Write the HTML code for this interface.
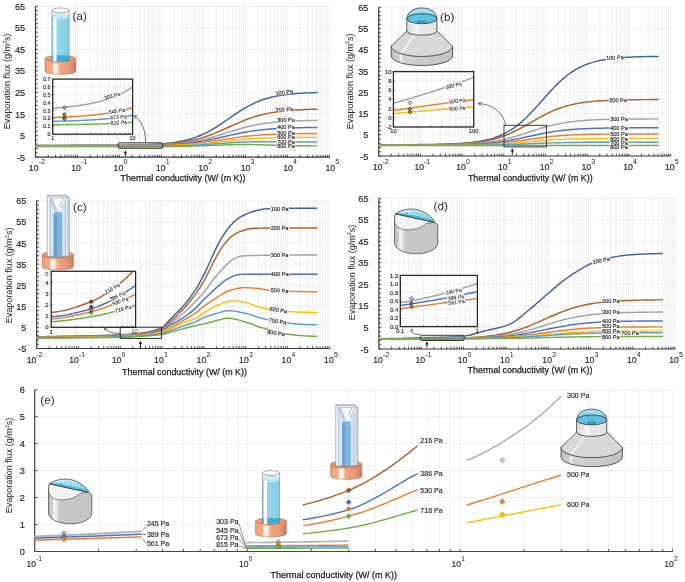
<!DOCTYPE html>
<html><head><meta charset="utf-8"><style>html,body{margin:0;padding:0;background:#fff;width:685px;height:582px;overflow:hidden} svg{display:block;will-change:transform}</style></head>
<body>
<svg width="685" height="582" viewBox="0 0 685 582" font-family='"Liberation Sans", sans-serif'>
<rect width="685" height="582" fill="#fff"/>
<line x1="48.14" y1="6.3" x2="48.14" y2="157.1" stroke="#ebebeb" stroke-width="0.8"/>
<line x1="55.54" y1="6.3" x2="55.54" y2="157.1" stroke="#ebebeb" stroke-width="0.8"/>
<line x1="60.79" y1="6.3" x2="60.79" y2="157.1" stroke="#ebebeb" stroke-width="0.8"/>
<line x1="64.86" y1="6.3" x2="64.86" y2="157.1" stroke="#ebebeb" stroke-width="0.8"/>
<line x1="68.18" y1="6.3" x2="68.18" y2="157.1" stroke="#ebebeb" stroke-width="0.8"/>
<line x1="70.99" y1="6.3" x2="70.99" y2="157.1" stroke="#ebebeb" stroke-width="0.8"/>
<line x1="73.43" y1="6.3" x2="73.43" y2="157.1" stroke="#ebebeb" stroke-width="0.8"/>
<line x1="75.58" y1="6.3" x2="75.58" y2="157.1" stroke="#ebebeb" stroke-width="0.8"/>
<line x1="77.5" y1="6.3" x2="77.5" y2="157.1" stroke="#ebebeb" stroke-width="0.8"/>
<line x1="90.14" y1="6.3" x2="90.14" y2="157.1" stroke="#ebebeb" stroke-width="0.8"/>
<line x1="97.54" y1="6.3" x2="97.54" y2="157.1" stroke="#ebebeb" stroke-width="0.8"/>
<line x1="102.79" y1="6.3" x2="102.79" y2="157.1" stroke="#ebebeb" stroke-width="0.8"/>
<line x1="106.86" y1="6.3" x2="106.86" y2="157.1" stroke="#ebebeb" stroke-width="0.8"/>
<line x1="110.18" y1="6.3" x2="110.18" y2="157.1" stroke="#ebebeb" stroke-width="0.8"/>
<line x1="112.99" y1="6.3" x2="112.99" y2="157.1" stroke="#ebebeb" stroke-width="0.8"/>
<line x1="115.43" y1="6.3" x2="115.43" y2="157.1" stroke="#ebebeb" stroke-width="0.8"/>
<line x1="117.58" y1="6.3" x2="117.58" y2="157.1" stroke="#ebebeb" stroke-width="0.8"/>
<line x1="119.5" y1="6.3" x2="119.5" y2="157.1" stroke="#ebebeb" stroke-width="0.8"/>
<line x1="132.14" y1="6.3" x2="132.14" y2="157.1" stroke="#ebebeb" stroke-width="0.8"/>
<line x1="139.54" y1="6.3" x2="139.54" y2="157.1" stroke="#ebebeb" stroke-width="0.8"/>
<line x1="144.79" y1="6.3" x2="144.79" y2="157.1" stroke="#ebebeb" stroke-width="0.8"/>
<line x1="148.86" y1="6.3" x2="148.86" y2="157.1" stroke="#ebebeb" stroke-width="0.8"/>
<line x1="152.18" y1="6.3" x2="152.18" y2="157.1" stroke="#ebebeb" stroke-width="0.8"/>
<line x1="154.99" y1="6.3" x2="154.99" y2="157.1" stroke="#ebebeb" stroke-width="0.8"/>
<line x1="157.43" y1="6.3" x2="157.43" y2="157.1" stroke="#ebebeb" stroke-width="0.8"/>
<line x1="159.58" y1="6.3" x2="159.58" y2="157.1" stroke="#ebebeb" stroke-width="0.8"/>
<line x1="161.5" y1="6.3" x2="161.5" y2="157.1" stroke="#ebebeb" stroke-width="0.8"/>
<line x1="174.14" y1="6.3" x2="174.14" y2="157.1" stroke="#ebebeb" stroke-width="0.8"/>
<line x1="181.54" y1="6.3" x2="181.54" y2="157.1" stroke="#ebebeb" stroke-width="0.8"/>
<line x1="186.79" y1="6.3" x2="186.79" y2="157.1" stroke="#ebebeb" stroke-width="0.8"/>
<line x1="190.86" y1="6.3" x2="190.86" y2="157.1" stroke="#ebebeb" stroke-width="0.8"/>
<line x1="194.18" y1="6.3" x2="194.18" y2="157.1" stroke="#ebebeb" stroke-width="0.8"/>
<line x1="196.99" y1="6.3" x2="196.99" y2="157.1" stroke="#ebebeb" stroke-width="0.8"/>
<line x1="199.43" y1="6.3" x2="199.43" y2="157.1" stroke="#ebebeb" stroke-width="0.8"/>
<line x1="201.58" y1="6.3" x2="201.58" y2="157.1" stroke="#ebebeb" stroke-width="0.8"/>
<line x1="203.5" y1="6.3" x2="203.5" y2="157.1" stroke="#ebebeb" stroke-width="0.8"/>
<line x1="216.14" y1="6.3" x2="216.14" y2="157.1" stroke="#ebebeb" stroke-width="0.8"/>
<line x1="223.54" y1="6.3" x2="223.54" y2="157.1" stroke="#ebebeb" stroke-width="0.8"/>
<line x1="228.79" y1="6.3" x2="228.79" y2="157.1" stroke="#ebebeb" stroke-width="0.8"/>
<line x1="232.86" y1="6.3" x2="232.86" y2="157.1" stroke="#ebebeb" stroke-width="0.8"/>
<line x1="236.18" y1="6.3" x2="236.18" y2="157.1" stroke="#ebebeb" stroke-width="0.8"/>
<line x1="238.99" y1="6.3" x2="238.99" y2="157.1" stroke="#ebebeb" stroke-width="0.8"/>
<line x1="241.43" y1="6.3" x2="241.43" y2="157.1" stroke="#ebebeb" stroke-width="0.8"/>
<line x1="243.58" y1="6.3" x2="243.58" y2="157.1" stroke="#ebebeb" stroke-width="0.8"/>
<line x1="245.5" y1="6.3" x2="245.5" y2="157.1" stroke="#ebebeb" stroke-width="0.8"/>
<line x1="258.14" y1="6.3" x2="258.14" y2="157.1" stroke="#ebebeb" stroke-width="0.8"/>
<line x1="265.54" y1="6.3" x2="265.54" y2="157.1" stroke="#ebebeb" stroke-width="0.8"/>
<line x1="270.79" y1="6.3" x2="270.79" y2="157.1" stroke="#ebebeb" stroke-width="0.8"/>
<line x1="274.86" y1="6.3" x2="274.86" y2="157.1" stroke="#ebebeb" stroke-width="0.8"/>
<line x1="278.18" y1="6.3" x2="278.18" y2="157.1" stroke="#ebebeb" stroke-width="0.8"/>
<line x1="280.99" y1="6.3" x2="280.99" y2="157.1" stroke="#ebebeb" stroke-width="0.8"/>
<line x1="283.43" y1="6.3" x2="283.43" y2="157.1" stroke="#ebebeb" stroke-width="0.8"/>
<line x1="285.58" y1="6.3" x2="285.58" y2="157.1" stroke="#ebebeb" stroke-width="0.8"/>
<line x1="287.5" y1="6.3" x2="287.5" y2="157.1" stroke="#ebebeb" stroke-width="0.8"/>
<line x1="300.14" y1="6.3" x2="300.14" y2="157.1" stroke="#ebebeb" stroke-width="0.8"/>
<line x1="307.54" y1="6.3" x2="307.54" y2="157.1" stroke="#ebebeb" stroke-width="0.8"/>
<line x1="312.79" y1="6.3" x2="312.79" y2="157.1" stroke="#ebebeb" stroke-width="0.8"/>
<line x1="316.86" y1="6.3" x2="316.86" y2="157.1" stroke="#ebebeb" stroke-width="0.8"/>
<line x1="320.18" y1="6.3" x2="320.18" y2="157.1" stroke="#ebebeb" stroke-width="0.8"/>
<line x1="322.99" y1="6.3" x2="322.99" y2="157.1" stroke="#ebebeb" stroke-width="0.8"/>
<line x1="325.43" y1="6.3" x2="325.43" y2="157.1" stroke="#ebebeb" stroke-width="0.8"/>
<line x1="327.58" y1="6.3" x2="327.58" y2="157.1" stroke="#ebebeb" stroke-width="0.8"/>
<line x1="329.5" y1="6.3" x2="329.5" y2="157.1" stroke="#ebebeb" stroke-width="0.8"/>
<line x1="35.5" y1="6.3" x2="329.5" y2="6.3" stroke="#ebebeb" stroke-width="0.8"/>
<line x1="35.5" y1="27.84" x2="329.5" y2="27.84" stroke="#ebebeb" stroke-width="0.8"/>
<line x1="35.5" y1="49.39" x2="329.5" y2="49.39" stroke="#ebebeb" stroke-width="0.8"/>
<line x1="35.5" y1="70.93" x2="329.5" y2="70.93" stroke="#ebebeb" stroke-width="0.8"/>
<line x1="35.5" y1="92.47" x2="329.5" y2="92.47" stroke="#ebebeb" stroke-width="0.8"/>
<line x1="35.5" y1="114.01" x2="329.5" y2="114.01" stroke="#ebebeb" stroke-width="0.8"/>
<line x1="35.5" y1="135.56" x2="329.5" y2="135.56" stroke="#ebebeb" stroke-width="0.8"/>
<line x1="35.5" y1="157.1" x2="329.5" y2="157.1" stroke="#ebebeb" stroke-width="0.8"/>
<line x1="391.25" y1="7.3" x2="391.25" y2="156" stroke="#ebebeb" stroke-width="0.8"/>
<line x1="398.6" y1="7.3" x2="398.6" y2="156" stroke="#ebebeb" stroke-width="0.8"/>
<line x1="403.81" y1="7.3" x2="403.81" y2="156" stroke="#ebebeb" stroke-width="0.8"/>
<line x1="407.85" y1="7.3" x2="407.85" y2="156" stroke="#ebebeb" stroke-width="0.8"/>
<line x1="411.15" y1="7.3" x2="411.15" y2="156" stroke="#ebebeb" stroke-width="0.8"/>
<line x1="413.94" y1="7.3" x2="413.94" y2="156" stroke="#ebebeb" stroke-width="0.8"/>
<line x1="416.36" y1="7.3" x2="416.36" y2="156" stroke="#ebebeb" stroke-width="0.8"/>
<line x1="418.49" y1="7.3" x2="418.49" y2="156" stroke="#ebebeb" stroke-width="0.8"/>
<line x1="420.4" y1="7.3" x2="420.4" y2="156" stroke="#ebebeb" stroke-width="0.8"/>
<line x1="432.95" y1="7.3" x2="432.95" y2="156" stroke="#ebebeb" stroke-width="0.8"/>
<line x1="440.3" y1="7.3" x2="440.3" y2="156" stroke="#ebebeb" stroke-width="0.8"/>
<line x1="445.51" y1="7.3" x2="445.51" y2="156" stroke="#ebebeb" stroke-width="0.8"/>
<line x1="449.55" y1="7.3" x2="449.55" y2="156" stroke="#ebebeb" stroke-width="0.8"/>
<line x1="452.85" y1="7.3" x2="452.85" y2="156" stroke="#ebebeb" stroke-width="0.8"/>
<line x1="455.64" y1="7.3" x2="455.64" y2="156" stroke="#ebebeb" stroke-width="0.8"/>
<line x1="458.06" y1="7.3" x2="458.06" y2="156" stroke="#ebebeb" stroke-width="0.8"/>
<line x1="460.19" y1="7.3" x2="460.19" y2="156" stroke="#ebebeb" stroke-width="0.8"/>
<line x1="462.1" y1="7.3" x2="462.1" y2="156" stroke="#ebebeb" stroke-width="0.8"/>
<line x1="474.65" y1="7.3" x2="474.65" y2="156" stroke="#ebebeb" stroke-width="0.8"/>
<line x1="482" y1="7.3" x2="482" y2="156" stroke="#ebebeb" stroke-width="0.8"/>
<line x1="487.21" y1="7.3" x2="487.21" y2="156" stroke="#ebebeb" stroke-width="0.8"/>
<line x1="491.25" y1="7.3" x2="491.25" y2="156" stroke="#ebebeb" stroke-width="0.8"/>
<line x1="494.55" y1="7.3" x2="494.55" y2="156" stroke="#ebebeb" stroke-width="0.8"/>
<line x1="497.34" y1="7.3" x2="497.34" y2="156" stroke="#ebebeb" stroke-width="0.8"/>
<line x1="499.76" y1="7.3" x2="499.76" y2="156" stroke="#ebebeb" stroke-width="0.8"/>
<line x1="501.89" y1="7.3" x2="501.89" y2="156" stroke="#ebebeb" stroke-width="0.8"/>
<line x1="503.8" y1="7.3" x2="503.8" y2="156" stroke="#ebebeb" stroke-width="0.8"/>
<line x1="516.35" y1="7.3" x2="516.35" y2="156" stroke="#ebebeb" stroke-width="0.8"/>
<line x1="523.7" y1="7.3" x2="523.7" y2="156" stroke="#ebebeb" stroke-width="0.8"/>
<line x1="528.91" y1="7.3" x2="528.91" y2="156" stroke="#ebebeb" stroke-width="0.8"/>
<line x1="532.95" y1="7.3" x2="532.95" y2="156" stroke="#ebebeb" stroke-width="0.8"/>
<line x1="536.25" y1="7.3" x2="536.25" y2="156" stroke="#ebebeb" stroke-width="0.8"/>
<line x1="539.04" y1="7.3" x2="539.04" y2="156" stroke="#ebebeb" stroke-width="0.8"/>
<line x1="541.46" y1="7.3" x2="541.46" y2="156" stroke="#ebebeb" stroke-width="0.8"/>
<line x1="543.59" y1="7.3" x2="543.59" y2="156" stroke="#ebebeb" stroke-width="0.8"/>
<line x1="545.5" y1="7.3" x2="545.5" y2="156" stroke="#ebebeb" stroke-width="0.8"/>
<line x1="558.05" y1="7.3" x2="558.05" y2="156" stroke="#ebebeb" stroke-width="0.8"/>
<line x1="565.4" y1="7.3" x2="565.4" y2="156" stroke="#ebebeb" stroke-width="0.8"/>
<line x1="570.61" y1="7.3" x2="570.61" y2="156" stroke="#ebebeb" stroke-width="0.8"/>
<line x1="574.65" y1="7.3" x2="574.65" y2="156" stroke="#ebebeb" stroke-width="0.8"/>
<line x1="577.95" y1="7.3" x2="577.95" y2="156" stroke="#ebebeb" stroke-width="0.8"/>
<line x1="580.74" y1="7.3" x2="580.74" y2="156" stroke="#ebebeb" stroke-width="0.8"/>
<line x1="583.16" y1="7.3" x2="583.16" y2="156" stroke="#ebebeb" stroke-width="0.8"/>
<line x1="585.29" y1="7.3" x2="585.29" y2="156" stroke="#ebebeb" stroke-width="0.8"/>
<line x1="587.2" y1="7.3" x2="587.2" y2="156" stroke="#ebebeb" stroke-width="0.8"/>
<line x1="599.75" y1="7.3" x2="599.75" y2="156" stroke="#ebebeb" stroke-width="0.8"/>
<line x1="607.1" y1="7.3" x2="607.1" y2="156" stroke="#ebebeb" stroke-width="0.8"/>
<line x1="612.31" y1="7.3" x2="612.31" y2="156" stroke="#ebebeb" stroke-width="0.8"/>
<line x1="616.35" y1="7.3" x2="616.35" y2="156" stroke="#ebebeb" stroke-width="0.8"/>
<line x1="619.65" y1="7.3" x2="619.65" y2="156" stroke="#ebebeb" stroke-width="0.8"/>
<line x1="622.44" y1="7.3" x2="622.44" y2="156" stroke="#ebebeb" stroke-width="0.8"/>
<line x1="624.86" y1="7.3" x2="624.86" y2="156" stroke="#ebebeb" stroke-width="0.8"/>
<line x1="626.99" y1="7.3" x2="626.99" y2="156" stroke="#ebebeb" stroke-width="0.8"/>
<line x1="628.9" y1="7.3" x2="628.9" y2="156" stroke="#ebebeb" stroke-width="0.8"/>
<line x1="641.45" y1="7.3" x2="641.45" y2="156" stroke="#ebebeb" stroke-width="0.8"/>
<line x1="648.8" y1="7.3" x2="648.8" y2="156" stroke="#ebebeb" stroke-width="0.8"/>
<line x1="654.01" y1="7.3" x2="654.01" y2="156" stroke="#ebebeb" stroke-width="0.8"/>
<line x1="658.05" y1="7.3" x2="658.05" y2="156" stroke="#ebebeb" stroke-width="0.8"/>
<line x1="661.35" y1="7.3" x2="661.35" y2="156" stroke="#ebebeb" stroke-width="0.8"/>
<line x1="664.14" y1="7.3" x2="664.14" y2="156" stroke="#ebebeb" stroke-width="0.8"/>
<line x1="666.56" y1="7.3" x2="666.56" y2="156" stroke="#ebebeb" stroke-width="0.8"/>
<line x1="668.69" y1="7.3" x2="668.69" y2="156" stroke="#ebebeb" stroke-width="0.8"/>
<line x1="670.6" y1="7.3" x2="670.6" y2="156" stroke="#ebebeb" stroke-width="0.8"/>
<line x1="378.7" y1="7.3" x2="670.6" y2="7.3" stroke="#ebebeb" stroke-width="0.8"/>
<line x1="378.7" y1="28.54" x2="670.6" y2="28.54" stroke="#ebebeb" stroke-width="0.8"/>
<line x1="378.7" y1="49.79" x2="670.6" y2="49.79" stroke="#ebebeb" stroke-width="0.8"/>
<line x1="378.7" y1="71.03" x2="670.6" y2="71.03" stroke="#ebebeb" stroke-width="0.8"/>
<line x1="378.7" y1="92.27" x2="670.6" y2="92.27" stroke="#ebebeb" stroke-width="0.8"/>
<line x1="378.7" y1="113.51" x2="670.6" y2="113.51" stroke="#ebebeb" stroke-width="0.8"/>
<line x1="378.7" y1="134.76" x2="670.6" y2="134.76" stroke="#ebebeb" stroke-width="0.8"/>
<line x1="378.7" y1="156" x2="670.6" y2="156" stroke="#ebebeb" stroke-width="0.8"/>
<line x1="49.28" y1="200.8" x2="49.28" y2="348.5" stroke="#ebebeb" stroke-width="0.8"/>
<line x1="56.64" y1="200.8" x2="56.64" y2="348.5" stroke="#ebebeb" stroke-width="0.8"/>
<line x1="61.87" y1="200.8" x2="61.87" y2="348.5" stroke="#ebebeb" stroke-width="0.8"/>
<line x1="65.92" y1="200.8" x2="65.92" y2="348.5" stroke="#ebebeb" stroke-width="0.8"/>
<line x1="69.23" y1="200.8" x2="69.23" y2="348.5" stroke="#ebebeb" stroke-width="0.8"/>
<line x1="72.03" y1="200.8" x2="72.03" y2="348.5" stroke="#ebebeb" stroke-width="0.8"/>
<line x1="74.45" y1="200.8" x2="74.45" y2="348.5" stroke="#ebebeb" stroke-width="0.8"/>
<line x1="76.59" y1="200.8" x2="76.59" y2="348.5" stroke="#ebebeb" stroke-width="0.8"/>
<line x1="78.5" y1="200.8" x2="78.5" y2="348.5" stroke="#ebebeb" stroke-width="0.8"/>
<line x1="91.08" y1="200.8" x2="91.08" y2="348.5" stroke="#ebebeb" stroke-width="0.8"/>
<line x1="98.44" y1="200.8" x2="98.44" y2="348.5" stroke="#ebebeb" stroke-width="0.8"/>
<line x1="103.67" y1="200.8" x2="103.67" y2="348.5" stroke="#ebebeb" stroke-width="0.8"/>
<line x1="107.72" y1="200.8" x2="107.72" y2="348.5" stroke="#ebebeb" stroke-width="0.8"/>
<line x1="111.03" y1="200.8" x2="111.03" y2="348.5" stroke="#ebebeb" stroke-width="0.8"/>
<line x1="113.83" y1="200.8" x2="113.83" y2="348.5" stroke="#ebebeb" stroke-width="0.8"/>
<line x1="116.25" y1="200.8" x2="116.25" y2="348.5" stroke="#ebebeb" stroke-width="0.8"/>
<line x1="118.39" y1="200.8" x2="118.39" y2="348.5" stroke="#ebebeb" stroke-width="0.8"/>
<line x1="120.3" y1="200.8" x2="120.3" y2="348.5" stroke="#ebebeb" stroke-width="0.8"/>
<line x1="132.88" y1="200.8" x2="132.88" y2="348.5" stroke="#ebebeb" stroke-width="0.8"/>
<line x1="140.24" y1="200.8" x2="140.24" y2="348.5" stroke="#ebebeb" stroke-width="0.8"/>
<line x1="145.47" y1="200.8" x2="145.47" y2="348.5" stroke="#ebebeb" stroke-width="0.8"/>
<line x1="149.52" y1="200.8" x2="149.52" y2="348.5" stroke="#ebebeb" stroke-width="0.8"/>
<line x1="152.83" y1="200.8" x2="152.83" y2="348.5" stroke="#ebebeb" stroke-width="0.8"/>
<line x1="155.63" y1="200.8" x2="155.63" y2="348.5" stroke="#ebebeb" stroke-width="0.8"/>
<line x1="158.05" y1="200.8" x2="158.05" y2="348.5" stroke="#ebebeb" stroke-width="0.8"/>
<line x1="160.19" y1="200.8" x2="160.19" y2="348.5" stroke="#ebebeb" stroke-width="0.8"/>
<line x1="162.1" y1="200.8" x2="162.1" y2="348.5" stroke="#ebebeb" stroke-width="0.8"/>
<line x1="174.68" y1="200.8" x2="174.68" y2="348.5" stroke="#ebebeb" stroke-width="0.8"/>
<line x1="182.04" y1="200.8" x2="182.04" y2="348.5" stroke="#ebebeb" stroke-width="0.8"/>
<line x1="187.27" y1="200.8" x2="187.27" y2="348.5" stroke="#ebebeb" stroke-width="0.8"/>
<line x1="191.32" y1="200.8" x2="191.32" y2="348.5" stroke="#ebebeb" stroke-width="0.8"/>
<line x1="194.63" y1="200.8" x2="194.63" y2="348.5" stroke="#ebebeb" stroke-width="0.8"/>
<line x1="197.43" y1="200.8" x2="197.43" y2="348.5" stroke="#ebebeb" stroke-width="0.8"/>
<line x1="199.85" y1="200.8" x2="199.85" y2="348.5" stroke="#ebebeb" stroke-width="0.8"/>
<line x1="201.99" y1="200.8" x2="201.99" y2="348.5" stroke="#ebebeb" stroke-width="0.8"/>
<line x1="203.9" y1="200.8" x2="203.9" y2="348.5" stroke="#ebebeb" stroke-width="0.8"/>
<line x1="216.48" y1="200.8" x2="216.48" y2="348.5" stroke="#ebebeb" stroke-width="0.8"/>
<line x1="223.84" y1="200.8" x2="223.84" y2="348.5" stroke="#ebebeb" stroke-width="0.8"/>
<line x1="229.07" y1="200.8" x2="229.07" y2="348.5" stroke="#ebebeb" stroke-width="0.8"/>
<line x1="233.12" y1="200.8" x2="233.12" y2="348.5" stroke="#ebebeb" stroke-width="0.8"/>
<line x1="236.43" y1="200.8" x2="236.43" y2="348.5" stroke="#ebebeb" stroke-width="0.8"/>
<line x1="239.23" y1="200.8" x2="239.23" y2="348.5" stroke="#ebebeb" stroke-width="0.8"/>
<line x1="241.65" y1="200.8" x2="241.65" y2="348.5" stroke="#ebebeb" stroke-width="0.8"/>
<line x1="243.79" y1="200.8" x2="243.79" y2="348.5" stroke="#ebebeb" stroke-width="0.8"/>
<line x1="245.7" y1="200.8" x2="245.7" y2="348.5" stroke="#ebebeb" stroke-width="0.8"/>
<line x1="258.28" y1="200.8" x2="258.28" y2="348.5" stroke="#ebebeb" stroke-width="0.8"/>
<line x1="265.64" y1="200.8" x2="265.64" y2="348.5" stroke="#ebebeb" stroke-width="0.8"/>
<line x1="270.87" y1="200.8" x2="270.87" y2="348.5" stroke="#ebebeb" stroke-width="0.8"/>
<line x1="274.92" y1="200.8" x2="274.92" y2="348.5" stroke="#ebebeb" stroke-width="0.8"/>
<line x1="278.23" y1="200.8" x2="278.23" y2="348.5" stroke="#ebebeb" stroke-width="0.8"/>
<line x1="281.03" y1="200.8" x2="281.03" y2="348.5" stroke="#ebebeb" stroke-width="0.8"/>
<line x1="283.45" y1="200.8" x2="283.45" y2="348.5" stroke="#ebebeb" stroke-width="0.8"/>
<line x1="285.59" y1="200.8" x2="285.59" y2="348.5" stroke="#ebebeb" stroke-width="0.8"/>
<line x1="287.5" y1="200.8" x2="287.5" y2="348.5" stroke="#ebebeb" stroke-width="0.8"/>
<line x1="300.08" y1="200.8" x2="300.08" y2="348.5" stroke="#ebebeb" stroke-width="0.8"/>
<line x1="307.44" y1="200.8" x2="307.44" y2="348.5" stroke="#ebebeb" stroke-width="0.8"/>
<line x1="312.67" y1="200.8" x2="312.67" y2="348.5" stroke="#ebebeb" stroke-width="0.8"/>
<line x1="316.72" y1="200.8" x2="316.72" y2="348.5" stroke="#ebebeb" stroke-width="0.8"/>
<line x1="320.03" y1="200.8" x2="320.03" y2="348.5" stroke="#ebebeb" stroke-width="0.8"/>
<line x1="322.83" y1="200.8" x2="322.83" y2="348.5" stroke="#ebebeb" stroke-width="0.8"/>
<line x1="325.25" y1="200.8" x2="325.25" y2="348.5" stroke="#ebebeb" stroke-width="0.8"/>
<line x1="327.39" y1="200.8" x2="327.39" y2="348.5" stroke="#ebebeb" stroke-width="0.8"/>
<line x1="329.3" y1="200.8" x2="329.3" y2="348.5" stroke="#ebebeb" stroke-width="0.8"/>
<line x1="36.7" y1="200.8" x2="329.3" y2="200.8" stroke="#ebebeb" stroke-width="0.8"/>
<line x1="36.7" y1="221.9" x2="329.3" y2="221.9" stroke="#ebebeb" stroke-width="0.8"/>
<line x1="36.7" y1="243" x2="329.3" y2="243" stroke="#ebebeb" stroke-width="0.8"/>
<line x1="36.7" y1="264.1" x2="329.3" y2="264.1" stroke="#ebebeb" stroke-width="0.8"/>
<line x1="36.7" y1="285.2" x2="329.3" y2="285.2" stroke="#ebebeb" stroke-width="0.8"/>
<line x1="36.7" y1="306.3" x2="329.3" y2="306.3" stroke="#ebebeb" stroke-width="0.8"/>
<line x1="36.7" y1="327.4" x2="329.3" y2="327.4" stroke="#ebebeb" stroke-width="0.8"/>
<line x1="36.7" y1="348.5" x2="329.3" y2="348.5" stroke="#ebebeb" stroke-width="0.8"/>
<line x1="391.63" y1="198.2" x2="391.63" y2="349" stroke="#ebebeb" stroke-width="0.8"/>
<line x1="399.08" y1="198.2" x2="399.08" y2="349" stroke="#ebebeb" stroke-width="0.8"/>
<line x1="404.37" y1="198.2" x2="404.37" y2="349" stroke="#ebebeb" stroke-width="0.8"/>
<line x1="408.47" y1="198.2" x2="408.47" y2="349" stroke="#ebebeb" stroke-width="0.8"/>
<line x1="411.82" y1="198.2" x2="411.82" y2="349" stroke="#ebebeb" stroke-width="0.8"/>
<line x1="414.65" y1="198.2" x2="414.65" y2="349" stroke="#ebebeb" stroke-width="0.8"/>
<line x1="417.1" y1="198.2" x2="417.1" y2="349" stroke="#ebebeb" stroke-width="0.8"/>
<line x1="419.26" y1="198.2" x2="419.26" y2="349" stroke="#ebebeb" stroke-width="0.8"/>
<line x1="421.2" y1="198.2" x2="421.2" y2="349" stroke="#ebebeb" stroke-width="0.8"/>
<line x1="433.93" y1="198.2" x2="433.93" y2="349" stroke="#ebebeb" stroke-width="0.8"/>
<line x1="441.38" y1="198.2" x2="441.38" y2="349" stroke="#ebebeb" stroke-width="0.8"/>
<line x1="446.67" y1="198.2" x2="446.67" y2="349" stroke="#ebebeb" stroke-width="0.8"/>
<line x1="450.77" y1="198.2" x2="450.77" y2="349" stroke="#ebebeb" stroke-width="0.8"/>
<line x1="454.12" y1="198.2" x2="454.12" y2="349" stroke="#ebebeb" stroke-width="0.8"/>
<line x1="456.95" y1="198.2" x2="456.95" y2="349" stroke="#ebebeb" stroke-width="0.8"/>
<line x1="459.4" y1="198.2" x2="459.4" y2="349" stroke="#ebebeb" stroke-width="0.8"/>
<line x1="461.56" y1="198.2" x2="461.56" y2="349" stroke="#ebebeb" stroke-width="0.8"/>
<line x1="463.5" y1="198.2" x2="463.5" y2="349" stroke="#ebebeb" stroke-width="0.8"/>
<line x1="476.23" y1="198.2" x2="476.23" y2="349" stroke="#ebebeb" stroke-width="0.8"/>
<line x1="483.68" y1="198.2" x2="483.68" y2="349" stroke="#ebebeb" stroke-width="0.8"/>
<line x1="488.97" y1="198.2" x2="488.97" y2="349" stroke="#ebebeb" stroke-width="0.8"/>
<line x1="493.07" y1="198.2" x2="493.07" y2="349" stroke="#ebebeb" stroke-width="0.8"/>
<line x1="496.42" y1="198.2" x2="496.42" y2="349" stroke="#ebebeb" stroke-width="0.8"/>
<line x1="499.25" y1="198.2" x2="499.25" y2="349" stroke="#ebebeb" stroke-width="0.8"/>
<line x1="501.7" y1="198.2" x2="501.7" y2="349" stroke="#ebebeb" stroke-width="0.8"/>
<line x1="503.86" y1="198.2" x2="503.86" y2="349" stroke="#ebebeb" stroke-width="0.8"/>
<line x1="505.8" y1="198.2" x2="505.8" y2="349" stroke="#ebebeb" stroke-width="0.8"/>
<line x1="518.53" y1="198.2" x2="518.53" y2="349" stroke="#ebebeb" stroke-width="0.8"/>
<line x1="525.98" y1="198.2" x2="525.98" y2="349" stroke="#ebebeb" stroke-width="0.8"/>
<line x1="531.27" y1="198.2" x2="531.27" y2="349" stroke="#ebebeb" stroke-width="0.8"/>
<line x1="535.37" y1="198.2" x2="535.37" y2="349" stroke="#ebebeb" stroke-width="0.8"/>
<line x1="538.72" y1="198.2" x2="538.72" y2="349" stroke="#ebebeb" stroke-width="0.8"/>
<line x1="541.55" y1="198.2" x2="541.55" y2="349" stroke="#ebebeb" stroke-width="0.8"/>
<line x1="544" y1="198.2" x2="544" y2="349" stroke="#ebebeb" stroke-width="0.8"/>
<line x1="546.16" y1="198.2" x2="546.16" y2="349" stroke="#ebebeb" stroke-width="0.8"/>
<line x1="548.1" y1="198.2" x2="548.1" y2="349" stroke="#ebebeb" stroke-width="0.8"/>
<line x1="560.83" y1="198.2" x2="560.83" y2="349" stroke="#ebebeb" stroke-width="0.8"/>
<line x1="568.28" y1="198.2" x2="568.28" y2="349" stroke="#ebebeb" stroke-width="0.8"/>
<line x1="573.57" y1="198.2" x2="573.57" y2="349" stroke="#ebebeb" stroke-width="0.8"/>
<line x1="577.67" y1="198.2" x2="577.67" y2="349" stroke="#ebebeb" stroke-width="0.8"/>
<line x1="581.02" y1="198.2" x2="581.02" y2="349" stroke="#ebebeb" stroke-width="0.8"/>
<line x1="583.85" y1="198.2" x2="583.85" y2="349" stroke="#ebebeb" stroke-width="0.8"/>
<line x1="586.3" y1="198.2" x2="586.3" y2="349" stroke="#ebebeb" stroke-width="0.8"/>
<line x1="588.46" y1="198.2" x2="588.46" y2="349" stroke="#ebebeb" stroke-width="0.8"/>
<line x1="590.4" y1="198.2" x2="590.4" y2="349" stroke="#ebebeb" stroke-width="0.8"/>
<line x1="603.13" y1="198.2" x2="603.13" y2="349" stroke="#ebebeb" stroke-width="0.8"/>
<line x1="610.58" y1="198.2" x2="610.58" y2="349" stroke="#ebebeb" stroke-width="0.8"/>
<line x1="615.87" y1="198.2" x2="615.87" y2="349" stroke="#ebebeb" stroke-width="0.8"/>
<line x1="619.97" y1="198.2" x2="619.97" y2="349" stroke="#ebebeb" stroke-width="0.8"/>
<line x1="623.32" y1="198.2" x2="623.32" y2="349" stroke="#ebebeb" stroke-width="0.8"/>
<line x1="626.15" y1="198.2" x2="626.15" y2="349" stroke="#ebebeb" stroke-width="0.8"/>
<line x1="628.6" y1="198.2" x2="628.6" y2="349" stroke="#ebebeb" stroke-width="0.8"/>
<line x1="630.76" y1="198.2" x2="630.76" y2="349" stroke="#ebebeb" stroke-width="0.8"/>
<line x1="632.7" y1="198.2" x2="632.7" y2="349" stroke="#ebebeb" stroke-width="0.8"/>
<line x1="645.43" y1="198.2" x2="645.43" y2="349" stroke="#ebebeb" stroke-width="0.8"/>
<line x1="652.88" y1="198.2" x2="652.88" y2="349" stroke="#ebebeb" stroke-width="0.8"/>
<line x1="658.17" y1="198.2" x2="658.17" y2="349" stroke="#ebebeb" stroke-width="0.8"/>
<line x1="662.27" y1="198.2" x2="662.27" y2="349" stroke="#ebebeb" stroke-width="0.8"/>
<line x1="665.62" y1="198.2" x2="665.62" y2="349" stroke="#ebebeb" stroke-width="0.8"/>
<line x1="668.45" y1="198.2" x2="668.45" y2="349" stroke="#ebebeb" stroke-width="0.8"/>
<line x1="670.9" y1="198.2" x2="670.9" y2="349" stroke="#ebebeb" stroke-width="0.8"/>
<line x1="673.06" y1="198.2" x2="673.06" y2="349" stroke="#ebebeb" stroke-width="0.8"/>
<line x1="675" y1="198.2" x2="675" y2="349" stroke="#ebebeb" stroke-width="0.8"/>
<line x1="378.9" y1="198.2" x2="675" y2="198.2" stroke="#ebebeb" stroke-width="0.8"/>
<line x1="378.9" y1="219.74" x2="675" y2="219.74" stroke="#ebebeb" stroke-width="0.8"/>
<line x1="378.9" y1="241.29" x2="675" y2="241.29" stroke="#ebebeb" stroke-width="0.8"/>
<line x1="378.9" y1="262.83" x2="675" y2="262.83" stroke="#ebebeb" stroke-width="0.8"/>
<line x1="378.9" y1="284.37" x2="675" y2="284.37" stroke="#ebebeb" stroke-width="0.8"/>
<line x1="378.9" y1="305.91" x2="675" y2="305.91" stroke="#ebebeb" stroke-width="0.8"/>
<line x1="378.9" y1="327.46" x2="675" y2="327.46" stroke="#ebebeb" stroke-width="0.8"/>
<line x1="378.9" y1="349" x2="675" y2="349" stroke="#ebebeb" stroke-width="0.8"/>
<path d="M35.5 6.3 V157.1 H329.5" fill="none" stroke="#3a3a3a" stroke-width="1.2"/>
<path d="M35.5 157.1h2.3 M35.5 152.79h2.3 M35.5 148.48h2.3 M35.5 144.17h2.3 M35.5 139.87h2.3 M35.5 135.56h2.3 M35.5 131.25h2.3 M35.5 126.94h2.3 M35.5 122.63h2.3 M35.5 118.32h2.3 M35.5 114.01h2.3 M35.5 109.71h2.3 M35.5 105.4h2.3 M35.5 101.09h2.3 M35.5 96.78h2.3 M35.5 92.47h2.3 M35.5 88.16h2.3 M35.5 83.85h2.3 M35.5 79.55h2.3 M35.5 75.24h2.3 M35.5 70.93h2.3 M35.5 66.62h2.3 M35.5 62.31h2.3 M35.5 58h2.3 M35.5 53.69h2.3 M35.5 49.39h2.3 M35.5 45.08h2.3 M35.5 40.77h2.3 M35.5 36.46h2.3 M35.5 32.15h2.3 M35.5 27.84h2.3 M35.5 23.53h2.3 M35.5 19.23h2.3 M35.5 14.92h2.3 M35.5 10.61h2.3 M35.5 6.3h2.3 M48.14 157.1v-2.3 M55.54 157.1v-2.3 M60.79 157.1v-2.3 M64.86 157.1v-2.3 M68.18 157.1v-2.3 M70.99 157.1v-2.3 M73.43 157.1v-2.3 M75.58 157.1v-2.3 M77.5 157.1v-2.3 M90.14 157.1v-2.3 M97.54 157.1v-2.3 M102.79 157.1v-2.3 M106.86 157.1v-2.3 M110.18 157.1v-2.3 M112.99 157.1v-2.3 M115.43 157.1v-2.3 M117.58 157.1v-2.3 M119.5 157.1v-2.3 M132.14 157.1v-2.3 M139.54 157.1v-2.3 M144.79 157.1v-2.3 M148.86 157.1v-2.3 M152.18 157.1v-2.3 M154.99 157.1v-2.3 M157.43 157.1v-2.3 M159.58 157.1v-2.3 M161.5 157.1v-2.3 M174.14 157.1v-2.3 M181.54 157.1v-2.3 M186.79 157.1v-2.3 M190.86 157.1v-2.3 M194.18 157.1v-2.3 M196.99 157.1v-2.3 M199.43 157.1v-2.3 M201.58 157.1v-2.3 M203.5 157.1v-2.3 M216.14 157.1v-2.3 M223.54 157.1v-2.3 M228.79 157.1v-2.3 M232.86 157.1v-2.3 M236.18 157.1v-2.3 M238.99 157.1v-2.3 M241.43 157.1v-2.3 M243.58 157.1v-2.3 M245.5 157.1v-2.3 M258.14 157.1v-2.3 M265.54 157.1v-2.3 M270.79 157.1v-2.3 M274.86 157.1v-2.3 M278.18 157.1v-2.3 M280.99 157.1v-2.3 M283.43 157.1v-2.3 M285.58 157.1v-2.3 M287.5 157.1v-2.3 M300.14 157.1v-2.3 M307.54 157.1v-2.3 M312.79 157.1v-2.3 M316.86 157.1v-2.3 M320.18 157.1v-2.3 M322.99 157.1v-2.3 M325.43 157.1v-2.3 M327.58 157.1v-2.3 M329.5 157.1v-2.3" fill="none" stroke="#3a3a3a" stroke-width="0.9"/>
<text transform="translate(25.2,9.8) scale(0.93,1)" font-size="9.9" text-anchor="end" fill="#222222" stroke="#222222" stroke-width="0.15">65</text>
<text transform="translate(25.2,31.34) scale(0.93,1)" font-size="9.9" text-anchor="end" fill="#222222" stroke="#222222" stroke-width="0.15">55</text>
<text transform="translate(25.2,52.89) scale(0.93,1)" font-size="9.9" text-anchor="end" fill="#222222" stroke="#222222" stroke-width="0.15">45</text>
<text transform="translate(25.2,74.43) scale(0.93,1)" font-size="9.9" text-anchor="end" fill="#222222" stroke="#222222" stroke-width="0.15">35</text>
<text transform="translate(25.2,95.97) scale(0.93,1)" font-size="9.9" text-anchor="end" fill="#222222" stroke="#222222" stroke-width="0.15">25</text>
<text transform="translate(25.2,117.51) scale(0.93,1)" font-size="9.9" text-anchor="end" fill="#222222" stroke="#222222" stroke-width="0.15">15</text>
<text transform="translate(25.2,139.06) scale(0.93,1)" font-size="9.9" text-anchor="end" fill="#222222" stroke="#222222" stroke-width="0.15">5</text>
<text transform="translate(25.2,160.6) scale(0.93,1)" font-size="9.9" text-anchor="end" fill="#222222" stroke="#222222" stroke-width="0.15">-5</text>
<text transform="translate(33.7,170.6) scale(0.91,1)" font-size="9.6" text-anchor="middle" fill="#222222" stroke="#222222" stroke-width="0.15">10</text>
<text x="38.66" y="164.4" font-size="7.0" fill="#222222">-2</text>
<text transform="translate(76.08,170.6) scale(0.91,1)" font-size="9.6" text-anchor="middle" fill="#222222" stroke="#222222" stroke-width="0.15">10</text>
<text x="81.04" y="164.4" font-size="7.0" fill="#222222">-1</text>
<text transform="translate(118.46,170.6) scale(0.91,1)" font-size="9.6" text-anchor="middle" fill="#222222" stroke="#222222" stroke-width="0.15">10</text>
<text x="123.42" y="164.4" font-size="7.0" fill="#222222">0</text>
<text transform="translate(160.84,170.6) scale(0.91,1)" font-size="9.6" text-anchor="middle" fill="#222222" stroke="#222222" stroke-width="0.15">10</text>
<text x="165.8" y="164.4" font-size="7.0" fill="#222222">1</text>
<text transform="translate(203.22,170.6) scale(0.91,1)" font-size="9.6" text-anchor="middle" fill="#222222" stroke="#222222" stroke-width="0.15">10</text>
<text x="208.18" y="164.4" font-size="7.0" fill="#222222">2</text>
<text transform="translate(245.6,170.6) scale(0.91,1)" font-size="9.6" text-anchor="middle" fill="#222222" stroke="#222222" stroke-width="0.15">10</text>
<text x="250.56" y="164.4" font-size="7.0" fill="#222222">3</text>
<text transform="translate(287.98,170.6) scale(0.91,1)" font-size="9.6" text-anchor="middle" fill="#222222" stroke="#222222" stroke-width="0.15">10</text>
<text x="292.94" y="164.4" font-size="7.0" fill="#222222">4</text>
<text transform="translate(330.36,170.6) scale(0.91,1)" font-size="9.6" text-anchor="middle" fill="#222222" stroke="#222222" stroke-width="0.15">10</text>
<text x="335.32" y="164.4" font-size="7.0" fill="#222222">5</text>
<text transform="translate(10,81.3) rotate(-90)" x="0" y="0" font-size="9.0" text-anchor="middle" fill="#222222">Evaporation flux (g/m<tspan font-size="5.6" dy="-3.5">2</tspan><tspan dy="3.5">s)</tspan></text>
<text x="183" y="181.3" font-size="8.9" text-anchor="middle" fill="#222222" stroke="#222" stroke-width="0.25">Thermal conductivity (W/ (m K))</text>
<path d="M378.7 7.3 V156 H670.6" fill="none" stroke="#3a3a3a" stroke-width="1.2"/>
<path d="M378.7 156h2.3 M378.7 151.75h2.3 M378.7 147.5h2.3 M378.7 143.25h2.3 M378.7 139.01h2.3 M378.7 134.76h2.3 M378.7 130.51h2.3 M378.7 126.26h2.3 M378.7 122.01h2.3 M378.7 117.76h2.3 M378.7 113.51h2.3 M378.7 109.27h2.3 M378.7 105.02h2.3 M378.7 100.77h2.3 M378.7 96.52h2.3 M378.7 92.27h2.3 M378.7 88.02h2.3 M378.7 83.77h2.3 M378.7 79.53h2.3 M378.7 75.28h2.3 M378.7 71.03h2.3 M378.7 66.78h2.3 M378.7 62.53h2.3 M378.7 58.28h2.3 M378.7 54.03h2.3 M378.7 49.79h2.3 M378.7 45.54h2.3 M378.7 41.29h2.3 M378.7 37.04h2.3 M378.7 32.79h2.3 M378.7 28.54h2.3 M378.7 24.29h2.3 M378.7 20.05h2.3 M378.7 15.8h2.3 M378.7 11.55h2.3 M378.7 7.3h2.3 M391.25 156v-2.3 M398.6 156v-2.3 M403.81 156v-2.3 M407.85 156v-2.3 M411.15 156v-2.3 M413.94 156v-2.3 M416.36 156v-2.3 M418.49 156v-2.3 M420.4 156v-2.3 M432.95 156v-2.3 M440.3 156v-2.3 M445.51 156v-2.3 M449.55 156v-2.3 M452.85 156v-2.3 M455.64 156v-2.3 M458.06 156v-2.3 M460.19 156v-2.3 M462.1 156v-2.3 M474.65 156v-2.3 M482 156v-2.3 M487.21 156v-2.3 M491.25 156v-2.3 M494.55 156v-2.3 M497.34 156v-2.3 M499.76 156v-2.3 M501.89 156v-2.3 M503.8 156v-2.3 M516.35 156v-2.3 M523.7 156v-2.3 M528.91 156v-2.3 M532.95 156v-2.3 M536.25 156v-2.3 M539.04 156v-2.3 M541.46 156v-2.3 M543.59 156v-2.3 M545.5 156v-2.3 M558.05 156v-2.3 M565.4 156v-2.3 M570.61 156v-2.3 M574.65 156v-2.3 M577.95 156v-2.3 M580.74 156v-2.3 M583.16 156v-2.3 M585.29 156v-2.3 M587.2 156v-2.3 M599.75 156v-2.3 M607.1 156v-2.3 M612.31 156v-2.3 M616.35 156v-2.3 M619.65 156v-2.3 M622.44 156v-2.3 M624.86 156v-2.3 M626.99 156v-2.3 M628.9 156v-2.3 M641.45 156v-2.3 M648.8 156v-2.3 M654.01 156v-2.3 M658.05 156v-2.3 M661.35 156v-2.3 M664.14 156v-2.3 M666.56 156v-2.3 M668.69 156v-2.3 M670.6 156v-2.3" fill="none" stroke="#3a3a3a" stroke-width="0.9"/>
<text transform="translate(368.4,10.8) scale(0.93,1)" font-size="9.9" text-anchor="end" fill="#222222" stroke="#222222" stroke-width="0.15">65</text>
<text transform="translate(368.4,32.04) scale(0.93,1)" font-size="9.9" text-anchor="end" fill="#222222" stroke="#222222" stroke-width="0.15">55</text>
<text transform="translate(368.4,53.29) scale(0.93,1)" font-size="9.9" text-anchor="end" fill="#222222" stroke="#222222" stroke-width="0.15">45</text>
<text transform="translate(368.4,74.53) scale(0.93,1)" font-size="9.9" text-anchor="end" fill="#222222" stroke="#222222" stroke-width="0.15">35</text>
<text transform="translate(368.4,95.77) scale(0.93,1)" font-size="9.9" text-anchor="end" fill="#222222" stroke="#222222" stroke-width="0.15">25</text>
<text transform="translate(368.4,117.01) scale(0.93,1)" font-size="9.9" text-anchor="end" fill="#222222" stroke="#222222" stroke-width="0.15">15</text>
<text transform="translate(368.4,138.26) scale(0.93,1)" font-size="9.9" text-anchor="end" fill="#222222" stroke="#222222" stroke-width="0.15">5</text>
<text transform="translate(368.4,159.5) scale(0.93,1)" font-size="9.9" text-anchor="end" fill="#222222" stroke="#222222" stroke-width="0.15">-5</text>
<text transform="translate(377.5,169.8) scale(0.91,1)" font-size="9.6" text-anchor="middle" fill="#222222" stroke="#222222" stroke-width="0.15">10</text>
<text x="382.46" y="163.6" font-size="7.0" fill="#222222">-2</text>
<text transform="translate(419.26,169.8) scale(0.91,1)" font-size="9.6" text-anchor="middle" fill="#222222" stroke="#222222" stroke-width="0.15">10</text>
<text x="424.22" y="163.6" font-size="7.0" fill="#222222">-1</text>
<text transform="translate(461.02,169.8) scale(0.91,1)" font-size="9.6" text-anchor="middle" fill="#222222" stroke="#222222" stroke-width="0.15">10</text>
<text x="465.98" y="163.6" font-size="7.0" fill="#222222">0</text>
<text transform="translate(502.78,169.8) scale(0.91,1)" font-size="9.6" text-anchor="middle" fill="#222222" stroke="#222222" stroke-width="0.15">10</text>
<text x="507.74" y="163.6" font-size="7.0" fill="#222222">1</text>
<text transform="translate(544.54,169.8) scale(0.91,1)" font-size="9.6" text-anchor="middle" fill="#222222" stroke="#222222" stroke-width="0.15">10</text>
<text x="549.5" y="163.6" font-size="7.0" fill="#222222">2</text>
<text transform="translate(586.3,169.8) scale(0.91,1)" font-size="9.6" text-anchor="middle" fill="#222222" stroke="#222222" stroke-width="0.15">10</text>
<text x="591.26" y="163.6" font-size="7.0" fill="#222222">3</text>
<text transform="translate(628.06,169.8) scale(0.91,1)" font-size="9.6" text-anchor="middle" fill="#222222" stroke="#222222" stroke-width="0.15">10</text>
<text x="633.02" y="163.6" font-size="7.0" fill="#222222">4</text>
<text transform="translate(669.82,169.8) scale(0.91,1)" font-size="9.6" text-anchor="middle" fill="#222222" stroke="#222222" stroke-width="0.15">10</text>
<text x="674.78" y="163.6" font-size="7.0" fill="#222222">5</text>
<text transform="translate(352.9,81.3) rotate(-90)" x="0" y="0" font-size="9.0" text-anchor="middle" fill="#222222">Evaporation flux (g/m<tspan font-size="5.6" dy="-3.5">2</tspan><tspan dy="3.5">s)</tspan></text>
<text x="530.3" y="181" font-size="8.9" text-anchor="middle" fill="#222222" stroke="#222" stroke-width="0.25">Thermal conductivity (W/ (m K))</text>
<path d="M36.7 200.8 V348.5 H329.3" fill="none" stroke="#3a3a3a" stroke-width="1.2"/>
<path d="M36.7 348.5h2.3 M36.7 344.28h2.3 M36.7 340.06h2.3 M36.7 335.84h2.3 M36.7 331.62h2.3 M36.7 327.4h2.3 M36.7 323.18h2.3 M36.7 318.96h2.3 M36.7 314.74h2.3 M36.7 310.52h2.3 M36.7 306.3h2.3 M36.7 302.08h2.3 M36.7 297.86h2.3 M36.7 293.64h2.3 M36.7 289.42h2.3 M36.7 285.2h2.3 M36.7 280.98h2.3 M36.7 276.76h2.3 M36.7 272.54h2.3 M36.7 268.32h2.3 M36.7 264.1h2.3 M36.7 259.88h2.3 M36.7 255.66h2.3 M36.7 251.44h2.3 M36.7 247.22h2.3 M36.7 243h2.3 M36.7 238.78h2.3 M36.7 234.56h2.3 M36.7 230.34h2.3 M36.7 226.12h2.3 M36.7 221.9h2.3 M36.7 217.68h2.3 M36.7 213.46h2.3 M36.7 209.24h2.3 M36.7 205.02h2.3 M36.7 200.8h2.3 M49.28 348.5v-2.3 M56.64 348.5v-2.3 M61.87 348.5v-2.3 M65.92 348.5v-2.3 M69.23 348.5v-2.3 M72.03 348.5v-2.3 M74.45 348.5v-2.3 M76.59 348.5v-2.3 M78.5 348.5v-2.3 M91.08 348.5v-2.3 M98.44 348.5v-2.3 M103.67 348.5v-2.3 M107.72 348.5v-2.3 M111.03 348.5v-2.3 M113.83 348.5v-2.3 M116.25 348.5v-2.3 M118.39 348.5v-2.3 M120.3 348.5v-2.3 M132.88 348.5v-2.3 M140.24 348.5v-2.3 M145.47 348.5v-2.3 M149.52 348.5v-2.3 M152.83 348.5v-2.3 M155.63 348.5v-2.3 M158.05 348.5v-2.3 M160.19 348.5v-2.3 M162.1 348.5v-2.3 M174.68 348.5v-2.3 M182.04 348.5v-2.3 M187.27 348.5v-2.3 M191.32 348.5v-2.3 M194.63 348.5v-2.3 M197.43 348.5v-2.3 M199.85 348.5v-2.3 M201.99 348.5v-2.3 M203.9 348.5v-2.3 M216.48 348.5v-2.3 M223.84 348.5v-2.3 M229.07 348.5v-2.3 M233.12 348.5v-2.3 M236.43 348.5v-2.3 M239.23 348.5v-2.3 M241.65 348.5v-2.3 M243.79 348.5v-2.3 M245.7 348.5v-2.3 M258.28 348.5v-2.3 M265.64 348.5v-2.3 M270.87 348.5v-2.3 M274.92 348.5v-2.3 M278.23 348.5v-2.3 M281.03 348.5v-2.3 M283.45 348.5v-2.3 M285.59 348.5v-2.3 M287.5 348.5v-2.3 M300.08 348.5v-2.3 M307.44 348.5v-2.3 M312.67 348.5v-2.3 M316.72 348.5v-2.3 M320.03 348.5v-2.3 M322.83 348.5v-2.3 M325.25 348.5v-2.3 M327.39 348.5v-2.3 M329.3 348.5v-2.3" fill="none" stroke="#3a3a3a" stroke-width="0.9"/>
<text transform="translate(26.4,204.3) scale(0.93,1)" font-size="9.9" text-anchor="end" fill="#222222" stroke="#222222" stroke-width="0.15">65</text>
<text transform="translate(26.4,225.4) scale(0.93,1)" font-size="9.9" text-anchor="end" fill="#222222" stroke="#222222" stroke-width="0.15">55</text>
<text transform="translate(26.4,246.5) scale(0.93,1)" font-size="9.9" text-anchor="end" fill="#222222" stroke="#222222" stroke-width="0.15">45</text>
<text transform="translate(26.4,267.6) scale(0.93,1)" font-size="9.9" text-anchor="end" fill="#222222" stroke="#222222" stroke-width="0.15">35</text>
<text transform="translate(26.4,288.7) scale(0.93,1)" font-size="9.9" text-anchor="end" fill="#222222" stroke="#222222" stroke-width="0.15">25</text>
<text transform="translate(26.4,309.8) scale(0.93,1)" font-size="9.9" text-anchor="end" fill="#222222" stroke="#222222" stroke-width="0.15">15</text>
<text transform="translate(26.4,330.9) scale(0.93,1)" font-size="9.9" text-anchor="end" fill="#222222" stroke="#222222" stroke-width="0.15">5</text>
<text transform="translate(26.4,352) scale(0.93,1)" font-size="9.9" text-anchor="end" fill="#222222" stroke="#222222" stroke-width="0.15">-5</text>
<text transform="translate(31.5,363) scale(0.91,1)" font-size="9.6" text-anchor="middle" fill="#222222" stroke="#222222" stroke-width="0.15">10</text>
<text x="36.46" y="356.8" font-size="7.0" fill="#222222">-2</text>
<text transform="translate(73.99,363) scale(0.91,1)" font-size="9.6" text-anchor="middle" fill="#222222" stroke="#222222" stroke-width="0.15">10</text>
<text x="78.95" y="356.8" font-size="7.0" fill="#222222">-1</text>
<text transform="translate(116.48,363) scale(0.91,1)" font-size="9.6" text-anchor="middle" fill="#222222" stroke="#222222" stroke-width="0.15">10</text>
<text x="121.44" y="356.8" font-size="7.0" fill="#222222">0</text>
<text transform="translate(158.97,363) scale(0.91,1)" font-size="9.6" text-anchor="middle" fill="#222222" stroke="#222222" stroke-width="0.15">10</text>
<text x="163.93" y="356.8" font-size="7.0" fill="#222222">1</text>
<text transform="translate(201.46,363) scale(0.91,1)" font-size="9.6" text-anchor="middle" fill="#222222" stroke="#222222" stroke-width="0.15">10</text>
<text x="206.42" y="356.8" font-size="7.0" fill="#222222">2</text>
<text transform="translate(243.95,363) scale(0.91,1)" font-size="9.6" text-anchor="middle" fill="#222222" stroke="#222222" stroke-width="0.15">10</text>
<text x="248.91" y="356.8" font-size="7.0" fill="#222222">3</text>
<text transform="translate(286.44,363) scale(0.91,1)" font-size="9.6" text-anchor="middle" fill="#222222" stroke="#222222" stroke-width="0.15">10</text>
<text x="291.4" y="356.8" font-size="7.0" fill="#222222">4</text>
<text transform="translate(328.93,363) scale(0.91,1)" font-size="9.6" text-anchor="middle" fill="#222222" stroke="#222222" stroke-width="0.15">10</text>
<text x="333.89" y="356.8" font-size="7.0" fill="#222222">5</text>
<text transform="translate(12.1,275.4) rotate(-90)" x="0" y="0" font-size="9.0" text-anchor="middle" fill="#222222">Evaporation flux (g/m<tspan font-size="5.6" dy="-3.5">2</tspan><tspan dy="3.5">s)</tspan></text>
<text x="184.5" y="375" font-size="8.9" text-anchor="middle" fill="#222222" stroke="#222" stroke-width="0.25">Thermal conductivity (W/ (m K))</text>
<path d="M378.9 198.2 V349 H675" fill="none" stroke="#3a3a3a" stroke-width="1.2"/>
<path d="M378.9 349h2.3 M378.9 344.69h2.3 M378.9 340.38h2.3 M378.9 336.07h2.3 M378.9 331.77h2.3 M378.9 327.46h2.3 M378.9 323.15h2.3 M378.9 318.84h2.3 M378.9 314.53h2.3 M378.9 310.22h2.3 M378.9 305.91h2.3 M378.9 301.61h2.3 M378.9 297.3h2.3 M378.9 292.99h2.3 M378.9 288.68h2.3 M378.9 284.37h2.3 M378.9 280.06h2.3 M378.9 275.75h2.3 M378.9 271.45h2.3 M378.9 267.14h2.3 M378.9 262.83h2.3 M378.9 258.52h2.3 M378.9 254.21h2.3 M378.9 249.9h2.3 M378.9 245.59h2.3 M378.9 241.29h2.3 M378.9 236.98h2.3 M378.9 232.67h2.3 M378.9 228.36h2.3 M378.9 224.05h2.3 M378.9 219.74h2.3 M378.9 215.43h2.3 M378.9 211.13h2.3 M378.9 206.82h2.3 M378.9 202.51h2.3 M378.9 198.2h2.3 M391.63 349v-2.3 M399.08 349v-2.3 M404.37 349v-2.3 M408.47 349v-2.3 M411.82 349v-2.3 M414.65 349v-2.3 M417.1 349v-2.3 M419.26 349v-2.3 M421.2 349v-2.3 M433.93 349v-2.3 M441.38 349v-2.3 M446.67 349v-2.3 M450.77 349v-2.3 M454.12 349v-2.3 M456.95 349v-2.3 M459.4 349v-2.3 M461.56 349v-2.3 M463.5 349v-2.3 M476.23 349v-2.3 M483.68 349v-2.3 M488.97 349v-2.3 M493.07 349v-2.3 M496.42 349v-2.3 M499.25 349v-2.3 M501.7 349v-2.3 M503.86 349v-2.3 M505.8 349v-2.3 M518.53 349v-2.3 M525.98 349v-2.3 M531.27 349v-2.3 M535.37 349v-2.3 M538.72 349v-2.3 M541.55 349v-2.3 M544 349v-2.3 M546.16 349v-2.3 M548.1 349v-2.3 M560.83 349v-2.3 M568.28 349v-2.3 M573.57 349v-2.3 M577.67 349v-2.3 M581.02 349v-2.3 M583.85 349v-2.3 M586.3 349v-2.3 M588.46 349v-2.3 M590.4 349v-2.3 M603.13 349v-2.3 M610.58 349v-2.3 M615.87 349v-2.3 M619.97 349v-2.3 M623.32 349v-2.3 M626.15 349v-2.3 M628.6 349v-2.3 M630.76 349v-2.3 M632.7 349v-2.3 M645.43 349v-2.3 M652.88 349v-2.3 M658.17 349v-2.3 M662.27 349v-2.3 M665.62 349v-2.3 M668.45 349v-2.3 M670.9 349v-2.3 M673.06 349v-2.3 M675 349v-2.3" fill="none" stroke="#3a3a3a" stroke-width="0.9"/>
<text transform="translate(368.6,201.7) scale(0.93,1)" font-size="9.9" text-anchor="end" fill="#222222" stroke="#222222" stroke-width="0.15">65</text>
<text transform="translate(368.6,223.24) scale(0.93,1)" font-size="9.9" text-anchor="end" fill="#222222" stroke="#222222" stroke-width="0.15">55</text>
<text transform="translate(368.6,244.79) scale(0.93,1)" font-size="9.9" text-anchor="end" fill="#222222" stroke="#222222" stroke-width="0.15">45</text>
<text transform="translate(368.6,266.33) scale(0.93,1)" font-size="9.9" text-anchor="end" fill="#222222" stroke="#222222" stroke-width="0.15">35</text>
<text transform="translate(368.6,287.87) scale(0.93,1)" font-size="9.9" text-anchor="end" fill="#222222" stroke="#222222" stroke-width="0.15">25</text>
<text transform="translate(368.6,309.41) scale(0.93,1)" font-size="9.9" text-anchor="end" fill="#222222" stroke="#222222" stroke-width="0.15">15</text>
<text transform="translate(368.6,330.96) scale(0.93,1)" font-size="9.9" text-anchor="end" fill="#222222" stroke="#222222" stroke-width="0.15">5</text>
<text transform="translate(368.6,352.5) scale(0.93,1)" font-size="9.9" text-anchor="end" fill="#222222" stroke="#222222" stroke-width="0.15">-5</text>
<text transform="translate(378,362.8) scale(0.91,1)" font-size="9.6" text-anchor="middle" fill="#222222" stroke="#222222" stroke-width="0.15">10</text>
<text x="382.96" y="356.6" font-size="7.0" fill="#222222">-2</text>
<text transform="translate(420.3,362.8) scale(0.91,1)" font-size="9.6" text-anchor="middle" fill="#222222" stroke="#222222" stroke-width="0.15">10</text>
<text x="425.26" y="356.6" font-size="7.0" fill="#222222">-1</text>
<text transform="translate(462.6,362.8) scale(0.91,1)" font-size="9.6" text-anchor="middle" fill="#222222" stroke="#222222" stroke-width="0.15">10</text>
<text x="467.56" y="356.6" font-size="7.0" fill="#222222">0</text>
<text transform="translate(504.9,362.8) scale(0.91,1)" font-size="9.6" text-anchor="middle" fill="#222222" stroke="#222222" stroke-width="0.15">10</text>
<text x="509.86" y="356.6" font-size="7.0" fill="#222222">1</text>
<text transform="translate(547.2,362.8) scale(0.91,1)" font-size="9.6" text-anchor="middle" fill="#222222" stroke="#222222" stroke-width="0.15">10</text>
<text x="552.16" y="356.6" font-size="7.0" fill="#222222">2</text>
<text transform="translate(589.5,362.8) scale(0.91,1)" font-size="9.6" text-anchor="middle" fill="#222222" stroke="#222222" stroke-width="0.15">10</text>
<text x="594.46" y="356.6" font-size="7.0" fill="#222222">3</text>
<text transform="translate(631.8,362.8) scale(0.91,1)" font-size="9.6" text-anchor="middle" fill="#222222" stroke="#222222" stroke-width="0.15">10</text>
<text x="636.76" y="356.6" font-size="7.0" fill="#222222">4</text>
<text transform="translate(674.1,362.8) scale(0.91,1)" font-size="9.6" text-anchor="middle" fill="#222222" stroke="#222222" stroke-width="0.15">10</text>
<text x="679.06" y="356.6" font-size="7.0" fill="#222222">5</text>
<text transform="translate(354.8,272.5) rotate(-90)" x="0" y="0" font-size="9.0" text-anchor="middle" fill="#222222">Evaporation flux (g/m<tspan font-size="5.6" dy="-3.5">2</tspan><tspan dy="3.5">s)</tspan></text>
<text x="530" y="373.4" font-size="8.9" text-anchor="middle" fill="#222222" stroke="#222" stroke-width="0.25">Thermal conductivity (W/ (m K))</text>
<path d="M35.50 145.36 L37.26 145.36 L39.02 145.36 L40.78 145.36 L42.53 145.36 L44.29 145.36 L46.05 145.36 L47.81 145.35 L49.57 145.35 L51.33 145.35 L53.09 145.35 L54.85 145.35 L56.60 145.35 L58.36 145.35 L60.12 145.35 L61.88 145.35 L63.64 145.35 L65.40 145.35 L67.16 145.35 L68.92 145.35 L70.67 145.34 L72.43 145.34 L74.19 145.34 L75.95 145.34 L77.71 145.34 L79.47 145.34 L81.23 145.33 L82.99 145.33 L84.75 145.33 L86.50 145.33 L88.26 145.32 L90.02 145.32 L91.78 145.32 L93.54 145.31 L95.30 145.31 L97.06 145.30 L98.81 145.30 L100.57 145.29 L102.33 145.29 L104.09 145.28 L105.85 145.27 L107.61 145.26 L109.37 145.25 L111.13 145.24 L112.89 145.23 L114.64 145.22 L116.40 145.21 L118.16 145.19 L119.92 145.18 L121.68 145.16 L123.44 145.14 L125.20 145.12 L126.96 145.09 L128.71 145.07 L130.47 145.04 L132.23 145.01 L133.99 144.98 L135.75 144.94 L137.51 144.90 L139.27 144.86 L141.03 144.81 L142.78 144.76 L144.54 144.70 L146.30 144.64 L148.06 144.57 L149.82 144.50 L151.58 144.42 L153.34 144.33 L155.09 144.23 L156.85 144.12 L158.61 144.01 L160.37 143.88 L162.13 143.75 L163.89 143.60 L165.65 143.43 L167.41 143.26 L169.16 143.06 L170.92 142.85 L172.68 142.62 L174.44 142.38 L176.20 142.11 L177.96 141.82 L179.72 141.50 L181.48 141.16 L183.24 140.79 L184.99 140.40 L186.75 139.97 L188.51 139.51 L190.27 139.01 L192.03 138.48 L193.79 137.91 L195.55 137.31 L197.31 136.66 L199.06 135.97 L200.82 135.24 L202.58 134.47 L204.34 133.66 L206.10 132.80 L207.86 131.90 L209.62 130.96 L211.38 129.97 L213.13 128.95 L214.89 127.89 L216.65 126.80 L218.41 125.68 L220.17 124.53 L221.93 123.35 L223.69 122.16 L225.44 120.95 L227.20 119.74 L228.96 118.52 L230.72 117.30 L232.48 116.08 L234.24 114.88 L236.00 113.69 L237.76 112.53 L239.51 111.38 L241.27 110.27 L243.03 109.19 L244.79 108.14 L246.55 107.13 L248.31 106.16 L250.07 105.23 L251.83 104.34 L253.59 103.49 L255.34 102.69 L257.10 101.93 L258.86 101.22 L260.62 100.54 L262.38 99.91 L264.14 99.31 L265.90 98.76 L267.65 98.24 L269.41 97.75 L271.17 97.30 L272.93 96.88 L274.69 96.49 L276.45 96.13 L278.21 95.80 L279.97 95.49 L281.73 95.21 L283.48 94.95 L285.24 94.71 L287.00 94.48 L288.76 94.28 L290.52 94.09 L292.28 93.92 L294.04 93.76 L295.80 93.61 L297.55 93.48 L299.31 93.36 L301.07 93.24 L302.83 93.14 L304.59 93.05 L306.35 92.96 L308.11 92.88 L309.87 92.81 L311.62 92.74 L313.38 92.68 L315.14 92.63 L316.90 92.57" fill="none" stroke="#44619a" stroke-width="1.45" stroke-linejoin="round" stroke-linecap="round" />
<path d="M35.50 145.53 L37.26 145.53 L39.02 145.53 L40.78 145.53 L42.53 145.53 L44.29 145.53 L46.05 145.53 L47.81 145.53 L49.57 145.53 L51.33 145.53 L53.09 145.53 L54.85 145.52 L56.60 145.52 L58.36 145.52 L60.12 145.52 L61.88 145.52 L63.64 145.52 L65.40 145.52 L67.16 145.52 L68.92 145.52 L70.67 145.52 L72.43 145.52 L74.19 145.51 L75.95 145.51 L77.71 145.51 L79.47 145.51 L81.23 145.51 L82.99 145.50 L84.75 145.50 L86.50 145.50 L88.26 145.50 L90.02 145.49 L91.78 145.49 L93.54 145.48 L95.30 145.48 L97.06 145.48 L98.81 145.47 L100.57 145.47 L102.33 145.46 L104.09 145.45 L105.85 145.45 L107.61 145.44 L109.37 145.43 L111.13 145.42 L112.89 145.41 L114.64 145.40 L116.40 145.39 L118.16 145.37 L119.92 145.36 L121.68 145.35 L123.44 145.33 L125.20 145.31 L126.96 145.29 L128.71 145.27 L130.47 145.24 L132.23 145.22 L133.99 145.19 L135.75 145.16 L137.51 145.13 L139.27 145.09 L141.03 145.05 L142.78 145.01 L144.54 144.96 L146.30 144.91 L148.06 144.86 L149.82 144.80 L151.58 144.73 L153.34 144.66 L155.09 144.58 L156.85 144.50 L158.61 144.41 L160.37 144.31 L162.13 144.20 L163.89 144.09 L165.65 143.96 L167.41 143.83 L169.16 143.68 L170.92 143.52 L172.68 143.35 L174.44 143.16 L176.20 142.96 L177.96 142.75 L179.72 142.52 L181.48 142.27 L183.24 142.00 L184.99 141.71 L186.75 141.41 L188.51 141.08 L190.27 140.73 L192.03 140.35 L193.79 139.96 L195.55 139.53 L197.31 139.08 L199.06 138.61 L200.82 138.11 L202.58 137.58 L204.34 137.03 L206.10 136.45 L207.86 135.84 L209.62 135.21 L211.38 134.55 L213.13 133.87 L214.89 133.17 L216.65 132.45 L218.41 131.71 L220.17 130.95 L221.93 130.18 L223.69 129.40 L225.44 128.61 L227.20 127.81 L228.96 127.01 L230.72 126.22 L232.48 125.42 L234.24 124.64 L236.00 123.86 L237.76 123.09 L239.51 122.34 L241.27 121.60 L243.03 120.89 L244.79 120.19 L246.55 119.52 L248.31 118.87 L250.07 118.24 L251.83 117.65 L253.59 117.07 L255.34 116.53 L257.10 116.01 L258.86 115.51 L260.62 115.05 L262.38 114.61 L264.14 114.19 L265.90 113.80 L267.65 113.43 L269.41 113.09 L271.17 112.77 L272.93 112.47 L274.69 112.18 L276.45 111.92 L278.21 111.68 L279.97 111.45 L281.73 111.24 L283.48 111.05 L285.24 110.87 L287.00 110.70 L288.76 110.54 L290.52 110.40 L292.28 110.27 L294.04 110.14 L295.80 110.03 L297.55 109.93 L299.31 109.83 L301.07 109.74 L302.83 109.66 L304.59 109.59 L306.35 109.52 L308.11 109.45 L309.87 109.39 L311.62 109.34 L313.38 109.29 L315.14 109.25 L316.90 109.20" fill="none" stroke="#b0602d" stroke-width="1.45" stroke-linejoin="round" stroke-linecap="round" />
<path d="M35.50 145.70 L37.26 145.70 L39.02 145.70 L40.78 145.70 L42.53 145.70 L44.29 145.70 L46.05 145.70 L47.81 145.70 L49.57 145.70 L51.33 145.70 L53.09 145.70 L54.85 145.70 L56.60 145.70 L58.36 145.70 L60.12 145.70 L61.88 145.70 L63.64 145.70 L65.40 145.69 L67.16 145.69 L68.92 145.69 L70.67 145.69 L72.43 145.69 L74.19 145.69 L75.95 145.69 L77.71 145.69 L79.47 145.69 L81.23 145.68 L82.99 145.68 L84.75 145.68 L86.50 145.68 L88.26 145.68 L90.02 145.67 L91.78 145.67 L93.54 145.67 L95.30 145.66 L97.06 145.66 L98.81 145.66 L100.57 145.65 L102.33 145.65 L104.09 145.64 L105.85 145.64 L107.61 145.63 L109.37 145.63 L111.13 145.62 L112.89 145.61 L114.64 145.60 L116.40 145.59 L118.16 145.58 L119.92 145.57 L121.68 145.56 L123.44 145.55 L125.20 145.53 L126.96 145.52 L128.71 145.50 L130.47 145.48 L132.23 145.46 L133.99 145.44 L135.75 145.42 L137.51 145.39 L139.27 145.36 L141.03 145.33 L142.78 145.30 L144.54 145.26 L146.30 145.22 L148.06 145.18 L149.82 145.14 L151.58 145.09 L153.34 145.03 L155.09 144.97 L156.85 144.91 L158.61 144.84 L160.37 144.76 L162.13 144.68 L163.89 144.59 L165.65 144.50 L167.41 144.39 L169.16 144.28 L170.92 144.16 L172.68 144.03 L174.44 143.89 L176.20 143.73 L177.96 143.57 L179.72 143.39 L181.48 143.20 L183.24 143.00 L184.99 142.79 L186.75 142.55 L188.51 142.31 L190.27 142.04 L192.03 141.76 L193.79 141.46 L195.55 141.15 L197.31 140.81 L199.06 140.46 L200.82 140.09 L202.58 139.70 L204.34 139.29 L206.10 138.86 L207.86 138.42 L209.62 137.96 L211.38 137.48 L213.13 136.99 L214.89 136.48 L216.65 135.96 L218.41 135.43 L220.17 134.89 L221.93 134.35 L223.69 133.80 L225.44 133.24 L227.20 132.68 L228.96 132.13 L230.72 131.58 L232.48 131.03 L234.24 130.49 L236.00 129.95 L237.76 129.43 L239.51 128.92 L241.27 128.42 L243.03 127.94 L244.79 127.48 L246.55 127.03 L248.31 126.59 L250.07 126.18 L251.83 125.78 L253.59 125.41 L255.34 125.05 L257.10 124.71 L258.86 124.39 L260.62 124.08 L262.38 123.80 L264.14 123.53 L265.90 123.27 L267.65 123.04 L269.41 122.81 L271.17 122.61 L272.93 122.41 L274.69 122.23 L276.45 122.07 L278.21 121.91 L279.97 121.77 L281.73 121.63 L283.48 121.51 L285.24 121.39 L287.00 121.29 L288.76 121.19 L290.52 121.10 L292.28 121.01 L294.04 120.94 L295.80 120.86 L297.55 120.80 L299.31 120.74 L301.07 120.68 L302.83 120.63 L304.59 120.58 L306.35 120.54 L308.11 120.50 L309.87 120.46 L311.62 120.43 L313.38 120.40 L315.14 120.37 L316.90 120.34" fill="none" stroke="#a2a2a2" stroke-width="1.45" stroke-linejoin="round" stroke-linecap="round" />
<path d="M35.50 145.87 L37.26 145.87 L39.02 145.87 L40.78 145.87 L42.53 145.87 L44.29 145.87 L46.05 145.87 L47.81 145.87 L49.57 145.87 L51.33 145.87 L53.09 145.87 L54.85 145.87 L56.60 145.87 L58.36 145.87 L60.12 145.87 L61.88 145.87 L63.64 145.87 L65.40 145.87 L67.16 145.87 L68.92 145.87 L70.67 145.87 L72.43 145.87 L74.19 145.86 L75.95 145.86 L77.71 145.86 L79.47 145.86 L81.23 145.86 L82.99 145.86 L84.75 145.86 L86.50 145.86 L88.26 145.85 L90.02 145.85 L91.78 145.85 L93.54 145.85 L95.30 145.84 L97.06 145.84 L98.81 145.84 L100.57 145.84 L102.33 145.83 L104.09 145.83 L105.85 145.82 L107.61 145.82 L109.37 145.81 L111.13 145.81 L112.89 145.80 L114.64 145.79 L116.40 145.79 L118.16 145.78 L119.92 145.77 L121.68 145.76 L123.44 145.75 L125.20 145.74 L126.96 145.73 L128.71 145.71 L130.47 145.70 L132.23 145.68 L133.99 145.66 L135.75 145.65 L137.51 145.62 L139.27 145.60 L141.03 145.58 L142.78 145.55 L144.54 145.52 L146.30 145.49 L148.06 145.46 L149.82 145.42 L151.58 145.38 L153.34 145.34 L155.09 145.29 L156.85 145.24 L158.61 145.18 L160.37 145.12 L162.13 145.06 L163.89 144.98 L165.65 144.91 L167.41 144.83 L169.16 144.74 L170.92 144.64 L172.68 144.53 L174.44 144.42 L176.20 144.30 L177.96 144.17 L179.72 144.03 L181.48 143.88 L183.24 143.72 L184.99 143.55 L186.75 143.37 L188.51 143.18 L190.27 142.97 L192.03 142.75 L193.79 142.52 L195.55 142.27 L197.31 142.01 L199.06 141.74 L200.82 141.46 L202.58 141.16 L204.34 140.85 L206.10 140.52 L207.86 140.18 L209.62 139.83 L211.38 139.47 L213.13 139.11 L214.89 138.73 L216.65 138.34 L218.41 137.95 L220.17 137.55 L221.93 137.15 L223.69 136.75 L225.44 136.34 L227.20 135.94 L228.96 135.54 L230.72 135.14 L232.48 134.75 L234.24 134.36 L236.00 133.98 L237.76 133.62 L239.51 133.26 L241.27 132.91 L243.03 132.57 L244.79 132.25 L246.55 131.94 L248.31 131.64 L250.07 131.35 L251.83 131.08 L253.59 130.83 L255.34 130.58 L257.10 130.35 L258.86 130.13 L260.62 129.93 L262.38 129.73 L264.14 129.55 L265.90 129.38 L267.65 129.22 L269.41 129.07 L271.17 128.94 L272.93 128.81 L274.69 128.69 L276.45 128.57 L278.21 128.47 L279.97 128.38 L281.73 128.29 L283.48 128.20 L285.24 128.13 L287.00 128.06 L288.76 127.99 L290.52 127.93 L292.28 127.88 L294.04 127.83 L295.80 127.78 L297.55 127.74 L299.31 127.70 L301.07 127.66 L302.83 127.62 L304.59 127.59 L306.35 127.56 L308.11 127.54 L309.87 127.51 L311.62 127.49 L313.38 127.47 L315.14 127.45 L316.90 127.43" fill="none" stroke="#4a72c0" stroke-width="1.45" stroke-linejoin="round" stroke-linecap="round" />
<path d="M35.50 146.05 L37.26 146.05 L39.02 146.05 L40.78 146.05 L42.53 146.05 L44.29 146.05 L46.05 146.05 L47.81 146.05 L49.57 146.05 L51.33 146.05 L53.09 146.05 L54.85 146.05 L56.60 146.04 L58.36 146.04 L60.12 146.04 L61.88 146.04 L63.64 146.04 L65.40 146.04 L67.16 146.04 L68.92 146.04 L70.67 146.04 L72.43 146.04 L74.19 146.04 L75.95 146.04 L77.71 146.04 L79.47 146.04 L81.23 146.04 L82.99 146.04 L84.75 146.03 L86.50 146.03 L88.26 146.03 L90.02 146.03 L91.78 146.03 L93.54 146.03 L95.30 146.02 L97.06 146.02 L98.81 146.02 L100.57 146.02 L102.33 146.01 L104.09 146.01 L105.85 146.01 L107.61 146.00 L109.37 146.00 L111.13 146.00 L112.89 145.99 L114.64 145.99 L116.40 145.98 L118.16 145.97 L119.92 145.97 L121.68 145.96 L123.44 145.95 L125.20 145.94 L126.96 145.93 L128.71 145.92 L130.47 145.91 L132.23 145.90 L133.99 145.89 L135.75 145.87 L137.51 145.86 L139.27 145.84 L141.03 145.82 L142.78 145.80 L144.54 145.78 L146.30 145.76 L148.06 145.73 L149.82 145.70 L151.58 145.67 L153.34 145.64 L155.09 145.60 L156.85 145.57 L158.61 145.52 L160.37 145.48 L162.13 145.43 L163.89 145.38 L165.65 145.32 L167.41 145.26 L169.16 145.19 L170.92 145.12 L172.68 145.04 L174.44 144.95 L176.20 144.86 L177.96 144.77 L179.72 144.66 L181.48 144.55 L183.24 144.44 L184.99 144.31 L186.75 144.17 L188.51 144.03 L190.27 143.88 L192.03 143.72 L193.79 143.55 L195.55 143.37 L197.31 143.18 L199.06 142.98 L200.82 142.78 L202.58 142.56 L204.34 142.34 L206.10 142.11 L207.86 141.87 L209.62 141.62 L211.38 141.36 L213.13 141.10 L214.89 140.84 L216.65 140.57 L218.41 140.30 L220.17 140.02 L221.93 139.75 L223.69 139.47 L225.44 139.19 L227.20 138.92 L228.96 138.65 L230.72 138.38 L232.48 138.12 L234.24 137.86 L236.00 137.61 L237.76 137.37 L239.51 137.13 L241.27 136.90 L243.03 136.68 L244.79 136.47 L246.55 136.27 L248.31 136.07 L250.07 135.89 L251.83 135.71 L253.59 135.55 L255.34 135.39 L257.10 135.24 L258.86 135.11 L260.62 134.98 L262.38 134.85 L264.14 134.74 L265.90 134.63 L267.65 134.53 L269.41 134.44 L271.17 134.35 L272.93 134.27 L274.69 134.19 L276.45 134.12 L278.21 134.06 L279.97 134.00 L281.73 133.94 L283.48 133.89 L285.24 133.84 L287.00 133.80 L288.76 133.76 L290.52 133.72 L292.28 133.69 L294.04 133.66 L295.80 133.63 L297.55 133.60 L299.31 133.58 L301.07 133.55 L302.83 133.53 L304.59 133.51 L306.35 133.49 L308.11 133.48 L309.87 133.46 L311.62 133.45 L313.38 133.44 L315.14 133.43 L316.90 133.41" fill="none" stroke="#ed7d31" stroke-width="1.45" stroke-linejoin="round" stroke-linecap="round" />
<path d="M35.50 146.22 L37.26 146.22 L39.02 146.22 L40.78 146.22 L42.53 146.22 L44.29 146.22 L46.05 146.22 L47.81 146.22 L49.57 146.22 L51.33 146.22 L53.09 146.22 L54.85 146.22 L56.60 146.22 L58.36 146.22 L60.12 146.22 L61.88 146.22 L63.64 146.22 L65.40 146.22 L67.16 146.22 L68.92 146.22 L70.67 146.22 L72.43 146.21 L74.19 146.21 L75.95 146.21 L77.71 146.21 L79.47 146.21 L81.23 146.21 L82.99 146.21 L84.75 146.21 L86.50 146.21 L88.26 146.21 L90.02 146.21 L91.78 146.21 L93.54 146.20 L95.30 146.20 L97.06 146.20 L98.81 146.20 L100.57 146.20 L102.33 146.19 L104.09 146.19 L105.85 146.19 L107.61 146.19 L109.37 146.18 L111.13 146.18 L112.89 146.18 L114.64 146.17 L116.40 146.17 L118.16 146.16 L119.92 146.16 L121.68 146.15 L123.44 146.15 L125.20 146.14 L126.96 146.13 L128.71 146.12 L130.47 146.12 L132.23 146.11 L133.99 146.10 L135.75 146.09 L137.51 146.07 L139.27 146.06 L141.03 146.05 L142.78 146.03 L144.54 146.01 L146.30 145.99 L148.06 145.97 L149.82 145.95 L151.58 145.93 L153.34 145.90 L155.09 145.88 L156.85 145.85 L158.61 145.81 L160.37 145.78 L162.13 145.74 L163.89 145.70 L165.65 145.66 L167.41 145.61 L169.16 145.56 L170.92 145.50 L172.68 145.44 L174.44 145.38 L176.20 145.31 L177.96 145.24 L179.72 145.16 L181.48 145.07 L183.24 144.98 L184.99 144.89 L186.75 144.79 L188.51 144.68 L190.27 144.57 L192.03 144.45 L193.79 144.32 L195.55 144.19 L197.31 144.05 L199.06 143.90 L200.82 143.75 L202.58 143.59 L204.34 143.43 L206.10 143.26 L207.86 143.08 L209.62 142.90 L211.38 142.72 L213.13 142.53 L214.89 142.34 L216.65 142.15 L218.41 141.96 L220.17 141.77 L221.93 141.57 L223.69 141.38 L225.44 141.19 L227.20 141.00 L228.96 140.81 L230.72 140.63 L232.48 140.45 L234.24 140.27 L236.00 140.10 L237.76 139.94 L239.51 139.78 L241.27 139.62 L243.03 139.48 L244.79 139.34 L246.55 139.20 L248.31 139.07 L250.07 138.95 L251.83 138.84 L253.59 138.73 L255.34 138.63 L257.10 138.53 L258.86 138.44 L260.62 138.36 L262.38 138.28 L264.14 138.20 L265.90 138.13 L267.65 138.07 L269.41 138.01 L271.17 137.95 L272.93 137.90 L274.69 137.85 L276.45 137.81 L278.21 137.77 L279.97 137.73 L281.73 137.69 L283.48 137.66 L285.24 137.63 L287.00 137.60 L288.76 137.58 L290.52 137.55 L292.28 137.53 L294.04 137.51 L295.80 137.49 L297.55 137.47 L299.31 137.46 L301.07 137.44 L302.83 137.43 L304.59 137.42 L306.35 137.41 L308.11 137.40 L309.87 137.39 L311.62 137.38 L313.38 137.37 L315.14 137.36 L316.90 137.36" fill="none" stroke="#ffc000" stroke-width="1.45" stroke-linejoin="round" stroke-linecap="round" />
<path d="M35.50 146.39 L37.26 146.39 L39.02 146.39 L40.78 146.39 L42.53 146.39 L44.29 146.39 L46.05 146.39 L47.81 146.39 L49.57 146.39 L51.33 146.39 L53.09 146.39 L54.85 146.39 L56.60 146.39 L58.36 146.39 L60.12 146.39 L61.88 146.39 L63.64 146.39 L65.40 146.39 L67.16 146.39 L68.92 146.39 L70.67 146.39 L72.43 146.39 L74.19 146.39 L75.95 146.39 L77.71 146.39 L79.47 146.39 L81.23 146.39 L82.99 146.39 L84.75 146.39 L86.50 146.39 L88.26 146.39 L90.02 146.39 L91.78 146.38 L93.54 146.38 L95.30 146.38 L97.06 146.38 L98.81 146.38 L100.57 146.38 L102.33 146.38 L104.09 146.38 L105.85 146.38 L107.61 146.37 L109.37 146.37 L111.13 146.37 L112.89 146.37 L114.64 146.37 L116.40 146.36 L118.16 146.36 L119.92 146.36 L121.68 146.36 L123.44 146.35 L125.20 146.35 L126.96 146.34 L128.71 146.34 L130.47 146.33 L132.23 146.33 L133.99 146.32 L135.75 146.32 L137.51 146.31 L139.27 146.30 L141.03 146.30 L142.78 146.29 L144.54 146.28 L146.30 146.27 L148.06 146.25 L149.82 146.24 L151.58 146.23 L153.34 146.21 L155.09 146.20 L156.85 146.18 L158.61 146.16 L160.37 146.14 L162.13 146.12 L163.89 146.09 L165.65 146.07 L167.41 146.04 L169.16 146.00 L170.92 145.97 L172.68 145.93 L174.44 145.89 L176.20 145.85 L177.96 145.80 L179.72 145.75 L181.48 145.69 L183.24 145.63 L184.99 145.57 L186.75 145.50 L188.51 145.43 L190.27 145.35 L192.03 145.27 L193.79 145.18 L195.55 145.09 L197.31 144.99 L199.06 144.89 L200.82 144.78 L202.58 144.67 L204.34 144.56 L206.10 144.44 L207.86 144.32 L209.62 144.19 L211.38 144.07 L213.13 143.94 L214.89 143.81 L216.65 143.68 L218.41 143.54 L220.17 143.41 L221.93 143.28 L223.69 143.16 L225.44 143.03 L227.20 142.91 L228.96 142.80 L230.72 142.69 L232.48 142.58 L234.24 142.48 L236.00 142.38 L237.76 142.29 L239.51 142.21 L241.27 142.14 L243.03 142.07 L244.79 142.01 L246.55 141.95 L248.31 141.91 L250.07 141.87 L251.83 141.83 L253.59 141.80 L255.34 141.78 L257.10 141.76 L258.86 141.75 L260.62 141.74 L262.38 141.74 L264.14 141.73 L265.90 141.74 L267.65 141.74 L269.41 141.75 L271.17 141.76 L272.93 141.77 L274.69 141.78 L276.45 141.79 L278.21 141.80 L279.97 141.81 L281.73 141.82 L283.48 141.84 L285.24 141.85 L287.00 141.86 L288.76 141.87 L290.52 141.88 L292.28 141.89 L294.04 141.89 L295.80 141.90 L297.55 141.91 L299.31 141.91 L301.07 141.92 L302.83 141.92 L304.59 141.92 L306.35 141.92 L308.11 141.93 L309.87 141.93 L311.62 141.93 L313.38 141.93 L315.14 141.93 L316.90 141.93" fill="none" stroke="#5b9bd5" stroke-width="1.45" stroke-linejoin="round" stroke-linecap="round" />
<path d="M35.50 146.54 L37.26 146.54 L39.02 146.54 L40.78 146.54 L42.53 146.54 L44.29 146.54 L46.05 146.54 L47.81 146.54 L49.57 146.54 L51.33 146.54 L53.09 146.54 L54.85 146.54 L56.60 146.54 L58.36 146.54 L60.12 146.54 L61.88 146.54 L63.64 146.54 L65.40 146.54 L67.16 146.54 L68.92 146.54 L70.67 146.54 L72.43 146.54 L74.19 146.54 L75.95 146.54 L77.71 146.54 L79.47 146.54 L81.23 146.54 L82.99 146.54 L84.75 146.54 L86.50 146.54 L88.26 146.54 L90.02 146.54 L91.78 146.54 L93.54 146.54 L95.30 146.54 L97.06 146.54 L98.81 146.54 L100.57 146.54 L102.33 146.54 L104.09 146.54 L105.85 146.54 L107.61 146.54 L109.37 146.54 L111.13 146.54 L112.89 146.54 L114.64 146.54 L116.40 146.54 L118.16 146.54 L119.92 146.54 L121.68 146.54 L123.44 146.54 L125.20 146.54 L126.96 146.54 L128.71 146.54 L130.47 146.54 L132.23 146.54 L133.99 146.54 L135.75 146.54 L137.51 146.53 L139.27 146.53 L141.03 146.53 L142.78 146.53 L144.54 146.53 L146.30 146.53 L148.06 146.53 L149.82 146.52 L151.58 146.52 L153.34 146.52 L155.09 146.51 L156.85 146.51 L158.61 146.50 L160.37 146.50 L162.13 146.49 L163.89 146.49 L165.65 146.48 L167.41 146.47 L169.16 146.46 L170.92 146.45 L172.68 146.43 L174.44 146.42 L176.20 146.40 L177.96 146.38 L179.72 146.36 L181.48 146.34 L183.24 146.31 L184.99 146.28 L186.75 146.25 L188.51 146.21 L190.27 146.17 L192.03 146.13 L193.79 146.09 L195.55 146.04 L197.31 145.98 L199.06 145.93 L200.82 145.87 L202.58 145.81 L204.34 145.74 L206.10 145.67 L207.86 145.60 L209.62 145.53 L211.38 145.46 L213.13 145.38 L214.89 145.31 L216.65 145.23 L218.41 145.16 L220.17 145.08 L221.93 145.01 L223.69 144.94 L225.44 144.88 L227.20 144.81 L228.96 144.76 L230.72 144.70 L232.48 144.66 L234.24 144.62 L236.00 144.58 L237.76 144.55 L239.51 144.53 L241.27 144.52 L243.03 144.51 L244.79 144.51 L246.55 144.52 L248.31 144.54 L250.07 144.56 L251.83 144.58 L253.59 144.61 L255.34 144.65 L257.10 144.69 L258.86 144.74 L260.62 144.79 L262.38 144.84 L264.14 144.89 L265.90 144.95 L267.65 145.01 L269.41 145.06 L271.17 145.12 L272.93 145.18 L274.69 145.23 L276.45 145.29 L278.21 145.34 L279.97 145.39 L281.73 145.43 L283.48 145.48 L285.24 145.52 L287.00 145.56 L288.76 145.60 L290.52 145.63 L292.28 145.66 L294.04 145.69 L295.80 145.72 L297.55 145.74 L299.31 145.76 L301.07 145.78 L302.83 145.80 L304.59 145.81 L306.35 145.82 L308.11 145.84 L309.87 145.85 L311.62 145.85 L313.38 145.86 L315.14 145.87 L316.90 145.87" fill="none" stroke="#70ad47" stroke-width="1.45" stroke-linejoin="round" stroke-linecap="round" />
<rect x="275.03" y="89.95" width="18.55" height="4.7" fill="#fff" transform="rotate(-8 284.3 92.3)"/>
<rect x="275.03" y="107.05" width="18.55" height="4.7" fill="#fff" transform="rotate(-3 284.3 109.4)"/>
<rect x="276.73" y="117.55" width="18.55" height="4.7" fill="#fff" transform="rotate(-1 286 119.9)"/>
<rect x="276.73" y="124.95" width="18.55" height="4.7" fill="#fff"/>
<rect x="276.73" y="130.25" width="18.55" height="4.7" fill="#fff"/>
<rect x="276.73" y="134.55" width="18.55" height="4.7" fill="#fff"/>
<rect x="276.73" y="139.45" width="18.55" height="4.7" fill="#fff"/>
<rect x="276.73" y="144.05" width="18.55" height="4.7" fill="#fff"/>
<text x="284.3" y="94.32" font-size="5.6" text-anchor="middle" fill="#1e1e1e" stroke="#1e1e1e" stroke-width="0.15" transform="rotate(-8 284.3 92.3)">100 Pa</text>
<text x="284.3" y="111.42" font-size="5.6" text-anchor="middle" fill="#1e1e1e" stroke="#1e1e1e" stroke-width="0.15" transform="rotate(-3 284.3 109.4)">200 Pa</text>
<text x="286" y="121.92" font-size="5.6" text-anchor="middle" fill="#1e1e1e" stroke="#1e1e1e" stroke-width="0.15" transform="rotate(-1 286 119.9)">300 Pa</text>
<text x="286" y="129.32" font-size="5.6" text-anchor="middle" fill="#1e1e1e" stroke="#1e1e1e" stroke-width="0.15">400 Pa</text>
<text x="286" y="134.62" font-size="5.6" text-anchor="middle" fill="#1e1e1e" stroke="#1e1e1e" stroke-width="0.15">500 Pa</text>
<text x="286" y="138.92" font-size="5.6" text-anchor="middle" fill="#1e1e1e" stroke="#1e1e1e" stroke-width="0.15">600 Pa</text>
<text x="286" y="143.82" font-size="5.6" text-anchor="middle" fill="#1e1e1e" stroke="#1e1e1e" stroke-width="0.15">700 Pa</text>
<text x="286" y="148.42" font-size="5.6" text-anchor="middle" fill="#1e1e1e" stroke="#1e1e1e" stroke-width="0.15">800 Pa</text>
<defs><linearGradient id="boxg" x1="0" x2="0" y1="0" y2="1"><stop offset="0" stop-color="#c8c8c8" stop-opacity="0.45"/><stop offset="0.5" stop-color="#999" stop-opacity="0.25"/><stop offset="1" stop-color="#444" stop-opacity="0.5"/></linearGradient></defs>
<rect x="118.3" y="142.8" width="44.4" height="5.5" rx="1.2" fill="url(#boxg)" stroke="#2a2a2a" stroke-width="0.9"/>
<path d="M125.4 156.4 V152.9" stroke="#111" stroke-width="0.9"/>
<path d="M123.8 153.4 L125.4 150.2 L127 153.4Z" fill="#111"/>
<clipPath id="clip1"><rect x="52.7" y="79.1" width="79.9" height="55.1"/></clipPath>
<rect x="52.7" y="79.1" width="79.9" height="55.1" fill="#fff"/>
<line x1="76.75" y1="79.1" x2="76.75" y2="134.2" stroke="#e6e6e6" stroke-width="0.7"/>
<line x1="90.82" y1="79.1" x2="90.82" y2="134.2" stroke="#e6e6e6" stroke-width="0.7"/>
<line x1="100.8" y1="79.1" x2="100.8" y2="134.2" stroke="#e6e6e6" stroke-width="0.7"/>
<line x1="108.55" y1="79.1" x2="108.55" y2="134.2" stroke="#e6e6e6" stroke-width="0.7"/>
<line x1="114.87" y1="79.1" x2="114.87" y2="134.2" stroke="#e6e6e6" stroke-width="0.7"/>
<line x1="120.22" y1="79.1" x2="120.22" y2="134.2" stroke="#e6e6e6" stroke-width="0.7"/>
<line x1="124.86" y1="79.1" x2="124.86" y2="134.2" stroke="#e6e6e6" stroke-width="0.7"/>
<line x1="128.94" y1="79.1" x2="128.94" y2="134.2" stroke="#e6e6e6" stroke-width="0.7"/>
<line x1="52.7" y1="126.33" x2="132.6" y2="126.33" stroke="#e6e6e6" stroke-width="0.7"/>
<line x1="52.7" y1="118.46" x2="132.6" y2="118.46" stroke="#e6e6e6" stroke-width="0.7"/>
<line x1="52.7" y1="110.59" x2="132.6" y2="110.59" stroke="#e6e6e6" stroke-width="0.7"/>
<line x1="52.7" y1="102.71" x2="132.6" y2="102.71" stroke="#e6e6e6" stroke-width="0.7"/>
<line x1="52.7" y1="94.84" x2="132.6" y2="94.84" stroke="#e6e6e6" stroke-width="0.7"/>
<line x1="52.7" y1="86.97" x2="132.6" y2="86.97" stroke="#e6e6e6" stroke-width="0.7"/>
<path d="M52.7 126.33h1.5 M52.7 118.46h1.5 M52.7 110.59h1.5 M52.7 102.71h1.5 M52.7 94.84h1.5 M52.7 86.97h1.5 M76.75 134.2v-1.5 M90.82 134.2v-1.5 M100.8 134.2v-1.5 M108.55 134.2v-1.5 M114.87 134.2v-1.5 M120.22 134.2v-1.5 M124.86 134.2v-1.5 M128.94 134.2v-1.5" stroke="#444" stroke-width="0.6" fill="none"/>
<text x="50.4" y="81.04" font-size="5.4" text-anchor="end" fill="#1a1a1a" stroke="#1a1a1a" stroke-width="0.12">0.7</text>
<text x="50.4" y="88.92" font-size="5.4" text-anchor="end" fill="#1a1a1a" stroke="#1a1a1a" stroke-width="0.12">0.6</text>
<text x="50.4" y="96.79" font-size="5.4" text-anchor="end" fill="#1a1a1a" stroke="#1a1a1a" stroke-width="0.12">0.5</text>
<text x="50.4" y="104.66" font-size="5.4" text-anchor="end" fill="#1a1a1a" stroke="#1a1a1a" stroke-width="0.12">0.4</text>
<text x="50.4" y="112.53" font-size="5.4" text-anchor="end" fill="#1a1a1a" stroke="#1a1a1a" stroke-width="0.12">0.3</text>
<text x="50.4" y="120.4" font-size="5.4" text-anchor="end" fill="#1a1a1a" stroke="#1a1a1a" stroke-width="0.12">0.2</text>
<text x="50.4" y="128.27" font-size="5.4" text-anchor="end" fill="#1a1a1a" stroke="#1a1a1a" stroke-width="0.12">0.1</text>
<text x="50.4" y="136.14" font-size="5.4" text-anchor="end" fill="#1a1a1a" stroke="#1a1a1a" stroke-width="0.12">0</text>
<text x="52.7" y="139.74" font-size="5.4" text-anchor="middle" fill="#1a1a1a" stroke="#1a1a1a" stroke-width="0.12">1</text>
<text x="132.6" y="139.74" font-size="5.4" text-anchor="middle" fill="#1a1a1a" stroke="#1a1a1a" stroke-width="0.12">10</text>
<g clip-path="url(#clip1)">
<path d="M52.70 108.22 L54.03 108.13 L55.36 108.04 L56.70 107.94 L58.03 107.83 L59.36 107.72 L60.69 107.61 L62.02 107.50 L63.35 107.38 L64.69 107.25 L66.02 107.12 L67.35 106.98 L68.68 106.84 L70.01 106.70 L71.34 106.54 L72.67 106.39 L74.01 106.22 L75.34 106.05 L76.67 105.87 L78.00 105.69 L79.33 105.50 L80.66 105.30 L82.00 105.09 L83.33 104.88 L84.66 104.65 L85.99 104.42 L87.32 104.18 L88.66 103.93 L89.99 103.67 L91.32 103.40 L92.65 103.12 L93.98 102.83 L95.31 102.52 L96.65 102.21 L97.98 101.88 L99.31 101.54 L100.64 101.18 L101.97 100.82 L103.30 100.43 L104.63 100.04 L105.97 99.62 L107.30 99.20 L108.63 98.75 L109.96 98.29 L111.29 97.81 L112.62 97.31 L113.96 96.79 L115.29 96.25 L116.62 95.69 L117.95 95.10 L119.28 94.50 L120.61 93.87 L121.95 93.21 L123.28 92.53 L124.61 91.83 L125.94 91.09 L127.27 90.33 L128.60 89.54 L129.94 88.72 L131.27 87.86 L132.60 86.97" fill="none" stroke="#a2a2a2" stroke-width="1.45" stroke-linejoin="round" stroke-linecap="round" />
</g>
<g clip-path="url(#clip1)">
<path d="M52.70 117.50 L54.03 117.45 L55.36 117.41 L56.70 117.36 L58.03 117.31 L59.36 117.26 L60.69 117.21 L62.02 117.15 L63.35 117.10 L64.69 117.04 L66.02 116.97 L67.35 116.91 L68.68 116.84 L70.01 116.77 L71.34 116.70 L72.67 116.63 L74.01 116.55 L75.34 116.47 L76.67 116.38 L78.00 116.30 L79.33 116.21 L80.66 116.11 L82.00 116.01 L83.33 115.91 L84.66 115.81 L85.99 115.70 L87.32 115.58 L88.66 115.46 L89.99 115.34 L91.32 115.21 L92.65 115.08 L93.98 114.94 L95.31 114.80 L96.65 114.65 L97.98 114.49 L99.31 114.33 L100.64 114.16 L101.97 113.99 L103.30 113.81 L104.63 113.62 L105.97 113.43 L107.30 113.22 L108.63 113.01 L109.96 112.79 L111.29 112.57 L112.62 112.33 L113.96 112.08 L115.29 111.83 L116.62 111.56 L117.95 111.29 L119.28 111.00 L120.61 110.70 L121.95 110.39 L123.28 110.07 L124.61 109.74 L125.94 109.39 L127.27 109.03 L128.60 108.65 L129.94 108.26 L131.27 107.86 L132.60 107.44" fill="none" stroke="#ed7d31" stroke-width="1.45" stroke-linejoin="round" stroke-linecap="round" />
</g>
<g clip-path="url(#clip1)">
<path d="M52.70 121.32 L54.03 121.30 L55.36 121.27 L56.70 121.24 L58.03 121.21 L59.36 121.18 L60.69 121.15 L62.02 121.11 L63.35 121.08 L64.69 121.04 L66.02 121.01 L67.35 120.97 L68.68 120.93 L70.01 120.88 L71.34 120.84 L72.67 120.80 L74.01 120.75 L75.34 120.70 L76.67 120.65 L78.00 120.60 L79.33 120.54 L80.66 120.48 L82.00 120.42 L83.33 120.36 L84.66 120.30 L85.99 120.23 L87.32 120.16 L88.66 120.09 L89.99 120.02 L91.32 119.94 L92.65 119.86 L93.98 119.77 L95.31 119.69 L96.65 119.60 L97.98 119.50 L99.31 119.41 L100.64 119.30 L101.97 119.20 L103.30 119.09 L104.63 118.98 L105.97 118.86 L107.30 118.73 L108.63 118.61 L109.96 118.47 L111.29 118.34 L112.62 118.19 L113.96 118.04 L115.29 117.89 L116.62 117.73 L117.95 117.56 L119.28 117.39 L120.61 117.21 L121.95 117.02 L123.28 116.82 L124.61 116.62 L125.94 116.41 L127.27 116.19 L128.60 115.97 L129.94 115.73 L131.27 115.48 L132.60 115.23" fill="none" stroke="#5b9bd5" stroke-width="1.45" stroke-linejoin="round" stroke-linecap="round" />
</g>
<g clip-path="url(#clip1)">
<path d="M52.70 124.71 L54.03 124.70 L55.36 124.69 L56.70 124.68 L58.03 124.67 L59.36 124.66 L60.69 124.64 L62.02 124.63 L63.35 124.62 L64.69 124.60 L66.02 124.59 L67.35 124.57 L68.68 124.55 L70.01 124.54 L71.34 124.52 L72.67 124.50 L74.01 124.48 L75.34 124.46 L76.67 124.44 L78.00 124.42 L79.33 124.40 L80.66 124.37 L82.00 124.35 L83.33 124.32 L84.66 124.30 L85.99 124.27 L87.32 124.24 L88.66 124.21 L89.99 124.18 L91.32 124.15 L92.65 124.12 L93.98 124.09 L95.31 124.05 L96.65 124.01 L97.98 123.97 L99.31 123.93 L100.64 123.89 L101.97 123.85 L103.30 123.81 L104.63 123.76 L105.97 123.71 L107.30 123.66 L108.63 123.61 L109.96 123.56 L111.29 123.50 L112.62 123.44 L113.96 123.38 L115.29 123.32 L116.62 123.25 L117.95 123.18 L119.28 123.11 L120.61 123.04 L121.95 122.96 L123.28 122.88 L124.61 122.80 L125.94 122.72 L127.27 122.63 L128.60 122.54 L129.94 122.44 L131.27 122.34 L132.60 122.24" fill="none" stroke="#70ad47" stroke-width="1.45" stroke-linejoin="round" stroke-linecap="round" />
</g>
<path d="M64.4 105.77 L66.3 107.67 L64.4 109.57 L62.5 107.67Z" fill="#bdbdbd" stroke="#222" stroke-width="0.8"/>
<path d="M64.4 112.62 L66.3 114.52 L64.4 116.42 L62.5 114.52Z" fill="#ed7d31" stroke="#222" stroke-width="0.8"/>
<path d="M64.4 115.77 L66.3 117.67 L64.4 119.57 L62.5 117.67Z" fill="#5b9bd5" stroke="#222" stroke-width="0.8"/>
<path d="M64.4 116.95 L66.3 118.85 L64.4 120.75 L62.5 118.85Z" fill="#70ad47" stroke="#222" stroke-width="0.8"/>
<rect x="103.56" y="93.72" width="17.28" height="4.37" fill="#fff" transform="rotate(-16 112.2 95.9)"/>
<rect x="108.26" y="108.72" width="17.28" height="4.37" fill="#fff" transform="rotate(-9 116.9 110.9)"/>
<rect x="109.86" y="114.82" width="17.28" height="4.37" fill="#fff" transform="rotate(-5 118.5 117)"/>
<rect x="110.06" y="120.42" width="17.28" height="4.37" fill="#fff" transform="rotate(-2 118.7 122.6)"/>
<text x="112.2" y="97.77" font-size="5.2" text-anchor="middle" fill="#1e1e1e" stroke="#1e1e1e" stroke-width="0.08" transform="rotate(-16 112.2 95.9)">303 Pa</text>
<text x="116.9" y="112.77" font-size="5.2" text-anchor="middle" fill="#1e1e1e" stroke="#1e1e1e" stroke-width="0.08" transform="rotate(-9 116.9 110.9)">545 Pa</text>
<text x="118.5" y="118.87" font-size="5.2" text-anchor="middle" fill="#1e1e1e" stroke="#1e1e1e" stroke-width="0.08" transform="rotate(-5 118.5 117)">673 Pa</text>
<text x="118.7" y="124.47" font-size="5.2" text-anchor="middle" fill="#1e1e1e" stroke="#1e1e1e" stroke-width="0.08" transform="rotate(-2 118.7 122.6)">815 Pa</text>
<rect x="52.7" y="79.1" width="79.9" height="55.1" fill="none" stroke="#2b2b2b" stroke-width="1.3"/>
<path d="M145.7 142.8 C145.9 130 141 120 134.3 116" fill="none" stroke="#444" stroke-width="0.75"/>
<path d="M137.59 115.94 L133.8 115.7 L135.88 118.88" fill="none" stroke="#444" stroke-width="0.75"/>
<defs><linearGradient id="cuA" x1="0" x2="1" y1="0" y2="0">
<stop offset="0" stop-color="#e0916d"/><stop offset="0.06" stop-color="#f3a47f"/><stop offset="0.24" stop-color="#f5ab88"/>
<stop offset="0.22" stop-color="#f6b592"/><stop offset="0.28" stop-color="#fde3d3"/><stop offset="0.33" stop-color="#fffaf5"/><stop offset="0.4" stop-color="#fde8da"/><stop offset="0.48" stop-color="#f2a885"/>
<stop offset="0.8" stop-color="#e69676"/><stop offset="0.94" stop-color="#d48566"/><stop offset="1" stop-color="#bd7253"/></linearGradient></defs>
<path d="M45 58.7 V71.2 A15.4 3.2 0 0 0 75.8 71.2 V58.7 A15.4 3.2 0 0 1 45 58.7Z" fill="url(#cuA)" stroke="#a86a4c" stroke-width="0.5"/>
<ellipse cx="60.4" cy="58.7" rx="15.4" ry="3.2" fill="#e99a78" stroke="#9a5e42" stroke-width="0.6"/>
<defs><linearGradient id="tubA" x1="0" x2="1" y1="0" y2="0">
<stop offset="0" stop-color="#86cfe5"/><stop offset="0.07" stop-color="#a6def0"/><stop offset="0.11" stop-color="#ffffff"/><stop offset="0.24" stop-color="#ffffff"/>
<stop offset="0.3" stop-color="#92d5e9"/><stop offset="1" stop-color="#86cfe5"/></linearGradient>
<linearGradient id="tubAd" x1="0" x2="1" y1="0" y2="0">
<stop offset="0" stop-color="#3db0d6"/><stop offset="0.07" stop-color="#6cc4e2"/><stop offset="0.11" stop-color="#ffffff"/><stop offset="0.24" stop-color="#ffffff"/>
<stop offset="0.3" stop-color="#3ab2d8"/><stop offset="1" stop-color="#3aafd6"/></linearGradient></defs>
<rect x="51.9" y="10.4" width="17.2" height="5.4" fill="#f4fbfd"/>
<rect x="51.9" y="15.8" width="17.2" height="39.7" fill="url(#tubA)"/>
<rect x="51.9" y="55.5" width="17.2" height="6" fill="url(#tubAd)"/>
<ellipse cx="60.5" cy="15.8" rx="8.6" ry="2.4" fill="#c9ecf5" stroke="#8cc" stroke-width="0.3"/>
<path d="M52.4 16.6 A8.1 2.4 0 0 0 68.6 16.6" fill="none" stroke="#e3f6fb" stroke-width="0.8"/>
<path d="M51.9 10.4 V61.5 M69.1 10.4 V61.5" stroke="#666" stroke-width="0.5"/>
<ellipse cx="60.5" cy="10.4" rx="8.6" ry="2.4" fill="none" stroke="#666" stroke-width="0.5"/>
<path d="M45 58.9 A15.4 3.2 0 0 0 75.8 58.9 L75.8 60.2 A15.4 3.2 0 0 1 45 60.2Z" fill="#f0a37f"/>
<text x="72.6" y="20.1" font-size="11.6" fill="#2a2a2a">(a)</text>
<path d="M378.70 144.72 L380.45 144.72 L382.19 144.72 L383.94 144.72 L385.68 144.71 L387.43 144.71 L389.18 144.71 L390.92 144.70 L392.67 144.70 L394.42 144.70 L396.16 144.69 L397.91 144.69 L399.65 144.68 L401.40 144.68 L403.15 144.67 L404.89 144.66 L406.64 144.66 L408.39 144.65 L410.13 144.64 L411.88 144.63 L413.62 144.62 L415.37 144.61 L417.12 144.60 L418.86 144.58 L420.61 144.57 L422.35 144.55 L424.10 144.54 L425.85 144.52 L427.59 144.50 L429.34 144.47 L431.09 144.45 L432.83 144.42 L434.58 144.39 L436.32 144.36 L438.07 144.32 L439.82 144.28 L441.56 144.24 L443.31 144.19 L445.06 144.14 L446.80 144.08 L448.55 144.02 L450.29 143.96 L452.04 143.88 L453.79 143.80 L455.53 143.72 L457.28 143.62 L459.02 143.52 L460.77 143.41 L462.52 143.28 L464.26 143.15 L466.01 143.00 L467.76 142.84 L469.50 142.67 L471.25 142.48 L472.99 142.27 L474.74 142.05 L476.49 141.80 L478.23 141.54 L479.98 141.25 L481.73 140.94 L483.47 140.60 L485.22 140.23 L486.96 139.83 L488.71 139.39 L490.46 138.92 L492.20 138.42 L493.95 137.87 L495.69 137.28 L497.44 136.64 L499.19 135.96 L500.93 135.23 L502.68 134.44 L504.43 133.59 L506.17 132.69 L507.92 131.72 L509.66 130.70 L511.41 129.60 L513.16 128.44 L514.90 127.22 L516.65 125.92 L518.39 124.56 L520.14 123.13 L521.89 121.63 L523.63 120.07 L525.38 118.44 L527.13 116.75 L528.87 115.01 L530.62 113.21 L532.36 111.36 L534.11 109.48 L535.86 107.56 L537.60 105.61 L539.35 103.65 L541.10 101.66 L542.84 99.68 L544.59 97.70 L546.33 95.73 L548.08 93.77 L549.83 91.85 L551.57 89.95 L553.32 88.10 L555.06 86.29 L556.81 84.54 L558.56 82.84 L560.30 81.19 L562.05 79.62 L563.80 78.10 L565.54 76.66 L567.29 75.28 L569.03 73.97 L570.78 72.72 L572.53 71.55 L574.27 70.44 L576.02 69.40 L577.77 68.42 L579.51 67.51 L581.26 66.65 L583.00 65.85 L584.75 65.10 L586.50 64.40 L588.24 63.76 L589.99 63.16 L591.73 62.60 L593.48 62.09 L595.23 61.61 L596.97 61.17 L598.72 60.76 L600.47 60.38 L602.21 60.04 L603.96 59.72 L605.70 59.42 L607.45 59.15 L609.20 58.90 L610.94 58.68 L612.69 58.47 L614.44 58.27 L616.18 58.09 L617.93 57.93 L619.67 57.78 L621.42 57.65 L623.17 57.52 L624.91 57.41 L626.66 57.30 L628.40 57.20 L630.15 57.11 L631.90 57.03 L633.64 56.96 L635.39 56.89 L637.14 56.83 L638.88 56.77 L640.63 56.72 L642.37 56.67 L644.12 56.63 L645.87 56.59 L647.61 56.55 L649.36 56.52 L651.11 56.49 L652.85 56.46 L654.60 56.43 L656.34 56.41 L658.09 56.39" fill="none" stroke="#44619a" stroke-width="1.45" stroke-linejoin="round" stroke-linecap="round" />
<path d="M378.70 144.93 L380.45 144.93 L382.19 144.93 L383.94 144.93 L385.68 144.93 L387.43 144.92 L389.18 144.92 L390.92 144.92 L392.67 144.91 L394.42 144.91 L396.16 144.91 L397.91 144.90 L399.65 144.90 L401.40 144.89 L403.15 144.89 L404.89 144.88 L406.64 144.87 L408.39 144.87 L410.13 144.86 L411.88 144.85 L413.62 144.84 L415.37 144.83 L417.12 144.82 L418.86 144.80 L420.61 144.79 L422.35 144.78 L424.10 144.76 L425.85 144.74 L427.59 144.72 L429.34 144.70 L431.09 144.68 L432.83 144.65 L434.58 144.62 L436.32 144.59 L438.07 144.56 L439.82 144.52 L441.56 144.48 L443.31 144.44 L445.06 144.39 L446.80 144.34 L448.55 144.29 L450.29 144.22 L452.04 144.16 L453.79 144.09 L455.53 144.01 L457.28 143.92 L459.02 143.83 L460.77 143.73 L462.52 143.62 L464.26 143.49 L466.01 143.36 L467.76 143.22 L469.50 143.07 L471.25 142.90 L472.99 142.72 L474.74 142.52 L476.49 142.31 L478.23 142.08 L479.98 141.83 L481.73 141.57 L483.47 141.28 L485.22 140.97 L486.96 140.63 L488.71 140.27 L490.46 139.89 L492.20 139.47 L493.95 139.03 L495.69 138.56 L497.44 138.06 L499.19 137.52 L500.93 136.95 L502.68 136.35 L504.43 135.72 L506.17 135.05 L507.92 134.34 L509.66 133.60 L511.41 132.83 L513.16 132.03 L514.90 131.19 L516.65 130.32 L518.39 129.43 L520.14 128.51 L521.89 127.57 L523.63 126.61 L525.38 125.63 L527.13 124.64 L528.87 123.64 L530.62 122.63 L532.36 121.62 L534.11 120.62 L535.86 119.62 L537.60 118.63 L539.35 117.65 L541.10 116.69 L542.84 115.76 L544.59 114.84 L546.33 113.95 L548.08 113.09 L549.83 112.26 L551.57 111.46 L553.32 110.70 L555.06 109.97 L556.81 109.27 L558.56 108.61 L560.30 107.98 L562.05 107.38 L563.80 106.82 L565.54 106.29 L567.29 105.79 L569.03 105.33 L570.78 104.89 L572.53 104.48 L574.27 104.10 L576.02 103.75 L577.77 103.42 L579.51 103.11 L581.26 102.83 L583.00 102.56 L584.75 102.32 L586.50 102.09 L588.24 101.88 L589.99 101.69 L591.73 101.51 L593.48 101.35 L595.23 101.20 L596.97 101.06 L598.72 100.93 L600.47 100.81 L602.21 100.70 L603.96 100.60 L605.70 100.51 L607.45 100.43 L609.20 100.35 L610.94 100.28 L612.69 100.21 L614.44 100.15 L616.18 100.10 L617.93 100.05 L619.67 100.00 L621.42 99.96 L623.17 99.92 L624.91 99.88 L626.66 99.85 L628.40 99.82 L630.15 99.79 L631.90 99.77 L633.64 99.74 L635.39 99.72 L637.14 99.70 L638.88 99.69 L640.63 99.67 L642.37 99.65 L644.12 99.64 L645.87 99.63 L647.61 99.62 L649.36 99.61 L651.11 99.60 L652.85 99.59 L654.60 99.58 L656.34 99.57 L658.09 99.57" fill="none" stroke="#b0602d" stroke-width="1.45" stroke-linejoin="round" stroke-linecap="round" />
<path d="M378.70 145.05 L380.45 145.04 L382.19 145.04 L383.94 145.04 L385.68 145.04 L387.43 145.04 L389.18 145.04 L390.92 145.03 L392.67 145.03 L394.42 145.03 L396.16 145.03 L397.91 145.02 L399.65 145.02 L401.40 145.02 L403.15 145.01 L404.89 145.01 L406.64 145.00 L408.39 145.00 L410.13 144.99 L411.88 144.98 L413.62 144.98 L415.37 144.97 L417.12 144.96 L418.86 144.95 L420.61 144.94 L422.35 144.93 L424.10 144.92 L425.85 144.91 L427.59 144.90 L429.34 144.88 L431.09 144.87 L432.83 144.85 L434.58 144.83 L436.32 144.81 L438.07 144.79 L439.82 144.76 L441.56 144.73 L443.31 144.71 L445.06 144.67 L446.80 144.64 L448.55 144.60 L450.29 144.56 L452.04 144.52 L453.79 144.47 L455.53 144.42 L457.28 144.36 L459.02 144.30 L460.77 144.23 L462.52 144.16 L464.26 144.08 L466.01 144.00 L467.76 143.90 L469.50 143.80 L471.25 143.69 L472.99 143.58 L474.74 143.45 L476.49 143.32 L478.23 143.17 L479.98 143.01 L481.73 142.84 L483.47 142.66 L485.22 142.46 L486.96 142.25 L488.71 142.03 L490.46 141.79 L492.20 141.53 L493.95 141.26 L495.69 140.97 L497.44 140.66 L499.19 140.33 L500.93 139.98 L502.68 139.62 L504.43 139.23 L506.17 138.83 L507.92 138.41 L509.66 137.97 L511.41 137.51 L513.16 137.04 L514.90 136.55 L516.65 136.04 L518.39 135.52 L520.14 134.99 L521.89 134.44 L523.63 133.89 L525.38 133.33 L527.13 132.77 L528.87 132.20 L530.62 131.63 L532.36 131.06 L534.11 130.50 L535.86 129.94 L537.60 129.38 L539.35 128.84 L541.10 128.31 L542.84 127.79 L544.59 127.29 L546.33 126.80 L548.08 126.32 L549.83 125.87 L551.57 125.43 L553.32 125.01 L555.06 124.61 L556.81 124.23 L558.56 123.86 L560.30 123.52 L562.05 123.20 L563.80 122.89 L565.54 122.60 L567.29 122.33 L569.03 122.07 L570.78 121.83 L572.53 121.61 L574.27 121.40 L576.02 121.21 L577.77 121.03 L579.51 120.86 L581.26 120.70 L583.00 120.55 L584.75 120.42 L586.50 120.29 L588.24 120.18 L589.99 120.07 L591.73 119.97 L593.48 119.88 L595.23 119.80 L596.97 119.72 L598.72 119.65 L600.47 119.58 L602.21 119.52 L603.96 119.46 L605.70 119.41 L607.45 119.36 L609.20 119.32 L610.94 119.28 L612.69 119.24 L614.44 119.21 L616.18 119.18 L617.93 119.15 L619.67 119.12 L621.42 119.10 L623.17 119.07 L624.91 119.05 L626.66 119.03 L628.40 119.02 L630.15 119.00 L631.90 118.99 L633.64 118.97 L635.39 118.96 L637.14 118.95 L638.88 118.94 L640.63 118.93 L642.37 118.92 L644.12 118.91 L645.87 118.91 L647.61 118.90 L649.36 118.89 L651.11 118.89 L652.85 118.88 L654.60 118.88 L656.34 118.87 L658.09 118.87" fill="none" stroke="#a2a2a2" stroke-width="1.45" stroke-linejoin="round" stroke-linecap="round" />
<path d="M378.70 145.16 L380.45 145.16 L382.19 145.16 L383.94 145.16 L385.68 145.15 L387.43 145.15 L389.18 145.15 L390.92 145.15 L392.67 145.15 L394.42 145.15 L396.16 145.15 L397.91 145.14 L399.65 145.14 L401.40 145.14 L403.15 145.14 L404.89 145.13 L406.64 145.13 L408.39 145.13 L410.13 145.12 L411.88 145.12 L413.62 145.12 L415.37 145.11 L417.12 145.11 L418.86 145.10 L420.61 145.10 L422.35 145.09 L424.10 145.08 L425.85 145.07 L427.59 145.06 L429.34 145.06 L431.09 145.05 L432.83 145.03 L434.58 145.02 L436.32 145.01 L438.07 144.99 L439.82 144.98 L441.56 144.96 L443.31 144.94 L445.06 144.92 L446.80 144.90 L448.55 144.88 L450.29 144.85 L452.04 144.82 L453.79 144.79 L455.53 144.76 L457.28 144.72 L459.02 144.68 L460.77 144.63 L462.52 144.59 L464.26 144.53 L466.01 144.48 L467.76 144.42 L469.50 144.35 L471.25 144.28 L472.99 144.20 L474.74 144.12 L476.49 144.03 L478.23 143.93 L479.98 143.82 L481.73 143.71 L483.47 143.58 L485.22 143.45 L486.96 143.31 L488.71 143.16 L490.46 142.99 L492.20 142.82 L493.95 142.63 L495.69 142.44 L497.44 142.23 L499.19 142.00 L500.93 141.77 L502.68 141.52 L504.43 141.25 L506.17 140.98 L507.92 140.69 L509.66 140.39 L511.41 140.08 L513.16 139.75 L514.90 139.41 L516.65 139.07 L518.39 138.71 L520.14 138.35 L521.89 137.97 L523.63 137.60 L525.38 137.22 L527.13 136.83 L528.87 136.45 L530.62 136.06 L532.36 135.67 L534.11 135.29 L535.86 134.92 L537.60 134.55 L539.35 134.18 L541.10 133.83 L542.84 133.48 L544.59 133.14 L546.33 132.82 L548.08 132.51 L549.83 132.21 L551.57 131.92 L553.32 131.64 L555.06 131.38 L556.81 131.13 L558.56 130.90 L560.30 130.67 L562.05 130.46 L563.80 130.27 L565.54 130.08 L567.29 129.91 L569.03 129.75 L570.78 129.59 L572.53 129.45 L574.27 129.32 L576.02 129.20 L577.77 129.09 L579.51 128.98 L581.26 128.88 L583.00 128.79 L584.75 128.71 L586.50 128.63 L588.24 128.56 L589.99 128.49 L591.73 128.43 L593.48 128.38 L595.23 128.32 L596.97 128.28 L598.72 128.23 L600.47 128.19 L602.21 128.16 L603.96 128.12 L605.70 128.09 L607.45 128.06 L609.20 128.04 L610.94 128.01 L612.69 127.99 L614.44 127.97 L616.18 127.95 L617.93 127.93 L619.67 127.92 L621.42 127.90 L623.17 127.89 L624.91 127.88 L626.66 127.87 L628.40 127.86 L630.15 127.85 L631.90 127.84 L633.64 127.83 L635.39 127.82 L637.14 127.82 L638.88 127.81 L640.63 127.81 L642.37 127.80 L644.12 127.80 L645.87 127.79 L647.61 127.79 L649.36 127.79 L651.11 127.78 L652.85 127.78 L654.60 127.78 L656.34 127.77 L658.09 127.77" fill="none" stroke="#4a72c0" stroke-width="1.45" stroke-linejoin="round" stroke-linecap="round" />
<path d="M378.70 145.27 L380.45 145.27 L382.19 145.27 L383.94 145.27 L385.68 145.27 L387.43 145.26 L389.18 145.26 L390.92 145.26 L392.67 145.26 L394.42 145.26 L396.16 145.26 L397.91 145.26 L399.65 145.26 L401.40 145.26 L403.15 145.25 L404.89 145.25 L406.64 145.25 L408.39 145.25 L410.13 145.25 L411.88 145.24 L413.62 145.24 L415.37 145.24 L417.12 145.24 L418.86 145.23 L420.61 145.23 L422.35 145.23 L424.10 145.22 L425.85 145.22 L427.59 145.21 L429.34 145.20 L431.09 145.20 L432.83 145.19 L434.58 145.18 L436.32 145.18 L438.07 145.17 L439.82 145.16 L441.56 145.15 L443.31 145.13 L445.06 145.12 L446.80 145.11 L448.55 145.09 L450.29 145.07 L452.04 145.06 L453.79 145.04 L455.53 145.01 L457.28 144.99 L459.02 144.96 L460.77 144.94 L462.52 144.90 L464.26 144.87 L466.01 144.83 L467.76 144.79 L469.50 144.75 L471.25 144.70 L472.99 144.65 L474.74 144.60 L476.49 144.54 L478.23 144.47 L479.98 144.40 L481.73 144.33 L483.47 144.25 L485.22 144.16 L486.96 144.06 L488.71 143.96 L490.46 143.85 L492.20 143.74 L493.95 143.61 L495.69 143.48 L497.44 143.34 L499.19 143.19 L500.93 143.03 L502.68 142.86 L504.43 142.69 L506.17 142.50 L507.92 142.31 L509.66 142.11 L511.41 141.89 L513.16 141.67 L514.90 141.45 L516.65 141.22 L518.39 140.98 L520.14 140.73 L521.89 140.48 L523.63 140.23 L525.38 139.97 L527.13 139.72 L528.87 139.46 L530.62 139.20 L532.36 138.95 L534.11 138.69 L535.86 138.45 L537.60 138.20 L539.35 137.96 L541.10 137.73 L542.84 137.50 L544.59 137.28 L546.33 137.07 L548.08 136.87 L549.83 136.67 L551.57 136.49 L553.32 136.31 L555.06 136.15 L556.81 135.99 L558.56 135.84 L560.30 135.70 L562.05 135.56 L563.80 135.44 L565.54 135.32 L567.29 135.22 L569.03 135.11 L570.78 135.02 L572.53 134.93 L574.27 134.85 L576.02 134.78 L577.77 134.71 L579.51 134.64 L581.26 134.58 L583.00 134.53 L584.75 134.47 L586.50 134.43 L588.24 134.38 L589.99 134.34 L591.73 134.31 L593.48 134.27 L595.23 134.24 L596.97 134.22 L598.72 134.19 L600.47 134.17 L602.21 134.14 L603.96 134.12 L605.70 134.11 L607.45 134.09 L609.20 134.07 L610.94 134.06 L612.69 134.05 L614.44 134.03 L616.18 134.02 L617.93 134.01 L619.67 134.00 L621.42 134.00 L623.17 133.99 L624.91 133.98 L626.66 133.97 L628.40 133.97 L630.15 133.96 L631.90 133.96 L633.64 133.95 L635.39 133.95 L637.14 133.95 L638.88 133.94 L640.63 133.94 L642.37 133.94 L644.12 133.93 L645.87 133.93 L647.61 133.93 L649.36 133.93 L651.11 133.93 L652.85 133.92 L654.60 133.92 L656.34 133.92 L658.09 133.92" fill="none" stroke="#ed7d31" stroke-width="1.45" stroke-linejoin="round" stroke-linecap="round" />
<path d="M378.70 145.38 L380.45 145.38 L382.19 145.38 L383.94 145.38 L385.68 145.38 L387.43 145.38 L389.18 145.38 L390.92 145.38 L392.67 145.37 L394.42 145.37 L396.16 145.37 L397.91 145.37 L399.65 145.37 L401.40 145.37 L403.15 145.37 L404.89 145.37 L406.64 145.37 L408.39 145.37 L410.13 145.37 L411.88 145.37 L413.62 145.37 L415.37 145.37 L417.12 145.36 L418.86 145.36 L420.61 145.36 L422.35 145.36 L424.10 145.36 L425.85 145.35 L427.59 145.35 L429.34 145.35 L431.09 145.35 L432.83 145.34 L434.58 145.34 L436.32 145.34 L438.07 145.33 L439.82 145.33 L441.56 145.32 L443.31 145.32 L445.06 145.31 L446.80 145.30 L448.55 145.30 L450.29 145.29 L452.04 145.28 L453.79 145.27 L455.53 145.26 L457.28 145.25 L459.02 145.23 L460.77 145.22 L462.52 145.20 L464.26 145.19 L466.01 145.17 L467.76 145.15 L469.50 145.12 L471.25 145.10 L472.99 145.07 L474.74 145.04 L476.49 145.01 L478.23 144.97 L479.98 144.94 L481.73 144.89 L483.47 144.85 L485.22 144.80 L486.96 144.75 L488.71 144.69 L490.46 144.63 L492.20 144.56 L493.95 144.49 L495.69 144.41 L497.44 144.33 L499.19 144.24 L500.93 144.14 L502.68 144.04 L504.43 143.93 L506.17 143.82 L507.92 143.70 L509.66 143.57 L511.41 143.44 L513.16 143.30 L514.90 143.16 L516.65 143.01 L518.39 142.86 L520.14 142.70 L521.89 142.54 L523.63 142.37 L525.38 142.21 L527.13 142.04 L528.87 141.87 L530.62 141.70 L532.36 141.53 L534.11 141.37 L535.86 141.20 L537.60 141.04 L539.35 140.88 L541.10 140.73 L542.84 140.58 L544.59 140.44 L546.33 140.30 L548.08 140.17 L549.83 140.04 L551.57 139.92 L553.32 139.81 L555.06 139.70 L556.81 139.60 L558.56 139.51 L560.30 139.42 L562.05 139.33 L563.80 139.26 L565.54 139.18 L567.29 139.12 L569.03 139.05 L570.78 139.00 L572.53 138.94 L574.27 138.90 L576.02 138.85 L577.77 138.81 L579.51 138.77 L581.26 138.74 L583.00 138.70 L584.75 138.67 L586.50 138.65 L588.24 138.62 L589.99 138.60 L591.73 138.58 L593.48 138.56 L595.23 138.54 L596.97 138.53 L598.72 138.51 L600.47 138.50 L602.21 138.49 L603.96 138.48 L605.70 138.47 L607.45 138.46 L609.20 138.45 L610.94 138.44 L612.69 138.44 L614.44 138.43 L616.18 138.42 L617.93 138.42 L619.67 138.41 L621.42 138.41 L623.17 138.41 L624.91 138.40 L626.66 138.40 L628.40 138.40 L630.15 138.39 L631.90 138.39 L633.64 138.39 L635.39 138.39 L637.14 138.39 L638.88 138.38 L640.63 138.38 L642.37 138.38 L644.12 138.38 L645.87 138.38 L647.61 138.38 L649.36 138.38 L651.11 138.38 L652.85 138.38 L654.60 138.38 L656.34 138.37 L658.09 138.37" fill="none" stroke="#ffc000" stroke-width="1.45" stroke-linejoin="round" stroke-linecap="round" />
<path d="M378.70 145.38 L380.45 145.38 L382.19 145.38 L383.94 145.38 L385.68 145.38 L387.43 145.38 L389.18 145.38 L390.92 145.38 L392.67 145.38 L394.42 145.38 L396.16 145.38 L397.91 145.38 L399.65 145.38 L401.40 145.38 L403.15 145.38 L404.89 145.38 L406.64 145.37 L408.39 145.37 L410.13 145.37 L411.88 145.37 L413.62 145.37 L415.37 145.37 L417.12 145.37 L418.86 145.37 L420.61 145.37 L422.35 145.37 L424.10 145.37 L425.85 145.37 L427.59 145.37 L429.34 145.37 L431.09 145.36 L432.83 145.36 L434.58 145.36 L436.32 145.36 L438.07 145.36 L439.82 145.36 L441.56 145.35 L443.31 145.35 L445.06 145.35 L446.80 145.34 L448.55 145.34 L450.29 145.34 L452.04 145.33 L453.79 145.33 L455.53 145.32 L457.28 145.32 L459.02 145.31 L460.77 145.31 L462.52 145.30 L464.26 145.29 L466.01 145.28 L467.76 145.27 L469.50 145.26 L471.25 145.25 L472.99 145.24 L474.74 145.23 L476.49 145.21 L478.23 145.19 L479.98 145.18 L481.73 145.16 L483.47 145.14 L485.22 145.12 L486.96 145.09 L488.71 145.06 L490.46 145.04 L492.20 145.01 L493.95 144.97 L495.69 144.94 L497.44 144.90 L499.19 144.86 L500.93 144.82 L502.68 144.77 L504.43 144.72 L506.17 144.67 L507.92 144.61 L509.66 144.56 L511.41 144.50 L513.16 144.43 L514.90 144.37 L516.65 144.30 L518.39 144.23 L520.14 144.16 L521.89 144.09 L523.63 144.01 L525.38 143.94 L527.13 143.86 L528.87 143.78 L530.62 143.71 L532.36 143.63 L534.11 143.55 L535.86 143.48 L537.60 143.41 L539.35 143.33 L541.10 143.27 L542.84 143.20 L544.59 143.13 L546.33 143.07 L548.08 143.01 L549.83 142.95 L551.57 142.90 L553.32 142.85 L555.06 142.80 L556.81 142.75 L558.56 142.71 L560.30 142.67 L562.05 142.63 L563.80 142.60 L565.54 142.56 L567.29 142.53 L569.03 142.50 L570.78 142.48 L572.53 142.45 L574.27 142.43 L576.02 142.41 L577.77 142.39 L579.51 142.37 L581.26 142.36 L583.00 142.34 L584.75 142.33 L586.50 142.32 L588.24 142.31 L589.99 142.30 L591.73 142.29 L593.48 142.28 L595.23 142.27 L596.97 142.26 L598.72 142.26 L600.47 142.25 L602.21 142.25 L603.96 142.24 L605.70 142.24 L607.45 142.23 L609.20 142.23 L610.94 142.23 L612.69 142.22 L614.44 142.22 L616.18 142.22 L617.93 142.22 L619.67 142.21 L621.42 142.21 L623.17 142.21 L624.91 142.21 L626.66 142.21 L628.40 142.21 L630.15 142.20 L631.90 142.20 L633.64 142.20 L635.39 142.20 L637.14 142.20 L638.88 142.20 L640.63 142.20 L642.37 142.20 L644.12 142.20 L645.87 142.20 L647.61 142.20 L649.36 142.20 L651.11 142.20 L652.85 142.20 L654.60 142.20 L656.34 142.19 L658.09 142.19" fill="none" stroke="#5b9bd5" stroke-width="1.45" stroke-linejoin="round" stroke-linecap="round" />
<path d="M378.70 145.48 L380.45 145.48 L382.19 145.48 L383.94 145.48 L385.68 145.48 L387.43 145.48 L389.18 145.48 L390.92 145.48 L392.67 145.48 L394.42 145.48 L396.16 145.48 L397.91 145.48 L399.65 145.48 L401.40 145.48 L403.15 145.48 L404.89 145.48 L406.64 145.48 L408.39 145.48 L410.13 145.48 L411.88 145.48 L413.62 145.48 L415.37 145.48 L417.12 145.49 L418.86 145.49 L420.61 145.49 L422.35 145.49 L424.10 145.49 L425.85 145.49 L427.59 145.49 L429.34 145.49 L431.09 145.49 L432.83 145.49 L434.58 145.49 L436.32 145.49 L438.07 145.49 L439.82 145.49 L441.56 145.49 L443.31 145.49 L445.06 145.49 L446.80 145.49 L448.55 145.49 L450.29 145.49 L452.04 145.49 L453.79 145.49 L455.53 145.49 L457.28 145.49 L459.02 145.49 L460.77 145.49 L462.52 145.49 L464.26 145.49 L466.01 145.49 L467.76 145.49 L469.50 145.49 L471.25 145.49 L472.99 145.49 L474.74 145.49 L476.49 145.49 L478.23 145.49 L479.98 145.49 L481.73 145.49 L483.47 145.49 L485.22 145.49 L486.96 145.49 L488.71 145.50 L490.46 145.50 L492.20 145.50 L493.95 145.50 L495.69 145.50 L497.44 145.50 L499.19 145.50 L500.93 145.50 L502.68 145.51 L504.43 145.51 L506.17 145.51 L507.92 145.51 L509.66 145.51 L511.41 145.51 L513.16 145.52 L514.90 145.52 L516.65 145.52 L518.39 145.52 L520.14 145.53 L521.89 145.53 L523.63 145.53 L525.38 145.53 L527.13 145.54 L528.87 145.54 L530.62 145.54 L532.36 145.54 L534.11 145.55 L535.86 145.55 L537.60 145.55 L539.35 145.55 L541.10 145.56 L542.84 145.56 L544.59 145.56 L546.33 145.56 L548.08 145.56 L549.83 145.57 L551.57 145.57 L553.32 145.57 L555.06 145.57 L556.81 145.57 L558.56 145.57 L560.30 145.58 L562.05 145.58 L563.80 145.58 L565.54 145.58 L567.29 145.58 L569.03 145.58 L570.78 145.58 L572.53 145.58 L574.27 145.58 L576.02 145.58 L577.77 145.58 L579.51 145.58 L581.26 145.59 L583.00 145.59 L584.75 145.59 L586.50 145.59 L588.24 145.59 L589.99 145.59 L591.73 145.59 L593.48 145.59 L595.23 145.59 L596.97 145.59 L598.72 145.59 L600.47 145.59 L602.21 145.59 L603.96 145.59 L605.70 145.59 L607.45 145.59 L609.20 145.59 L610.94 145.59 L612.69 145.59 L614.44 145.59 L616.18 145.59 L617.93 145.59 L619.67 145.59 L621.42 145.59 L623.17 145.59 L624.91 145.59 L626.66 145.59 L628.40 145.59 L630.15 145.59 L631.90 145.59 L633.64 145.59 L635.39 145.59 L637.14 145.59 L638.88 145.59 L640.63 145.59 L642.37 145.59 L644.12 145.59 L645.87 145.59 L647.61 145.59 L649.36 145.59 L651.11 145.59 L652.85 145.59 L654.60 145.59 L656.34 145.59 L658.09 145.59" fill="none" stroke="#70ad47" stroke-width="1.45" stroke-linejoin="round" stroke-linecap="round" />
<rect x="605.63" y="55.15" width="18.55" height="4.7" fill="#fff" transform="rotate(-3 614.9 57.5)"/>
<rect x="608.73" y="97.85" width="18.55" height="4.7" fill="#fff" transform="rotate(-1 618 100.2)"/>
<rect x="609.73" y="116.65" width="18.55" height="4.7" fill="#fff"/>
<rect x="609.73" y="125.85" width="18.55" height="4.7" fill="#fff"/>
<rect x="609.73" y="131.45" width="18.55" height="4.7" fill="#fff"/>
<rect x="609.73" y="136.25" width="18.55" height="4.7" fill="#fff"/>
<rect x="609.73" y="140.15" width="18.55" height="4.7" fill="#fff"/>
<rect x="609.73" y="144.85" width="18.55" height="4.7" fill="#fff"/>
<text x="614.9" y="59.52" font-size="5.6" text-anchor="middle" fill="#1e1e1e" stroke="#1e1e1e" stroke-width="0.15" transform="rotate(-3 614.9 57.5)">100 Pa</text>
<text x="618" y="102.22" font-size="5.6" text-anchor="middle" fill="#1e1e1e" stroke="#1e1e1e" stroke-width="0.15" transform="rotate(-1 618 100.2)">200 Pa</text>
<text x="619" y="121.02" font-size="5.6" text-anchor="middle" fill="#1e1e1e" stroke="#1e1e1e" stroke-width="0.15">300 Pa</text>
<text x="619" y="130.22" font-size="5.6" text-anchor="middle" fill="#1e1e1e" stroke="#1e1e1e" stroke-width="0.15">400 Pa</text>
<text x="619" y="135.82" font-size="5.6" text-anchor="middle" fill="#1e1e1e" stroke="#1e1e1e" stroke-width="0.15">500 Pa</text>
<text x="619" y="140.62" font-size="5.6" text-anchor="middle" fill="#1e1e1e" stroke="#1e1e1e" stroke-width="0.15">600 Pa</text>
<text x="619" y="144.52" font-size="5.6" text-anchor="middle" fill="#1e1e1e" stroke="#1e1e1e" stroke-width="0.15">700 Pa</text>
<text x="619" y="149.22" font-size="5.6" text-anchor="middle" fill="#1e1e1e" stroke="#1e1e1e" stroke-width="0.15">800 Pa</text>
<rect x="504" y="125.3" width="42.4" height="21.6" fill="none" stroke="#2a2a2a" stroke-width="0.9"/>
<path d="M512.3 155.2 V150.9" stroke="#111" stroke-width="0.9"/>
<path d="M510.7 151.4 L512.3 148.2 L513.9 151.4Z" fill="#111"/>
<clipPath id="clip2"><rect x="393.4" y="71.6" width="80.3" height="55.4"/></clipPath>
<rect x="393.4" y="71.6" width="80.3" height="55.4" fill="#fff"/>
<line x1="417.57" y1="71.6" x2="417.57" y2="127" stroke="#e6e6e6" stroke-width="0.7"/>
<line x1="431.71" y1="71.6" x2="431.71" y2="127" stroke="#e6e6e6" stroke-width="0.7"/>
<line x1="441.75" y1="71.6" x2="441.75" y2="127" stroke="#e6e6e6" stroke-width="0.7"/>
<line x1="449.53" y1="71.6" x2="449.53" y2="127" stroke="#e6e6e6" stroke-width="0.7"/>
<line x1="455.89" y1="71.6" x2="455.89" y2="127" stroke="#e6e6e6" stroke-width="0.7"/>
<line x1="461.26" y1="71.6" x2="461.26" y2="127" stroke="#e6e6e6" stroke-width="0.7"/>
<line x1="465.92" y1="71.6" x2="465.92" y2="127" stroke="#e6e6e6" stroke-width="0.7"/>
<line x1="470.03" y1="71.6" x2="470.03" y2="127" stroke="#e6e6e6" stroke-width="0.7"/>
<line x1="393.4" y1="127" x2="473.7" y2="127" stroke="#e6e6e6" stroke-width="0.7"/>
<line x1="393.4" y1="117.77" x2="473.7" y2="117.77" stroke="#e6e6e6" stroke-width="0.7"/>
<line x1="393.4" y1="108.53" x2="473.7" y2="108.53" stroke="#e6e6e6" stroke-width="0.7"/>
<line x1="393.4" y1="99.3" x2="473.7" y2="99.3" stroke="#e6e6e6" stroke-width="0.7"/>
<line x1="393.4" y1="90.07" x2="473.7" y2="90.07" stroke="#e6e6e6" stroke-width="0.7"/>
<line x1="393.4" y1="80.83" x2="473.7" y2="80.83" stroke="#e6e6e6" stroke-width="0.7"/>
<line x1="393.4" y1="71.6" x2="473.7" y2="71.6" stroke="#e6e6e6" stroke-width="0.7"/>
<path d="M393.4 127h1.5 M393.4 117.77h1.5 M393.4 108.53h1.5 M393.4 99.3h1.5 M393.4 90.07h1.5 M393.4 80.83h1.5 M393.4 71.6h1.5 M417.57 127v-1.5 M431.71 127v-1.5 M441.75 127v-1.5 M449.53 127v-1.5 M455.89 127v-1.5 M461.26 127v-1.5 M465.92 127v-1.5 M470.03 127v-1.5" stroke="#444" stroke-width="0.6" fill="none"/>
<text x="391.4" y="73.69" font-size="5.8" text-anchor="end" fill="#1a1a1a" stroke="#1a1a1a" stroke-width="0.12">10</text>
<text x="391.4" y="82.92" font-size="5.8" text-anchor="end" fill="#1a1a1a" stroke="#1a1a1a" stroke-width="0.12">8</text>
<text x="391.4" y="92.15" font-size="5.8" text-anchor="end" fill="#1a1a1a" stroke="#1a1a1a" stroke-width="0.12">6</text>
<text x="391.4" y="101.39" font-size="5.8" text-anchor="end" fill="#1a1a1a" stroke="#1a1a1a" stroke-width="0.12">4</text>
<text x="391.4" y="110.62" font-size="5.8" text-anchor="end" fill="#1a1a1a" stroke="#1a1a1a" stroke-width="0.12">2</text>
<text x="391.4" y="119.85" font-size="5.8" text-anchor="end" fill="#1a1a1a" stroke="#1a1a1a" stroke-width="0.12">0</text>
<text x="391.4" y="129.09" font-size="5.8" text-anchor="end" fill="#1a1a1a" stroke="#1a1a1a" stroke-width="0.12">-2</text>
<text x="393.4" y="133.49" font-size="5.8" text-anchor="middle" fill="#1a1a1a" stroke="#1a1a1a" stroke-width="0.12">10</text>
<text x="473.7" y="133.49" font-size="5.8" text-anchor="middle" fill="#1a1a1a" stroke="#1a1a1a" stroke-width="0.12">100</text>
<g clip-path="url(#clip2)">
<path d="M393.40 103.22 L394.74 102.85 L396.08 102.48 L397.41 102.11 L398.75 101.73 L400.09 101.35 L401.43 100.97 L402.77 100.59 L404.11 100.20 L405.44 99.82 L406.78 99.43 L408.12 99.04 L409.46 98.65 L410.80 98.25 L412.14 97.85 L413.47 97.45 L414.81 97.05 L416.15 96.65 L417.49 96.25 L418.83 95.84 L420.17 95.43 L421.50 95.02 L422.84 94.61 L424.18 94.19 L425.52 93.78 L426.86 93.36 L428.20 92.94 L429.53 92.51 L430.87 92.09 L432.21 91.66 L433.55 91.24 L434.89 90.81 L436.23 90.37 L437.56 89.94 L438.90 89.50 L440.24 89.06 L441.58 88.62 L442.92 88.18 L444.26 87.73 L445.59 87.29 L446.93 86.84 L448.27 86.38 L449.61 85.93 L450.95 85.48 L452.29 85.02 L453.62 84.56 L454.96 84.10 L456.30 83.63 L457.64 83.17 L458.98 82.70 L460.32 82.23 L461.65 81.76 L462.99 81.28 L464.33 80.81 L465.67 80.33 L467.01 79.85 L468.35 79.37 L469.69 78.88 L471.02 78.40 L472.36 77.91 L473.70 77.42" fill="none" stroke="#a2a2a2" stroke-width="1.45" stroke-linejoin="round" stroke-linecap="round" />
</g>
<g clip-path="url(#clip2)">
<path d="M393.40 110.52 L394.74 110.32 L396.08 110.12 L397.41 109.92 L398.75 109.72 L400.09 109.52 L401.43 109.33 L402.77 109.13 L404.11 108.93 L405.44 108.74 L406.78 108.54 L408.12 108.35 L409.46 108.16 L410.80 107.96 L412.14 107.77 L413.47 107.58 L414.81 107.39 L416.15 107.20 L417.49 107.01 L418.83 106.82 L420.17 106.63 L421.50 106.45 L422.84 106.26 L424.18 106.07 L425.52 105.89 L426.86 105.70 L428.20 105.52 L429.53 105.34 L430.87 105.15 L432.21 104.97 L433.55 104.79 L434.89 104.61 L436.23 104.43 L437.56 104.25 L438.90 104.07 L440.24 103.89 L441.58 103.71 L442.92 103.54 L444.26 103.36 L445.59 103.18 L446.93 103.01 L448.27 102.83 L449.61 102.66 L450.95 102.49 L452.29 102.31 L453.62 102.14 L454.96 101.97 L456.30 101.80 L457.64 101.62 L458.98 101.45 L460.32 101.28 L461.65 101.12 L462.99 100.95 L464.33 100.78 L465.67 100.61 L467.01 100.45 L468.35 100.28 L469.69 100.11 L471.02 99.95 L472.36 99.79 L473.70 99.62" fill="none" stroke="#ed7d31" stroke-width="1.45" stroke-linejoin="round" stroke-linecap="round" />
</g>
<g clip-path="url(#clip2)">
<path d="M393.40 113.52 L394.74 113.41 L396.08 113.30 L397.41 113.19 L398.75 113.07 L400.09 112.96 L401.43 112.85 L402.77 112.74 L404.11 112.63 L405.44 112.52 L406.78 112.40 L408.12 112.29 L409.46 112.18 L410.80 112.07 L412.14 111.95 L413.47 111.84 L414.81 111.73 L416.15 111.61 L417.49 111.50 L418.83 111.39 L420.17 111.27 L421.50 111.16 L422.84 111.04 L424.18 110.93 L425.52 110.82 L426.86 110.70 L428.20 110.59 L429.53 110.47 L430.87 110.36 L432.21 110.24 L433.55 110.13 L434.89 110.01 L436.23 109.90 L437.56 109.78 L438.90 109.66 L440.24 109.55 L441.58 109.43 L442.92 109.31 L444.26 109.20 L445.59 109.08 L446.93 108.96 L448.27 108.85 L449.61 108.73 L450.95 108.61 L452.29 108.50 L453.62 108.38 L454.96 108.26 L456.30 108.14 L457.64 108.02 L458.98 107.91 L460.32 107.79 L461.65 107.67 L462.99 107.55 L464.33 107.43 L465.67 107.31 L467.01 107.19 L468.35 107.07 L469.69 106.95 L471.02 106.83 L472.36 106.71 L473.70 106.59" fill="none" stroke="#ffc000" stroke-width="1.45" stroke-linejoin="round" stroke-linecap="round" />
</g>
<path d="M409.9 100.82 L411.8 102.72 L409.9 104.62 L408 102.72Z" fill="#fff" stroke="#222" stroke-width="0.8"/>
<path d="M409.9 107.23 L411.8 109.13 L409.9 111.03 L408 109.13Z" fill="#ed7d31" stroke="#222" stroke-width="0.8"/>
<path d="M409.9 110.1 L411.8 112 L409.9 113.9 L408 112Z" fill="#c8a020" stroke="#222" stroke-width="0.8"/>
<rect x="445.06" y="83.22" width="17.28" height="4.37" fill="#fff" transform="rotate(-14 453.7 85.4)"/>
<rect x="448.76" y="98.72" width="17.28" height="4.37" fill="#fff" transform="rotate(-6 457.4 100.9)"/>
<rect x="448.76" y="106.22" width="17.28" height="4.37" fill="#fff" transform="rotate(-4 457.4 108.4)"/>
<text x="453.7" y="87.27" font-size="5.2" text-anchor="middle" fill="#1e1e1e" stroke="#1e1e1e" stroke-width="0.08" transform="rotate(-14 453.7 85.4)">300 Pa</text>
<text x="457.4" y="102.77" font-size="5.2" text-anchor="middle" fill="#1e1e1e" stroke="#1e1e1e" stroke-width="0.08" transform="rotate(-6 457.4 100.9)">500 Pa</text>
<text x="457.4" y="110.27" font-size="5.2" text-anchor="middle" fill="#1e1e1e" stroke="#1e1e1e" stroke-width="0.08" transform="rotate(-4 457.4 108.4)">600 Pa</text>
<rect x="393.4" y="71.6" width="80.3" height="55.4" fill="none" stroke="#2b2b2b" stroke-width="1.3"/>
<path d="M505.8 125.2 C503 112 492 104 478.6 103.6" fill="none" stroke="#444" stroke-width="0.75"/>
<path d="M481.41 102.03 L477.9 103.5 L481.18 105.42" fill="none" stroke="#444" stroke-width="0.75"/>
<defs><linearGradient id="frBb" x1="0" x2="1"><stop offset="0" stop-color="#bdbdbd"/><stop offset="0.13" stop-color="#d0d0d0"/><stop offset="0.16" stop-color="#f3f3f3"/><stop offset="0.2" stop-color="#d2d2d2"/><stop offset="1" stop-color="#c2c2c2"/></linearGradient>
<linearGradient id="frBu" x1="0" x2="1"><stop offset="0" stop-color="#dcdcdc"/><stop offset="0.3" stop-color="#efefef"/><stop offset="0.36" stop-color="#fafafa"/><stop offset="0.45" stop-color="#e8e8e8"/><stop offset="1" stop-color="#e2e2e2"/></linearGradient>
<linearGradient id="frBd" x1="0" x2="0" y1="0" y2="1"><stop offset="0" stop-color="#b0e2f2"/><stop offset="1" stop-color="#7fd0e8"/></linearGradient></defs>
<path d="M391.2 46.2 V55.9 A30.7 9.6 0 0 0 452.6 55.9 V46.2Z" fill="url(#frBb)" stroke="#2e2e2e" stroke-width="0.75"/>
<path d="M406.8 31 L391.2 46.2 A30.7 10.3 0 0 0 452.6 46.2 L437 31Z" fill="#d8d8d8" stroke="#2e2e2e" stroke-width="0.75"/>
<path d="M415.9 33.5 L401.9 52" stroke="#f2f2f2" stroke-width="1.6"/>
<path d="M406.8 18.7 V31 A15.1 4.2 0 0 0 437 31 V18.7Z" fill="url(#frBu)" stroke="#2e2e2e" stroke-width="0.75"/>
<path d="M406.8 18.7 C407.9 10 415.9 8 421.9 8 C427.9 8 435.9 10 437 18.7Z" fill="url(#frBd)" stroke="#2e2e2e" stroke-width="0.75"/>
<ellipse cx="421.9" cy="18.7" rx="15.1" ry="5" fill="#5cc0df" stroke="#2e2e2e" stroke-width="0.75"/>
<ellipse cx="421.9" cy="22.2" rx="4.5" ry="1.3" fill="#3aa9cf" stroke="#2e2e2e" stroke-width="0.4"/>
<text x="440.1" y="20.5" font-size="11.6" fill="#2a2a2a">(b)</text>
<path d="M36.70 336.68 L38.45 336.67 L40.20 336.65 L41.95 336.64 L43.70 336.62 L45.45 336.60 L47.20 336.58 L48.95 336.56 L50.70 336.53 L52.45 336.51 L54.20 336.49 L55.95 336.46 L57.70 336.43 L59.45 336.40 L61.21 336.37 L62.96 336.34 L64.71 336.31 L66.46 336.28 L68.21 336.25 L69.96 336.22 L71.71 336.18 L73.46 336.15 L75.21 336.12 L76.96 336.08 L78.71 336.05 L80.46 336.01 L82.21 335.97 L83.96 335.94 L85.71 335.90 L87.46 335.86 L89.21 335.82 L90.96 335.78 L92.71 335.73 L94.46 335.69 L96.21 335.64 L97.96 335.60 L99.71 335.55 L101.46 335.49 L103.21 335.44 L104.96 335.38 L106.72 335.33 L108.47 335.27 L110.22 335.20 L111.97 335.14 L113.72 335.07 L115.47 335.00 L117.22 334.92 L118.97 334.85 L120.72 334.77 L122.47 334.68 L124.22 334.58 L125.97 334.48 L127.72 334.37 L129.47 334.24 L131.22 334.11 L132.97 333.96 L134.72 333.80 L136.47 333.63 L138.22 333.45 L139.97 333.25 L141.72 333.03 L143.47 332.79 L145.22 332.51 L146.97 332.20 L148.72 331.84 L150.47 331.44 L152.22 331.00 L153.98 330.50 L155.73 329.94 L157.48 329.33 L159.23 328.66 L160.98 327.91 L162.73 327.05 L164.48 325.63 L166.23 323.75 L167.98 321.68 L169.73 319.70 L171.48 317.95 L173.23 316.24 L174.98 314.55 L176.73 312.85 L178.48 311.12 L180.23 309.32 L181.98 307.44 L183.73 305.46 L185.48 303.39 L187.23 301.24 L188.98 299.01 L190.73 296.68 L192.48 294.25 L194.23 291.70 L195.98 289.03 L197.73 286.16 L199.48 283.13 L201.24 279.94 L202.99 276.63 L204.74 273.18 L206.49 269.45 L208.24 265.59 L209.99 261.72 L211.74 257.71 L213.49 253.71 L215.24 249.87 L216.99 246.37 L218.74 243.07 L220.49 239.94 L222.24 237.01 L223.99 234.31 L225.74 231.78 L227.49 229.35 L229.24 227.08 L230.99 224.99 L232.74 223.15 L234.49 221.52 L236.24 220.03 L237.99 218.67 L239.74 217.47 L241.49 216.43 L243.24 215.50 L244.99 214.62 L246.75 213.81 L248.50 213.06 L250.25 212.37 L252.00 211.76 L253.75 211.23 L255.50 210.78 L257.25 210.35 L259.00 209.95 L260.75 209.59 L262.50 209.28 L264.25 209.03 L266.00 208.86 L267.75 208.76 L269.50 208.67 L271.25 208.58 L273.00 208.51 L274.75 208.44 L276.50 208.37 L278.25 208.32 L280.00 208.28 L281.75 208.24 L283.50 208.21 L285.25 208.19 L287.00 208.19 L288.75 208.19 L290.50 208.19 L292.25 208.19 L294.01 208.19 L295.76 208.19 L297.51 208.19 L299.26 208.19 L301.01 208.19 L302.76 208.19 L304.51 208.19 L306.26 208.19 L308.01 208.19 L309.76 208.19 L311.51 208.19 L313.26 208.19 L315.01 208.19 L316.76 208.19" fill="none" stroke="#44619a" stroke-width="1.45" stroke-linejoin="round" stroke-linecap="round" />
<path d="M36.70 336.79 L38.45 336.78 L40.20 336.77 L41.95 336.76 L43.70 336.74 L45.45 336.73 L47.20 336.71 L48.95 336.69 L50.70 336.67 L52.45 336.65 L54.20 336.63 L55.95 336.61 L57.70 336.59 L59.45 336.56 L61.21 336.54 L62.96 336.51 L64.71 336.49 L66.46 336.46 L68.21 336.43 L69.96 336.41 L71.71 336.38 L73.46 336.35 L75.21 336.32 L76.96 336.29 L78.71 336.26 L80.46 336.23 L82.21 336.20 L83.96 336.16 L85.71 336.13 L87.46 336.09 L89.21 336.06 L90.96 336.02 L92.71 335.98 L94.46 335.94 L96.21 335.90 L97.96 335.85 L99.71 335.81 L101.46 335.76 L103.21 335.71 L104.96 335.66 L106.72 335.60 L108.47 335.55 L110.22 335.49 L111.97 335.43 L113.72 335.36 L115.47 335.30 L117.22 335.23 L118.97 335.16 L120.72 335.08 L122.47 335.00 L124.22 334.91 L125.97 334.82 L127.72 334.71 L129.47 334.59 L131.22 334.47 L132.97 334.33 L134.72 334.18 L136.47 334.02 L138.22 333.85 L139.97 333.66 L141.72 333.46 L143.47 333.23 L145.22 332.96 L146.97 332.67 L148.72 332.33 L150.47 331.95 L152.22 331.53 L153.98 331.07 L155.73 330.55 L157.48 329.99 L159.23 329.37 L160.98 328.70 L162.73 327.94 L164.48 326.78 L166.23 325.28 L167.98 323.62 L169.73 321.98 L171.48 320.44 L173.23 318.89 L174.98 317.31 L176.73 315.70 L178.48 314.04 L180.23 312.32 L181.98 310.54 L183.73 308.68 L185.48 306.73 L187.23 304.71 L188.98 302.61 L190.73 300.43 L192.48 298.17 L194.23 295.83 L195.98 293.41 L197.73 290.87 L199.48 288.21 L201.24 285.43 L202.99 282.53 L204.74 279.51 L206.49 276.22 L208.24 272.73 L209.99 269.13 L211.74 265.52 L213.49 262.00 L215.24 258.65 L216.99 255.56 L218.74 252.57 L220.49 249.69 L222.24 247.03 L223.99 244.66 L225.74 242.50 L227.49 240.45 L229.24 238.56 L230.99 236.89 L232.74 235.48 L234.49 234.32 L236.24 233.28 L237.99 232.37 L239.74 231.60 L241.49 230.98 L243.24 230.46 L244.99 229.96 L246.75 229.49 L248.50 229.08 L250.25 228.73 L252.00 228.46 L253.75 228.28 L255.50 228.21 L257.25 228.17 L259.00 228.14 L260.75 228.11 L262.50 228.08 L264.25 228.06 L266.00 228.04 L267.75 228.03 L269.50 228.02 L271.25 228.02 L273.00 228.02 L274.75 228.02 L276.50 228.02 L278.25 228.02 L280.00 228.02 L281.75 228.02 L283.50 228.02 L285.25 228.02 L287.00 228.02 L288.75 228.02 L290.50 228.02 L292.25 228.02 L294.01 228.02 L295.76 228.02 L297.51 228.02 L299.26 228.02 L301.01 228.02 L302.76 228.02 L304.51 228.02 L306.26 228.02 L308.01 228.02 L309.76 228.02 L311.51 228.02 L313.26 228.02 L315.01 228.02 L316.76 228.02" fill="none" stroke="#b0602d" stroke-width="1.45" stroke-linejoin="round" stroke-linecap="round" />
<path d="M36.70 337.00 L38.45 336.99 L40.20 336.98 L41.95 336.96 L43.70 336.95 L45.45 336.93 L47.20 336.91 L48.95 336.90 L50.70 336.88 L52.45 336.86 L54.20 336.83 L55.95 336.81 L57.70 336.79 L59.45 336.77 L61.21 336.74 L62.96 336.72 L64.71 336.69 L66.46 336.67 L68.21 336.64 L69.96 336.61 L71.71 336.58 L73.46 336.56 L75.21 336.53 L76.96 336.50 L78.71 336.47 L80.46 336.44 L82.21 336.41 L83.96 336.38 L85.71 336.35 L87.46 336.31 L89.21 336.28 L90.96 336.25 L92.71 336.21 L94.46 336.17 L96.21 336.14 L97.96 336.10 L99.71 336.06 L101.46 336.01 L103.21 335.97 L104.96 335.92 L106.72 335.87 L108.47 335.82 L110.22 335.77 L111.97 335.71 L113.72 335.66 L115.47 335.60 L117.22 335.53 L118.97 335.47 L120.72 335.40 L122.47 335.33 L124.22 335.24 L125.97 335.15 L127.72 335.05 L129.47 334.95 L131.22 334.83 L132.97 334.70 L134.72 334.56 L136.47 334.41 L138.22 334.25 L139.97 334.07 L141.72 333.88 L143.47 333.67 L145.22 333.42 L146.97 333.14 L148.72 332.83 L150.47 332.48 L152.22 332.09 L153.98 331.66 L155.73 331.18 L157.48 330.67 L159.23 330.11 L160.98 329.50 L162.73 328.82 L164.48 327.81 L166.23 326.52 L167.98 325.11 L169.73 323.73 L171.48 322.46 L173.23 321.19 L174.98 319.93 L176.73 318.64 L178.48 317.32 L180.23 315.96 L181.98 314.54 L183.73 313.05 L185.48 311.48 L187.23 309.83 L188.98 308.11 L190.73 306.36 L192.48 304.58 L194.23 302.78 L195.98 300.98 L197.73 299.18 L199.48 297.34 L201.24 295.44 L202.99 293.46 L204.74 291.34 L206.49 289.02 L208.24 286.57 L209.99 284.09 L211.74 281.68 L213.49 279.44 L215.24 277.29 L216.99 275.18 L218.74 273.13 L220.49 271.15 L222.24 269.25 L223.99 267.45 L225.74 265.66 L227.49 263.87 L229.24 262.18 L230.99 260.68 L232.74 259.48 L234.49 258.55 L236.24 257.69 L237.99 256.95 L239.74 256.39 L241.49 256.08 L243.24 255.94 L244.99 255.82 L246.75 255.71 L248.50 255.63 L250.25 255.56 L252.00 255.51 L253.75 255.47 L255.50 255.44 L257.25 255.42 L259.00 255.39 L260.75 255.37 L262.50 255.35 L264.25 255.33 L266.00 255.31 L267.75 255.29 L269.50 255.27 L271.25 255.25 L273.00 255.23 L274.75 255.22 L276.50 255.20 L278.25 255.19 L280.00 255.17 L281.75 255.16 L283.50 255.14 L285.25 255.13 L287.00 255.12 L288.75 255.11 L290.50 255.10 L292.25 255.09 L294.01 255.08 L295.76 255.07 L297.51 255.07 L299.26 255.06 L301.01 255.05 L302.76 255.05 L304.51 255.04 L306.26 255.04 L308.01 255.03 L309.76 255.03 L311.51 255.03 L313.26 255.03 L315.01 255.03 L316.76 255.03" fill="none" stroke="#a2a2a2" stroke-width="1.45" stroke-linejoin="round" stroke-linecap="round" />
<path d="M36.70 337.21 L38.45 337.20 L40.20 337.18 L41.95 337.16 L43.70 337.14 L45.45 337.13 L47.20 337.11 L48.95 337.09 L50.70 337.07 L52.45 337.05 L54.20 337.03 L55.95 337.00 L57.70 336.98 L59.45 336.96 L61.21 336.94 L62.96 336.91 L64.71 336.89 L66.46 336.86 L68.21 336.84 L69.96 336.81 L71.71 336.79 L73.46 336.76 L75.21 336.73 L76.96 336.71 L78.71 336.68 L80.46 336.65 L82.21 336.63 L83.96 336.60 L85.71 336.58 L87.46 336.55 L89.21 336.52 L90.96 336.50 L92.71 336.47 L94.46 336.44 L96.21 336.41 L97.96 336.38 L99.71 336.35 L101.46 336.32 L103.21 336.28 L104.96 336.25 L106.72 336.21 L108.47 336.17 L110.22 336.13 L111.97 336.09 L113.72 336.04 L115.47 335.99 L117.22 335.94 L118.97 335.88 L120.72 335.83 L122.47 335.76 L124.22 335.68 L125.97 335.59 L127.72 335.49 L129.47 335.38 L131.22 335.26 L132.97 335.12 L134.72 334.98 L136.47 334.83 L138.22 334.66 L139.97 334.49 L141.72 334.31 L143.47 334.10 L145.22 333.86 L146.97 333.60 L148.72 333.31 L150.47 332.98 L152.22 332.62 L153.98 332.23 L155.73 331.80 L157.48 331.34 L159.23 330.84 L160.98 330.30 L162.73 329.70 L164.48 328.83 L166.23 327.75 L167.98 326.59 L169.73 325.47 L171.48 324.47 L173.23 323.51 L174.98 322.56 L176.73 321.61 L178.48 320.63 L180.23 319.62 L181.98 318.56 L183.73 317.42 L185.48 316.23 L187.23 314.99 L188.98 313.69 L190.73 312.33 L192.48 310.91 L194.23 309.43 L195.98 307.85 L197.73 306.09 L199.48 304.22 L201.24 302.32 L202.99 300.47 L204.74 298.72 L206.49 297.01 L208.24 295.32 L209.99 293.65 L211.74 292.01 L213.49 290.39 L215.24 288.80 L216.99 287.24 L218.74 285.68 L220.49 284.13 L222.24 282.64 L223.99 281.24 L225.74 279.98 L227.49 278.83 L229.24 277.91 L230.99 277.11 L232.74 276.33 L234.49 275.63 L236.24 275.05 L237.99 274.64 L239.74 274.44 L241.49 274.39 L243.24 274.35 L244.99 274.31 L246.75 274.28 L248.50 274.26 L250.25 274.24 L252.00 274.23 L253.75 274.23 L255.50 274.23 L257.25 274.23 L259.00 274.23 L260.75 274.23 L262.50 274.23 L264.25 274.23 L266.00 274.23 L267.75 274.23 L269.50 274.23 L271.25 274.23 L273.00 274.23 L274.75 274.23 L276.50 274.23 L278.25 274.23 L280.00 274.23 L281.75 274.23 L283.50 274.23 L285.25 274.23 L287.00 274.23 L288.75 274.23 L290.50 274.23 L292.25 274.23 L294.01 274.23 L295.76 274.23 L297.51 274.23 L299.26 274.23 L301.01 274.23 L302.76 274.23 L304.51 274.23 L306.26 274.23 L308.01 274.23 L309.76 274.23 L311.51 274.23 L313.26 274.23 L315.01 274.23 L316.76 274.23" fill="none" stroke="#4a72c0" stroke-width="1.45" stroke-linejoin="round" stroke-linecap="round" />
<path d="M36.70 337.42 L38.45 337.41 L40.20 337.40 L41.95 337.39 L43.70 337.38 L45.45 337.37 L47.20 337.35 L48.95 337.34 L50.70 337.32 L52.45 337.31 L54.20 337.29 L55.95 337.27 L57.70 337.25 L59.45 337.24 L61.21 337.22 L62.96 337.20 L64.71 337.18 L66.46 337.16 L68.21 337.13 L69.96 337.11 L71.71 337.09 L73.46 337.07 L75.21 337.04 L76.96 337.02 L78.71 337.00 L80.46 336.97 L82.21 336.95 L83.96 336.93 L85.71 336.90 L87.46 336.87 L89.21 336.85 L90.96 336.82 L92.71 336.79 L94.46 336.76 L96.21 336.73 L97.96 336.70 L99.71 336.67 L101.46 336.64 L103.21 336.60 L104.96 336.56 L106.72 336.52 L108.47 336.48 L110.22 336.44 L111.97 336.40 L113.72 336.35 L115.47 336.30 L117.22 336.25 L118.97 336.20 L120.72 336.14 L122.47 336.08 L124.22 336.01 L125.97 335.93 L127.72 335.85 L129.47 335.75 L131.22 335.65 L132.97 335.53 L134.72 335.41 L136.47 335.28 L138.22 335.15 L139.97 335.00 L141.72 334.84 L143.47 334.67 L145.22 334.46 L146.97 334.24 L148.72 333.99 L150.47 333.71 L152.22 333.41 L153.98 333.08 L155.73 332.73 L157.48 332.34 L159.23 331.93 L160.98 331.49 L162.73 331.01 L164.48 330.37 L166.23 329.58 L167.98 328.72 L169.73 327.85 L171.48 326.99 L173.23 326.09 L174.98 325.16 L176.73 324.20 L178.48 323.22 L180.23 322.23 L181.98 321.23 L183.73 320.23 L185.48 319.24 L187.23 318.24 L188.98 317.22 L190.73 316.18 L192.48 315.09 L194.23 313.94 L195.98 312.70 L197.73 311.32 L199.48 309.87 L201.24 308.40 L202.99 306.99 L204.74 305.69 L206.49 304.44 L208.24 303.21 L209.99 302.02 L211.74 300.86 L213.49 299.72 L215.24 298.61 L216.99 297.52 L218.74 296.38 L220.49 295.22 L222.24 294.08 L223.99 293.00 L225.74 292.03 L227.49 291.22 L229.24 290.61 L230.99 290.08 L232.74 289.56 L234.49 289.08 L236.24 288.64 L237.99 288.27 L239.74 287.96 L241.49 287.75 L243.24 287.64 L244.99 287.63 L246.75 287.67 L248.50 287.75 L250.25 287.85 L252.00 287.97 L253.75 288.10 L255.50 288.24 L257.25 288.39 L259.00 288.58 L260.75 288.84 L262.50 289.13 L264.25 289.43 L266.00 289.71 L267.75 289.95 L269.50 290.13 L271.25 290.29 L273.00 290.44 L274.75 290.59 L276.50 290.73 L278.25 290.86 L280.00 290.98 L281.75 291.08 L283.50 291.17 L285.25 291.25 L287.00 291.31 L288.75 291.35 L290.50 291.39 L292.25 291.43 L294.01 291.47 L295.76 291.51 L297.51 291.54 L299.26 291.57 L301.01 291.60 L302.76 291.63 L304.51 291.66 L306.26 291.68 L308.01 291.70 L309.76 291.71 L311.51 291.72 L313.26 291.73 L315.01 291.74 L316.76 291.74" fill="none" stroke="#ed7d31" stroke-width="1.45" stroke-linejoin="round" stroke-linecap="round" />
<path d="M36.70 337.63 L38.45 337.62 L40.20 337.61 L41.95 337.60 L43.70 337.58 L45.45 337.57 L47.20 337.56 L48.95 337.54 L50.70 337.52 L52.45 337.51 L54.20 337.49 L55.95 337.47 L57.70 337.46 L59.45 337.44 L61.21 337.42 L62.96 337.40 L64.71 337.38 L66.46 337.36 L68.21 337.34 L69.96 337.32 L71.71 337.30 L73.46 337.28 L75.21 337.25 L76.96 337.23 L78.71 337.21 L80.46 337.19 L82.21 337.16 L83.96 337.14 L85.71 337.12 L87.46 337.10 L89.21 337.07 L90.96 337.05 L92.71 337.02 L94.46 337.00 L96.21 336.97 L97.96 336.95 L99.71 336.92 L101.46 336.89 L103.21 336.86 L104.96 336.83 L106.72 336.79 L108.47 336.76 L110.22 336.72 L111.97 336.68 L113.72 336.64 L115.47 336.60 L117.22 336.56 L118.97 336.51 L120.72 336.46 L122.47 336.41 L124.22 336.34 L125.97 336.27 L127.72 336.19 L129.47 336.10 L131.22 336.01 L132.97 335.90 L134.72 335.79 L136.47 335.67 L138.22 335.55 L139.97 335.41 L141.72 335.27 L143.47 335.11 L145.22 334.93 L146.97 334.73 L148.72 334.51 L150.47 334.27 L152.22 334.00 L153.98 333.71 L155.73 333.40 L157.48 333.06 L159.23 332.70 L160.98 332.31 L162.73 331.88 L164.48 331.29 L166.23 330.57 L167.98 329.78 L169.73 329.01 L171.48 328.27 L173.23 327.50 L174.98 326.72 L176.73 325.93 L178.48 325.14 L180.23 324.36 L181.98 323.61 L183.73 322.88 L185.48 322.22 L187.23 321.59 L188.98 320.96 L190.73 320.32 L192.48 319.63 L194.23 318.86 L195.98 317.98 L197.73 316.92 L199.48 315.77 L201.24 314.57 L202.99 313.41 L204.74 312.33 L206.49 311.23 L208.24 310.11 L209.99 309.02 L211.74 307.97 L213.49 307.01 L215.24 306.16 L216.99 305.46 L218.74 304.78 L220.49 304.10 L222.24 303.44 L223.99 302.81 L225.74 302.24 L227.49 301.74 L229.24 301.33 L230.99 301.03 L232.74 300.85 L234.49 300.82 L236.24 300.91 L237.99 301.10 L239.74 301.38 L241.49 301.71 L243.24 302.08 L244.99 302.48 L246.75 302.88 L248.50 303.33 L250.25 303.90 L252.00 304.54 L253.75 305.20 L255.50 305.83 L257.25 306.38 L259.00 306.88 L260.75 307.38 L262.50 307.86 L264.25 308.31 L266.00 308.72 L267.75 309.08 L269.50 309.39 L271.25 309.68 L273.00 309.96 L274.75 310.23 L276.50 310.48 L278.25 310.72 L280.00 310.94 L281.75 311.13 L283.50 311.30 L285.25 311.44 L287.00 311.55 L288.75 311.64 L290.50 311.72 L292.25 311.80 L294.01 311.87 L295.76 311.95 L297.51 312.02 L299.26 312.08 L301.01 312.14 L302.76 312.20 L304.51 312.24 L306.26 312.29 L308.01 312.33 L309.76 312.36 L311.51 312.39 L313.26 312.40 L315.01 312.42 L316.76 312.42" fill="none" stroke="#ffc000" stroke-width="1.45" stroke-linejoin="round" stroke-linecap="round" />
<path d="M36.70 337.84 L38.45 337.84 L40.20 337.83 L41.95 337.82 L43.70 337.81 L45.45 337.80 L47.20 337.79 L48.95 337.78 L50.70 337.77 L52.45 337.76 L54.20 337.75 L55.95 337.73 L57.70 337.72 L59.45 337.70 L61.21 337.69 L62.96 337.67 L64.71 337.66 L66.46 337.64 L68.21 337.63 L69.96 337.61 L71.71 337.59 L73.46 337.58 L75.21 337.56 L76.96 337.54 L78.71 337.53 L80.46 337.51 L82.21 337.49 L83.96 337.47 L85.71 337.45 L87.46 337.43 L89.21 337.42 L90.96 337.40 L92.71 337.37 L94.46 337.35 L96.21 337.33 L97.96 337.31 L99.71 337.28 L101.46 337.26 L103.21 337.23 L104.96 337.20 L106.72 337.18 L108.47 337.14 L110.22 337.11 L111.97 337.08 L113.72 337.04 L115.47 337.01 L117.22 336.97 L118.97 336.93 L120.72 336.88 L122.47 336.83 L124.22 336.78 L125.97 336.71 L127.72 336.64 L129.47 336.56 L131.22 336.47 L132.97 336.37 L134.72 336.27 L136.47 336.16 L138.22 336.05 L139.97 335.93 L141.72 335.80 L143.47 335.66 L145.22 335.50 L146.97 335.33 L148.72 335.14 L150.47 334.94 L152.22 334.71 L153.98 334.47 L155.73 334.21 L157.48 333.93 L159.23 333.63 L160.98 333.31 L162.73 332.97 L164.48 332.51 L166.23 331.97 L167.98 331.38 L169.73 330.79 L171.48 330.22 L173.23 329.62 L174.98 329.00 L176.73 328.37 L178.48 327.74 L180.23 327.11 L181.98 326.49 L183.73 325.89 L185.48 325.32 L187.23 324.77 L188.98 324.22 L190.73 323.66 L192.48 323.06 L194.23 322.40 L195.98 321.65 L197.73 320.74 L199.48 319.75 L201.24 318.76 L202.99 317.88 L204.74 317.15 L206.49 316.50 L208.24 315.89 L209.99 315.32 L211.74 314.78 L213.49 314.27 L215.24 313.79 L216.99 313.33 L218.74 312.83 L220.49 312.32 L222.24 311.82 L223.99 311.38 L225.74 311.02 L227.49 310.80 L229.24 310.73 L230.99 310.79 L232.74 310.93 L234.49 311.13 L236.24 311.40 L237.99 311.71 L239.74 312.06 L241.49 312.44 L243.24 312.84 L244.99 313.24 L246.75 313.64 L248.50 314.07 L250.25 314.60 L252.00 315.19 L253.75 315.80 L255.50 316.39 L257.25 316.93 L259.00 317.44 L260.75 317.95 L262.50 318.45 L264.25 318.94 L266.00 319.39 L267.75 319.81 L269.50 320.19 L271.25 320.55 L273.00 320.90 L274.75 321.24 L276.50 321.57 L278.25 321.88 L280.00 322.17 L281.75 322.44 L283.50 322.70 L285.25 322.92 L287.00 323.13 L288.75 323.31 L290.50 323.48 L292.25 323.64 L294.01 323.79 L295.76 323.93 L297.51 324.05 L299.26 324.17 L301.01 324.28 L302.76 324.37 L304.51 324.46 L306.26 324.54 L308.01 324.61 L309.76 324.68 L311.51 324.74 L313.26 324.79 L315.01 324.84 L316.76 324.87" fill="none" stroke="#5b9bd5" stroke-width="1.45" stroke-linejoin="round" stroke-linecap="round" />
<path d="M36.70 338.16 L38.45 338.15 L40.20 338.14 L41.95 338.13 L43.70 338.12 L45.45 338.11 L47.20 338.10 L48.95 338.09 L50.70 338.08 L52.45 338.06 L54.20 338.05 L55.95 338.04 L57.70 338.03 L59.45 338.01 L61.21 338.00 L62.96 337.98 L64.71 337.97 L66.46 337.95 L68.21 337.94 L69.96 337.92 L71.71 337.91 L73.46 337.89 L75.21 337.88 L76.96 337.86 L78.71 337.84 L80.46 337.83 L82.21 337.81 L83.96 337.79 L85.71 337.78 L87.46 337.76 L89.21 337.75 L90.96 337.73 L92.71 337.71 L94.46 337.69 L96.21 337.68 L97.96 337.66 L99.71 337.64 L101.46 337.62 L103.21 337.60 L104.96 337.57 L106.72 337.55 L108.47 337.53 L110.22 337.50 L111.97 337.47 L113.72 337.44 L115.47 337.41 L117.22 337.38 L118.97 337.34 L120.72 337.31 L122.47 337.26 L124.22 337.21 L125.97 337.15 L127.72 337.08 L129.47 337.01 L131.22 336.93 L132.97 336.84 L134.72 336.75 L136.47 336.65 L138.22 336.55 L139.97 336.44 L141.72 336.34 L143.47 336.22 L145.22 336.10 L146.97 335.97 L148.72 335.84 L150.47 335.69 L152.22 335.53 L153.98 335.36 L155.73 335.17 L157.48 334.97 L159.23 334.76 L160.98 334.52 L162.73 334.26 L164.48 333.92 L166.23 333.50 L167.98 333.05 L169.73 332.59 L171.48 332.13 L173.23 331.66 L174.98 331.17 L176.73 330.66 L178.48 330.16 L180.23 329.65 L181.98 329.16 L183.73 328.68 L185.48 328.19 L187.23 327.71 L188.98 327.23 L190.73 326.76 L192.48 326.31 L194.23 325.87 L195.98 325.47 L197.73 325.10 L199.48 324.74 L201.24 324.39 L202.99 324.02 L204.74 323.62 L206.49 323.19 L208.24 322.74 L209.99 322.28 L211.74 321.81 L213.49 321.36 L215.24 320.93 L216.99 320.52 L218.74 320.07 L220.49 319.58 L222.24 319.12 L223.99 318.71 L225.74 318.40 L227.49 318.24 L229.24 318.25 L230.99 318.38 L232.74 318.63 L234.49 318.96 L236.24 319.37 L237.99 319.83 L239.74 320.34 L241.49 320.88 L243.24 321.42 L244.99 321.97 L246.75 322.49 L248.50 323.02 L250.25 323.64 L252.00 324.29 L253.75 324.97 L255.50 325.62 L257.25 326.22 L259.00 326.79 L260.75 327.36 L262.50 327.91 L264.25 328.45 L266.00 328.97 L267.75 329.46 L269.50 329.94 L271.25 330.42 L273.00 330.89 L274.75 331.37 L276.50 331.83 L278.25 332.28 L280.00 332.70 L281.75 333.10 L283.50 333.47 L285.25 333.80 L287.00 334.08 L288.75 334.33 L290.50 334.56 L292.25 334.78 L294.01 334.98 L295.76 335.18 L297.51 335.35 L299.26 335.51 L301.01 335.64 L302.76 335.76 L304.51 335.85 L306.26 335.94 L308.01 336.02 L309.76 336.09 L311.51 336.16 L313.26 336.21 L315.01 336.24 L316.76 336.26" fill="none" stroke="#70ad47" stroke-width="1.45" stroke-linejoin="round" stroke-linecap="round" />
<rect x="270.33" y="206.45" width="18.55" height="4.7" fill="#fff"/>
<rect x="270.33" y="226.05" width="18.55" height="4.7" fill="#fff"/>
<rect x="270.33" y="253.05" width="18.55" height="4.7" fill="#fff"/>
<rect x="270.43" y="271.75" width="18.55" height="4.7" fill="#fff"/>
<rect x="270.43" y="288.15" width="18.55" height="4.7" fill="#fff" transform="rotate(4 279.7 290.5)"/>
<rect x="269.03" y="307.55" width="18.55" height="4.7" fill="#fff" transform="rotate(8 278.3 309.9)"/>
<rect x="268.33" y="318.85" width="18.55" height="4.7" fill="#fff" transform="rotate(9 277.6 321.2)"/>
<rect x="266.83" y="330.55" width="18.55" height="4.7" fill="#fff" transform="rotate(9 276.1 332.9)"/>
<text x="279.6" y="210.82" font-size="5.6" text-anchor="middle" fill="#1e1e1e" stroke="#1e1e1e" stroke-width="0.15">100 Pa</text>
<text x="279.6" y="230.42" font-size="5.6" text-anchor="middle" fill="#1e1e1e" stroke="#1e1e1e" stroke-width="0.15">200 Pa</text>
<text x="279.6" y="257.42" font-size="5.6" text-anchor="middle" fill="#1e1e1e" stroke="#1e1e1e" stroke-width="0.15">300 Pa</text>
<text x="279.7" y="276.12" font-size="5.6" text-anchor="middle" fill="#1e1e1e" stroke="#1e1e1e" stroke-width="0.15">400 Pa</text>
<text x="279.7" y="292.52" font-size="5.6" text-anchor="middle" fill="#1e1e1e" stroke="#1e1e1e" stroke-width="0.15" transform="rotate(4 279.7 290.5)">500 Pa</text>
<text x="278.3" y="311.92" font-size="5.6" text-anchor="middle" fill="#1e1e1e" stroke="#1e1e1e" stroke-width="0.15" transform="rotate(8 278.3 309.9)">600 Pa</text>
<text x="277.6" y="323.22" font-size="5.6" text-anchor="middle" fill="#1e1e1e" stroke="#1e1e1e" stroke-width="0.15" transform="rotate(9 277.6 321.2)">700 Pa</text>
<text x="276.1" y="334.92" font-size="5.6" text-anchor="middle" fill="#1e1e1e" stroke="#1e1e1e" stroke-width="0.15" transform="rotate(9 276.1 332.9)">800 Pa</text>
<clipPath id="clip3"><rect x="51.2" y="271.3" width="84.4" height="56"/></clipPath>
<rect x="51.2" y="271.3" width="84.4" height="56" fill="#fff"/>
<line x1="76.61" y1="271.3" x2="76.61" y2="327.3" stroke="#e6e6e6" stroke-width="0.7"/>
<line x1="91.47" y1="271.3" x2="91.47" y2="327.3" stroke="#e6e6e6" stroke-width="0.7"/>
<line x1="102.01" y1="271.3" x2="102.01" y2="327.3" stroke="#e6e6e6" stroke-width="0.7"/>
<line x1="110.19" y1="271.3" x2="110.19" y2="327.3" stroke="#e6e6e6" stroke-width="0.7"/>
<line x1="116.88" y1="271.3" x2="116.88" y2="327.3" stroke="#e6e6e6" stroke-width="0.7"/>
<line x1="122.53" y1="271.3" x2="122.53" y2="327.3" stroke="#e6e6e6" stroke-width="0.7"/>
<line x1="127.42" y1="271.3" x2="127.42" y2="327.3" stroke="#e6e6e6" stroke-width="0.7"/>
<line x1="131.74" y1="271.3" x2="131.74" y2="327.3" stroke="#e6e6e6" stroke-width="0.7"/>
<line x1="51.2" y1="316.1" x2="135.6" y2="316.1" stroke="#e6e6e6" stroke-width="0.7"/>
<line x1="51.2" y1="304.9" x2="135.6" y2="304.9" stroke="#e6e6e6" stroke-width="0.7"/>
<line x1="51.2" y1="293.7" x2="135.6" y2="293.7" stroke="#e6e6e6" stroke-width="0.7"/>
<line x1="51.2" y1="282.5" x2="135.6" y2="282.5" stroke="#e6e6e6" stroke-width="0.7"/>
<path d="M51.2 316.1h1.5 M51.2 304.9h1.5 M51.2 293.7h1.5 M51.2 282.5h1.5 M76.61 327.3v-1.5 M91.47 327.3v-1.5 M102.01 327.3v-1.5 M110.19 327.3v-1.5 M116.88 327.3v-1.5 M122.53 327.3v-1.5 M127.42 327.3v-1.5 M131.74 327.3v-1.5" stroke="#444" stroke-width="0.6" fill="none"/>
<text x="48.6" y="284.66" font-size="6.0" text-anchor="end" fill="#1a1a1a" stroke="#1a1a1a" stroke-width="0.12">4</text>
<text x="48.6" y="295.86" font-size="6.0" text-anchor="end" fill="#1a1a1a" stroke="#1a1a1a" stroke-width="0.12">3</text>
<text x="48.6" y="307.06" font-size="6.0" text-anchor="end" fill="#1a1a1a" stroke="#1a1a1a" stroke-width="0.12">2</text>
<text x="48.6" y="318.26" font-size="6.0" text-anchor="end" fill="#1a1a1a" stroke="#1a1a1a" stroke-width="0.12">1</text>
<text x="48.6" y="329.46" font-size="6.0" text-anchor="end" fill="#1a1a1a" stroke="#1a1a1a" stroke-width="0.12">0</text>
<text x="51.2" y="333.76" font-size="6.0" text-anchor="middle" fill="#1a1a1a" stroke="#1a1a1a" stroke-width="0.12">1</text>
<text x="48.6" y="276.2" font-size="6" text-anchor="end" fill="#333">5</text>
<g clip-path="url(#clip3)">
<path d="M51.20 312.40 L52.61 312.31 L54.01 312.18 L55.42 312.02 L56.83 311.84 L58.23 311.63 L59.64 311.40 L61.05 311.14 L62.45 310.86 L63.86 310.56 L65.27 310.23 L66.67 309.89 L68.08 309.52 L69.49 309.14 L70.89 308.74 L72.30 308.32 L73.71 307.89 L75.11 307.44 L76.52 306.98 L77.93 306.51 L79.33 306.03 L80.74 305.54 L82.15 305.03 L83.55 304.52 L84.96 304.00 L86.37 303.48 L87.77 302.95 L89.18 302.41 L90.59 301.87 L91.99 301.32 L93.40 300.72 L94.81 300.07 L96.21 299.39 L97.62 298.66 L99.03 297.90 L100.43 297.10 L101.84 296.27 L103.25 295.41 L104.65 294.51 L106.06 293.59 L107.47 292.64 L108.87 291.67 L110.28 290.68 L111.69 289.67 L113.09 288.64 L114.50 287.59 L115.91 286.53 L117.31 285.45 L118.72 284.37 L120.13 283.28 L121.53 282.16 L122.94 280.99 L124.35 279.76 L125.75 278.47 L127.16 277.15 L128.57 275.78 L129.97 274.37 L131.38 272.94 L132.79 271.48 L134.19 270.00 L135.60 268.50" fill="none" stroke="#b0602d" stroke-width="1.45" stroke-linejoin="round" stroke-linecap="round" />
</g>
<g clip-path="url(#clip3)">
<path d="M51.20 316.77 L52.61 316.69 L54.01 316.59 L55.42 316.47 L56.83 316.33 L58.23 316.17 L59.64 316.00 L61.05 315.80 L62.45 315.59 L63.86 315.36 L65.27 315.12 L66.67 314.86 L68.08 314.59 L69.49 314.31 L70.89 314.01 L72.30 313.70 L73.71 313.38 L75.11 313.05 L76.52 312.71 L77.93 312.36 L79.33 312.00 L80.74 311.63 L82.15 311.26 L83.55 310.88 L84.96 310.49 L86.37 310.10 L87.77 309.70 L89.18 309.30 L90.59 308.90 L91.99 308.49 L93.40 308.05 L94.81 307.59 L96.21 307.10 L97.62 306.58 L99.03 306.05 L100.43 305.48 L101.84 304.90 L103.25 304.29 L104.65 303.67 L106.06 303.02 L107.47 302.35 L108.87 301.66 L110.28 300.95 L111.69 300.22 L113.09 299.47 L114.50 298.70 L115.91 297.92 L117.31 297.12 L118.72 296.30 L120.13 295.47 L121.53 294.62 L122.94 293.76 L124.35 292.88 L125.75 291.99 L127.16 291.08 L128.57 290.17 L129.97 289.24 L131.38 288.30 L132.79 287.35 L134.19 286.38 L135.60 285.41" fill="none" stroke="#4a72c0" stroke-width="1.45" stroke-linejoin="round" stroke-linecap="round" />
</g>
<g clip-path="url(#clip3)">
<path d="M51.20 319.01 L52.61 318.89 L54.01 318.75 L55.42 318.60 L56.83 318.43 L58.23 318.26 L59.64 318.07 L61.05 317.87 L62.45 317.66 L63.86 317.45 L65.27 317.22 L66.67 316.98 L68.08 316.73 L69.49 316.47 L70.89 316.21 L72.30 315.94 L73.71 315.65 L75.11 315.37 L76.52 315.07 L77.93 314.77 L79.33 314.46 L80.74 314.14 L82.15 313.82 L83.55 313.50 L84.96 313.17 L86.37 312.83 L87.77 312.49 L89.18 312.15 L90.59 311.80 L91.99 311.45 L93.40 311.08 L94.81 310.69 L96.21 310.29 L97.62 309.88 L99.03 309.45 L100.43 309.01 L101.84 308.55 L103.25 308.08 L104.65 307.59 L106.06 307.10 L107.47 306.59 L108.87 306.07 L110.28 305.53 L111.69 304.98 L113.09 304.43 L114.50 303.86 L115.91 303.28 L117.31 302.69 L118.72 302.08 L120.13 301.47 L121.53 300.85 L122.94 300.22 L124.35 299.58 L125.75 298.93 L127.16 298.27 L128.57 297.60 L129.97 296.93 L131.38 296.24 L132.79 295.55 L134.19 294.85 L135.60 294.15" fill="none" stroke="#ed7d31" stroke-width="1.45" stroke-linejoin="round" stroke-linecap="round" />
</g>
<g clip-path="url(#clip3)">
<path d="M51.20 321.70 L52.61 321.61 L54.01 321.51 L55.42 321.41 L56.83 321.30 L58.23 321.17 L59.64 321.05 L61.05 320.91 L62.45 320.77 L63.86 320.62 L65.27 320.47 L66.67 320.30 L68.08 320.14 L69.49 319.96 L70.89 319.78 L72.30 319.60 L73.71 319.41 L75.11 319.22 L76.52 319.02 L77.93 318.81 L79.33 318.61 L80.74 318.39 L82.15 318.18 L83.55 317.96 L84.96 317.74 L86.37 317.51 L87.77 317.28 L89.18 317.05 L90.59 316.82 L91.99 316.58 L93.40 316.33 L94.81 316.08 L96.21 315.81 L97.62 315.53 L99.03 315.24 L100.43 314.95 L101.84 314.65 L103.25 314.33 L104.65 314.01 L106.06 313.68 L107.47 313.34 L108.87 313.00 L110.28 312.64 L111.69 312.28 L113.09 311.91 L114.50 311.53 L115.91 311.15 L117.31 310.76 L118.72 310.36 L120.13 309.96 L121.53 309.55 L122.94 309.13 L124.35 308.71 L125.75 308.28 L127.16 307.84 L128.57 307.40 L129.97 306.96 L131.38 306.51 L132.79 306.05 L134.19 305.59 L135.60 305.12" fill="none" stroke="#70ad47" stroke-width="1.45" stroke-linejoin="round" stroke-linecap="round" />
</g>
<path d="M91.1 299.86 L93 301.76 L91.1 303.66 L89.2 301.76Z" fill="#8a3d12" stroke="#222" stroke-width="0.8"/>
<path d="M91.1 305.02 L93 306.92 L91.1 308.82 L89.2 306.92Z" fill="#2e75b6" stroke="#222" stroke-width="0.8"/>
<path d="M91.1 307.59 L93 309.49 L91.1 311.39 L89.2 309.49Z" fill="#ed7d31" stroke="#222" stroke-width="0.8"/>
<path d="M91.1 310.5 L93 312.4 L91.1 314.3 L89.2 312.4Z" fill="#70ad47" stroke="#222" stroke-width="0.8"/>
<rect x="103.66" y="286.22" width="17.28" height="4.37" fill="#fff" transform="rotate(-28 112.3 288.4)"/>
<rect x="108.76" y="293.92" width="17.28" height="4.37" fill="#fff" transform="rotate(-23 117.4 296.1)"/>
<rect x="111.66" y="299.02" width="17.28" height="4.37" fill="#fff" transform="rotate(-20 120.3 301.2)"/>
<rect x="114.56" y="306.62" width="17.28" height="4.37" fill="#fff" transform="rotate(-15 123.2 308.8)"/>
<text x="112.3" y="290.27" font-size="5.2" text-anchor="middle" fill="#1e1e1e" stroke="#1e1e1e" stroke-width="0.08" transform="rotate(-28 112.3 288.4)">216 Pa</text>
<text x="117.4" y="297.97" font-size="5.2" text-anchor="middle" fill="#1e1e1e" stroke="#1e1e1e" stroke-width="0.08" transform="rotate(-23 117.4 296.1)">386 Pa</text>
<text x="120.3" y="303.07" font-size="5.2" text-anchor="middle" fill="#1e1e1e" stroke="#1e1e1e" stroke-width="0.08" transform="rotate(-20 120.3 301.2)">530 Pa</text>
<text x="123.2" y="310.67" font-size="5.2" text-anchor="middle" fill="#1e1e1e" stroke="#1e1e1e" stroke-width="0.08" transform="rotate(-15 123.2 308.8)">718 Pa</text>
<rect x="51.2" y="271.3" width="84.4" height="56" fill="none" stroke="#2b2b2b" stroke-width="1.3"/>
<rect x="120.2" y="327.2" width="41.2" height="11.2" fill="none" stroke="#1a1a1a" stroke-width="0.9"/>
<text x="134.5" y="332.6" font-size="6" text-anchor="middle" fill="#333">10</text>
<path d="M140.4 348.6 V343.5" stroke="#111" stroke-width="0.9"/>
<path d="M138.8 344 L140.4 340.8 L142 344Z" fill="#111"/>
<path d="M120.2 333.6 C112 333.2 106.5 331 104.8 328.3" fill="none" stroke="#444" stroke-width="0.7"/>
<path d="M107.4 329.31 L104.4 327.9 L105.25 331.1" fill="none" stroke="#444" stroke-width="0.7"/>
<defs><linearGradient id="cuvCc" x1="0" x2="1"><stop offset="0" stop-color="#6a9fcc"/><stop offset="0.37" stop-color="#6a9fcc"/><stop offset="0.4" stop-color="#7db5e0"/><stop offset="1" stop-color="#7db5e0"/></linearGradient></defs>
<defs><linearGradient id="cuC" x1="0" x2="1" y1="0" y2="0">
<stop offset="0" stop-color="#e0916d"/><stop offset="0.06" stop-color="#f3a47f"/><stop offset="0.24" stop-color="#f5ab88"/>
<stop offset="0.22" stop-color="#f6b592"/><stop offset="0.28" stop-color="#fde3d3"/><stop offset="0.33" stop-color="#fffaf5"/><stop offset="0.4" stop-color="#fde8da"/><stop offset="0.48" stop-color="#f2a885"/>
<stop offset="0.8" stop-color="#e69676"/><stop offset="0.94" stop-color="#d48566"/><stop offset="1" stop-color="#bd7253"/></linearGradient></defs>
<path d="M42.2 254.6 V267 A15.55 2.9 0 0 0 73.3 267 V254.6 A15.55 2.9 0 0 1 42.2 254.6Z" fill="url(#cuC)" stroke="#a86a4c" stroke-width="0.5"/>
<ellipse cx="57.75" cy="254.6" rx="15.55" ry="2.9" fill="#e99a78" stroke="#9a5e42" stroke-width="0.6"/>
<path d="M47.2 195.2 L66.2 195.2 L69.4 197.6 L69.4 256.2 L47.2 256.2Z" fill="#dbe8f7" stroke="#7d8794" stroke-width="0.5"/>
<rect x="48" y="197.2" width="2.2" height="59" fill="#e9f2fb"/>
<path d="M50.3 198.2 V256.2 M65.3 195.7 V256.2 M68.3 197.2 V256.2" stroke="#7f8a96" stroke-width="0.45"/>
<path d="M47.7 195.7 L66 195.7 L68.8 197.8 L50.5 198.4Z" fill="#e6e6e6" stroke="#8a8a8a" stroke-width="0.5"/>
<path d="M50.5 198.4 L68.4 198 L62.2 208.7 L56.4 213.8Z" fill="#f4f9fe"/>
<path d="M50.5 198.8 L56.2 213.6 M52 198.6 L57.4 212.4 M63.6 197.6 L59.5 207 M66.8 197.8 L62 208.1" stroke="#8f8f8f" stroke-width="0.6"/>
<path d="M53.5 213 Q55.7 213.4 58 211.4 Q60 212.8 62.3 212 V256.7 H53.5Z" fill="url(#cuvCc)"/>
<path d="M54 214.7 Q58 216.2 61.8 214.4" stroke="#a9d0ee" stroke-width="0.5" fill="none"/>
<path d="M42.2 254.6 A15.55 2.9 0 0 0 73.3 254.6 L73.3 255.8 A15.55 2.9 0 0 1 42.2 255.8Z" fill="#f0a37f" stroke="#a86a4c" stroke-width="0.4"/>
<text x="73.1" y="211.3" font-size="11.6" fill="#2a2a2a">(c)</text>
<path d="M378.90 338.66 L380.67 338.65 L382.44 338.64 L384.21 338.62 L385.99 338.60 L387.76 338.58 L389.53 338.56 L391.30 338.54 L393.07 338.51 L394.84 338.48 L396.61 338.45 L398.38 338.42 L400.16 338.39 L401.93 338.35 L403.70 338.32 L405.47 338.28 L407.24 338.24 L409.01 338.20 L410.78 338.16 L412.55 338.12 L414.33 338.08 L416.10 338.03 L417.87 337.99 L419.64 337.94 L421.41 337.90 L423.18 337.86 L424.95 337.81 L426.73 337.76 L428.50 337.72 L430.27 337.67 L432.04 337.62 L433.81 337.57 L435.58 337.51 L437.35 337.46 L439.12 337.40 L440.90 337.33 L442.67 337.27 L444.44 337.19 L446.21 337.12 L447.98 337.04 L449.75 336.95 L451.52 336.86 L453.30 336.76 L455.07 336.66 L456.84 336.55 L458.61 336.43 L460.38 336.31 L462.15 336.18 L463.92 336.04 L465.69 335.83 L467.47 335.54 L469.24 335.18 L471.01 334.76 L472.78 334.30 L474.55 333.80 L476.32 333.28 L478.09 332.75 L479.86 332.23 L481.64 331.71 L483.41 331.22 L485.18 330.77 L486.95 330.35 L488.72 329.95 L490.49 329.57 L492.26 329.19 L494.04 328.81 L495.81 328.43 L497.58 328.03 L499.35 327.61 L501.12 327.16 L502.89 326.67 L504.66 326.14 L506.43 325.56 L508.21 324.92 L509.98 324.17 L511.75 323.26 L513.52 322.20 L515.29 321.01 L517.06 319.73 L518.83 318.35 L520.61 316.92 L522.38 315.44 L524.15 313.94 L525.92 312.44 L527.69 310.95 L529.46 309.50 L531.23 308.08 L533.00 306.62 L534.78 305.11 L536.55 303.57 L538.32 302.01 L540.09 300.44 L541.86 298.86 L543.63 297.29 L545.40 295.74 L547.17 294.21 L548.95 292.70 L550.72 291.19 L552.49 289.66 L554.26 288.14 L556.03 286.62 L557.80 285.12 L559.57 283.66 L561.35 282.23 L563.12 280.84 L564.89 279.51 L566.66 278.24 L568.43 277.00 L570.20 275.79 L571.97 274.61 L573.74 273.47 L575.52 272.35 L577.29 271.25 L579.06 270.18 L580.83 269.12 L582.60 268.05 L584.37 267.00 L586.14 265.99 L587.91 265.05 L589.69 264.21 L591.46 263.47 L593.23 262.77 L595.00 262.09 L596.77 261.44 L598.54 260.83 L600.31 260.25 L602.09 259.71 L603.86 259.21 L605.63 258.75 L607.40 258.34 L609.17 257.97 L610.94 257.62 L612.71 257.29 L614.48 256.96 L616.26 256.65 L618.03 256.35 L619.80 256.07 L621.57 255.80 L623.34 255.56 L625.11 255.33 L626.88 255.13 L628.66 254.95 L630.43 254.80 L632.20 254.67 L633.97 254.57 L635.74 254.47 L637.51 254.37 L639.28 254.27 L641.05 254.18 L642.83 254.09 L644.60 254.01 L646.37 253.93 L648.14 253.86 L649.91 253.79 L651.68 253.74 L653.45 253.69 L655.22 253.64 L657.00 253.61 L658.77 253.59 L660.54 253.57 L662.31 253.57" fill="none" stroke="#44619a" stroke-width="1.45" stroke-linejoin="round" stroke-linecap="round" />
<path d="M378.90 338.75 L380.67 338.75 L382.44 338.75 L384.21 338.74 L385.99 338.74 L387.76 338.74 L389.53 338.74 L391.30 338.73 L393.07 338.73 L394.84 338.73 L396.61 338.73 L398.38 338.72 L400.16 338.72 L401.93 338.71 L403.70 338.71 L405.47 338.70 L407.24 338.70 L409.01 338.69 L410.78 338.69 L412.55 338.68 L414.33 338.67 L416.10 338.67 L417.87 338.66 L419.64 338.65 L421.41 338.64 L423.18 338.63 L424.95 338.61 L426.73 338.60 L428.50 338.59 L430.27 338.57 L432.04 338.56 L433.81 338.54 L435.58 338.52 L437.35 338.50 L439.12 338.47 L440.90 338.45 L442.67 338.42 L444.44 338.39 L446.21 338.36 L447.98 338.33 L449.75 338.29 L451.52 338.25 L453.30 338.21 L455.07 338.16 L456.84 338.11 L458.61 338.05 L460.38 337.99 L462.15 337.93 L463.92 337.86 L465.69 337.78 L467.47 337.70 L469.24 337.61 L471.01 337.52 L472.78 337.41 L474.55 337.30 L476.32 337.18 L478.09 337.05 L479.86 336.91 L481.64 336.76 L483.41 336.60 L485.18 336.43 L486.95 336.24 L488.72 336.04 L490.49 335.83 L492.26 335.59 L494.04 335.35 L495.81 335.08 L497.58 334.80 L499.35 334.50 L501.12 334.18 L502.89 333.83 L504.66 333.47 L506.43 333.08 L508.21 332.67 L509.98 332.24 L511.75 331.78 L513.52 331.30 L515.29 330.79 L517.06 330.26 L518.83 329.70 L520.61 329.12 L522.38 328.51 L524.15 327.88 L525.92 327.22 L527.69 326.54 L529.46 325.84 L531.23 325.12 L533.00 324.39 L534.78 323.64 L536.55 322.87 L538.32 322.09 L540.09 321.30 L541.86 320.51 L543.63 319.71 L545.40 318.91 L547.17 318.11 L548.95 317.31 L550.72 316.52 L552.49 315.74 L554.26 314.97 L556.03 314.21 L557.80 313.47 L559.57 312.75 L561.35 312.05 L563.12 311.36 L564.89 310.70 L566.66 310.07 L568.43 309.45 L570.20 308.86 L571.97 308.30 L573.74 307.76 L575.52 307.25 L577.29 306.76 L579.06 306.30 L580.83 305.86 L582.60 305.44 L584.37 305.05 L586.14 304.68 L587.91 304.33 L589.69 304.01 L591.46 303.70 L593.23 303.41 L595.00 303.14 L596.77 302.89 L598.54 302.66 L600.31 302.44 L602.09 302.24 L603.86 302.05 L605.63 301.87 L607.40 301.71 L609.17 301.55 L610.94 301.41 L612.71 301.28 L614.48 301.16 L616.26 301.04 L618.03 300.94 L619.80 300.84 L621.57 300.75 L623.34 300.67 L625.11 300.59 L626.88 300.52 L628.66 300.46 L630.43 300.39 L632.20 300.34 L633.97 300.29 L635.74 300.24 L637.51 300.19 L639.28 300.15 L641.05 300.11 L642.83 300.08 L644.60 300.05 L646.37 300.02 L648.14 299.99 L649.91 299.97 L651.68 299.94 L653.45 299.92 L655.22 299.90 L657.00 299.88 L658.77 299.87 L660.54 299.85 L662.31 299.84" fill="none" stroke="#b0602d" stroke-width="1.45" stroke-linejoin="round" stroke-linecap="round" />
<path d="M378.90 338.75 L380.67 338.75 L382.44 338.75 L384.21 338.75 L385.99 338.75 L387.76 338.75 L389.53 338.75 L391.30 338.74 L393.07 338.74 L394.84 338.74 L396.61 338.74 L398.38 338.74 L400.16 338.73 L401.93 338.73 L403.70 338.73 L405.47 338.72 L407.24 338.72 L409.01 338.72 L410.78 338.71 L412.55 338.71 L414.33 338.70 L416.10 338.70 L417.87 338.69 L419.64 338.69 L421.41 338.68 L423.18 338.67 L424.95 338.66 L426.73 338.65 L428.50 338.64 L430.27 338.63 L432.04 338.62 L433.81 338.61 L435.58 338.60 L437.35 338.58 L439.12 338.57 L440.90 338.55 L442.67 338.53 L444.44 338.51 L446.21 338.49 L447.98 338.47 L449.75 338.44 L451.52 338.41 L453.30 338.38 L455.07 338.35 L456.84 338.32 L458.61 338.28 L460.38 338.24 L462.15 338.19 L463.92 338.14 L465.69 338.09 L467.47 338.04 L469.24 337.98 L471.01 337.91 L472.78 337.84 L474.55 337.76 L476.32 337.68 L478.09 337.59 L479.86 337.50 L481.64 337.39 L483.41 337.28 L485.18 337.16 L486.95 337.03 L488.72 336.90 L490.49 336.75 L492.26 336.59 L494.04 336.42 L495.81 336.24 L497.58 336.05 L499.35 335.84 L501.12 335.62 L502.89 335.38 L504.66 335.13 L506.43 334.87 L508.21 334.59 L509.98 334.29 L511.75 333.98 L513.52 333.64 L515.29 333.30 L517.06 332.93 L518.83 332.55 L520.61 332.15 L522.38 331.73 L524.15 331.30 L525.92 330.85 L527.69 330.38 L529.46 329.90 L531.23 329.41 L533.00 328.90 L534.78 328.39 L536.55 327.86 L538.32 327.33 L540.09 326.79 L541.86 326.24 L543.63 325.69 L545.40 325.14 L547.17 324.59 L548.95 324.05 L550.72 323.51 L552.49 322.97 L554.26 322.44 L556.03 321.92 L557.80 321.42 L559.57 320.92 L561.35 320.44 L563.12 319.97 L564.89 319.52 L566.66 319.08 L568.43 318.66 L570.20 318.25 L571.97 317.87 L573.74 317.50 L575.52 317.15 L577.29 316.81 L579.06 316.49 L580.83 316.19 L582.60 315.91 L584.37 315.64 L586.14 315.39 L587.91 315.15 L589.69 314.92 L591.46 314.71 L593.23 314.52 L595.00 314.33 L596.77 314.16 L598.54 314.00 L600.31 313.85 L602.09 313.71 L603.86 313.58 L605.63 313.46 L607.40 313.34 L609.17 313.24 L610.94 313.14 L612.71 313.05 L614.48 312.97 L616.26 312.89 L618.03 312.82 L619.80 312.75 L621.57 312.69 L623.34 312.63 L625.11 312.58 L626.88 312.53 L628.66 312.49 L630.43 312.45 L632.20 312.41 L633.97 312.37 L635.74 312.34 L637.51 312.31 L639.28 312.28 L641.05 312.25 L642.83 312.23 L644.60 312.21 L646.37 312.19 L648.14 312.17 L649.91 312.15 L651.68 312.14 L653.45 312.12 L655.22 312.11 L657.00 312.09 L658.77 312.08 L660.54 312.07 L662.31 312.06" fill="none" stroke="#a2a2a2" stroke-width="1.45" stroke-linejoin="round" stroke-linecap="round" />
<path d="M378.90 338.76 L380.67 338.76 L382.44 338.76 L384.21 338.76 L385.99 338.76 L387.76 338.75 L389.53 338.75 L391.30 338.75 L393.07 338.75 L394.84 338.75 L396.61 338.75 L398.38 338.75 L400.16 338.74 L401.93 338.74 L403.70 338.74 L405.47 338.74 L407.24 338.74 L409.01 338.73 L410.78 338.73 L412.55 338.73 L414.33 338.72 L416.10 338.72 L417.87 338.72 L419.64 338.71 L421.41 338.71 L423.18 338.70 L424.95 338.70 L426.73 338.69 L428.50 338.68 L430.27 338.68 L432.04 338.67 L433.81 338.66 L435.58 338.65 L437.35 338.64 L439.12 338.63 L440.90 338.62 L442.67 338.61 L444.44 338.60 L446.21 338.58 L447.98 338.57 L449.75 338.55 L451.52 338.53 L453.30 338.51 L455.07 338.49 L456.84 338.47 L458.61 338.44 L460.38 338.41 L462.15 338.38 L463.92 338.35 L465.69 338.32 L467.47 338.28 L469.24 338.24 L471.01 338.19 L472.78 338.15 L474.55 338.10 L476.32 338.04 L478.09 337.98 L479.86 337.92 L481.64 337.85 L483.41 337.77 L485.18 337.69 L486.95 337.61 L488.72 337.52 L490.49 337.42 L492.26 337.31 L494.04 337.20 L495.81 337.08 L497.58 336.95 L499.35 336.81 L501.12 336.66 L502.89 336.51 L504.66 336.34 L506.43 336.16 L508.21 335.97 L509.98 335.77 L511.75 335.56 L513.52 335.34 L515.29 335.11 L517.06 334.87 L518.83 334.61 L520.61 334.34 L522.38 334.06 L524.15 333.77 L525.92 333.47 L527.69 333.16 L529.46 332.84 L531.23 332.51 L533.00 332.18 L534.78 331.83 L536.55 331.48 L538.32 331.12 L540.09 330.76 L541.86 330.40 L543.63 330.03 L545.40 329.66 L547.17 329.30 L548.95 328.93 L550.72 328.57 L552.49 328.21 L554.26 327.86 L556.03 327.51 L557.80 327.17 L559.57 326.84 L561.35 326.52 L563.12 326.21 L564.89 325.90 L566.66 325.61 L568.43 325.33 L570.20 325.06 L571.97 324.80 L573.74 324.55 L575.52 324.32 L577.29 324.09 L579.06 323.88 L580.83 323.68 L582.60 323.49 L584.37 323.31 L586.14 323.14 L587.91 322.98 L589.69 322.83 L591.46 322.69 L593.23 322.56 L595.00 322.44 L596.77 322.32 L598.54 322.22 L600.31 322.11 L602.09 322.02 L603.86 321.93 L605.63 321.85 L607.40 321.78 L609.17 321.71 L610.94 321.64 L612.71 321.58 L614.48 321.53 L616.26 321.47 L618.03 321.43 L619.80 321.38 L621.57 321.34 L623.34 321.30 L625.11 321.27 L626.88 321.23 L628.66 321.20 L630.43 321.18 L632.20 321.15 L633.97 321.13 L635.74 321.11 L637.51 321.08 L639.28 321.07 L641.05 321.05 L642.83 321.03 L644.60 321.02 L646.37 321.00 L648.14 320.99 L649.91 320.98 L651.68 320.97 L653.45 320.96 L655.22 320.95 L657.00 320.94 L658.77 320.93 L660.54 320.93 L662.31 320.92" fill="none" stroke="#4a72c0" stroke-width="1.45" stroke-linejoin="round" stroke-linecap="round" />
<path d="M378.90 338.76 L380.67 338.76 L382.44 338.76 L384.21 338.76 L385.99 338.76 L387.76 338.76 L389.53 338.76 L391.30 338.76 L393.07 338.76 L394.84 338.76 L396.61 338.75 L398.38 338.75 L400.16 338.75 L401.93 338.75 L403.70 338.75 L405.47 338.75 L407.24 338.75 L409.01 338.74 L410.78 338.74 L412.55 338.74 L414.33 338.74 L416.10 338.74 L417.87 338.73 L419.64 338.73 L421.41 338.73 L423.18 338.72 L424.95 338.72 L426.73 338.72 L428.50 338.71 L430.27 338.71 L432.04 338.70 L433.81 338.70 L435.58 338.69 L437.35 338.68 L439.12 338.68 L440.90 338.67 L442.67 338.66 L444.44 338.65 L446.21 338.64 L447.98 338.63 L449.75 338.62 L451.52 338.61 L453.30 338.60 L455.07 338.58 L456.84 338.57 L458.61 338.55 L460.38 338.53 L462.15 338.51 L463.92 338.49 L465.69 338.47 L467.47 338.44 L469.24 338.41 L471.01 338.38 L472.78 338.35 L474.55 338.32 L476.32 338.28 L478.09 338.24 L479.86 338.20 L481.64 338.15 L483.41 338.11 L485.18 338.05 L486.95 337.99 L488.72 337.93 L490.49 337.87 L492.26 337.80 L494.04 337.72 L495.81 337.64 L497.58 337.55 L499.35 337.46 L501.12 337.36 L502.89 337.26 L504.66 337.15 L506.43 337.03 L508.21 336.90 L509.98 336.77 L511.75 336.63 L513.52 336.48 L515.29 336.33 L517.06 336.17 L518.83 335.99 L520.61 335.82 L522.38 335.63 L524.15 335.44 L525.92 335.24 L527.69 335.03 L529.46 334.82 L531.23 334.60 L533.00 334.37 L534.78 334.14 L536.55 333.91 L538.32 333.67 L540.09 333.43 L541.86 333.18 L543.63 332.94 L545.40 332.69 L547.17 332.45 L548.95 332.21 L550.72 331.96 L552.49 331.73 L554.26 331.49 L556.03 331.26 L557.80 331.03 L559.57 330.81 L561.35 330.60 L563.12 330.39 L564.89 330.19 L566.66 329.99 L568.43 329.80 L570.20 329.62 L571.97 329.45 L573.74 329.29 L575.52 329.13 L577.29 328.98 L579.06 328.84 L580.83 328.70 L582.60 328.58 L584.37 328.46 L586.14 328.34 L587.91 328.24 L589.69 328.14 L591.46 328.04 L593.23 327.96 L595.00 327.87 L596.77 327.80 L598.54 327.73 L600.31 327.66 L602.09 327.60 L603.86 327.54 L605.63 327.48 L607.40 327.43 L609.17 327.39 L610.94 327.34 L612.71 327.30 L614.48 327.27 L616.26 327.23 L618.03 327.20 L619.80 327.17 L621.57 327.14 L623.34 327.12 L625.11 327.09 L626.88 327.07 L628.66 327.05 L630.43 327.03 L632.20 327.02 L633.97 327.00 L635.74 326.99 L637.51 326.97 L639.28 326.96 L641.05 326.95 L642.83 326.94 L644.60 326.93 L646.37 326.92 L648.14 326.91 L649.91 326.90 L651.68 326.90 L653.45 326.89 L655.22 326.88 L657.00 326.88 L658.77 326.87 L660.54 326.87 L662.31 326.86" fill="none" stroke="#ed7d31" stroke-width="1.45" stroke-linejoin="round" stroke-linecap="round" />
<path d="M378.90 338.76 L380.67 338.76 L382.44 338.76 L384.21 338.76 L385.99 338.76 L387.76 338.76 L389.53 338.76 L391.30 338.76 L393.07 338.76 L394.84 338.76 L396.61 338.76 L398.38 338.76 L400.16 338.76 L401.93 338.76 L403.70 338.76 L405.47 338.75 L407.24 338.75 L409.01 338.75 L410.78 338.75 L412.55 338.75 L414.33 338.75 L416.10 338.75 L417.87 338.74 L419.64 338.74 L421.41 338.74 L423.18 338.74 L424.95 338.74 L426.73 338.73 L428.50 338.73 L430.27 338.73 L432.04 338.72 L433.81 338.72 L435.58 338.72 L437.35 338.71 L439.12 338.71 L440.90 338.70 L442.67 338.70 L444.44 338.69 L446.21 338.68 L447.98 338.68 L449.75 338.67 L451.52 338.66 L453.30 338.65 L455.07 338.64 L456.84 338.63 L458.61 338.62 L460.38 338.61 L462.15 338.60 L463.92 338.58 L465.69 338.57 L467.47 338.55 L469.24 338.53 L471.01 338.51 L472.78 338.49 L474.55 338.47 L476.32 338.45 L478.09 338.42 L479.86 338.39 L481.64 338.36 L483.41 338.33 L485.18 338.29 L486.95 338.26 L488.72 338.21 L490.49 338.17 L492.26 338.12 L494.04 338.07 L495.81 338.02 L497.58 337.96 L499.35 337.90 L501.12 337.84 L502.89 337.77 L504.66 337.69 L506.43 337.61 L508.21 337.53 L509.98 337.44 L511.75 337.35 L513.52 337.25 L515.29 337.15 L517.06 337.04 L518.83 336.93 L520.61 336.81 L522.38 336.69 L524.15 336.56 L525.92 336.43 L527.69 336.29 L529.46 336.15 L531.23 336.00 L533.00 335.85 L534.78 335.70 L536.55 335.54 L538.32 335.39 L540.09 335.23 L541.86 335.06 L543.63 334.90 L545.40 334.74 L547.17 334.58 L548.95 334.42 L550.72 334.26 L552.49 334.10 L554.26 333.94 L556.03 333.79 L557.80 333.64 L559.57 333.49 L561.35 333.35 L563.12 333.21 L564.89 333.08 L566.66 332.95 L568.43 332.82 L570.20 332.70 L571.97 332.59 L573.74 332.48 L575.52 332.38 L577.29 332.28 L579.06 332.18 L580.83 332.09 L582.60 332.01 L584.37 331.93 L586.14 331.86 L587.91 331.79 L589.69 331.72 L591.46 331.66 L593.23 331.60 L595.00 331.54 L596.77 331.49 L598.54 331.45 L600.31 331.40 L602.09 331.36 L603.86 331.32 L605.63 331.29 L607.40 331.25 L609.17 331.22 L610.94 331.19 L612.71 331.17 L614.48 331.14 L616.26 331.12 L618.03 331.10 L619.80 331.08 L621.57 331.06 L623.34 331.04 L625.11 331.03 L626.88 331.01 L628.66 331.00 L630.43 330.99 L632.20 330.98 L633.97 330.96 L635.74 330.96 L637.51 330.95 L639.28 330.94 L641.05 330.93 L642.83 330.92 L644.60 330.92 L646.37 330.91 L648.14 330.91 L649.91 330.90 L651.68 330.90 L653.45 330.89 L655.22 330.89 L657.00 330.88 L658.77 330.88 L660.54 330.88 L662.31 330.87" fill="none" stroke="#ffc000" stroke-width="1.45" stroke-linejoin="round" stroke-linecap="round" />
<path d="M378.90 338.76 L380.67 338.76 L382.44 338.76 L384.21 338.76 L385.99 338.76 L387.76 338.76 L389.53 338.76 L391.30 338.76 L393.07 338.76 L394.84 338.76 L396.61 338.76 L398.38 338.76 L400.16 338.76 L401.93 338.76 L403.70 338.76 L405.47 338.76 L407.24 338.76 L409.01 338.76 L410.78 338.75 L412.55 338.75 L414.33 338.75 L416.10 338.75 L417.87 338.75 L419.64 338.75 L421.41 338.75 L423.18 338.75 L424.95 338.74 L426.73 338.74 L428.50 338.74 L430.27 338.74 L432.04 338.73 L433.81 338.73 L435.58 338.73 L437.35 338.72 L439.12 338.72 L440.90 338.72 L442.67 338.71 L444.44 338.71 L446.21 338.70 L447.98 338.70 L449.75 338.69 L451.52 338.69 L453.30 338.68 L455.07 338.67 L456.84 338.66 L458.61 338.65 L460.38 338.65 L462.15 338.64 L463.92 338.62 L465.69 338.61 L467.47 338.60 L469.24 338.59 L471.01 338.57 L472.78 338.55 L474.55 338.54 L476.32 338.52 L478.09 338.50 L479.86 338.48 L481.64 338.45 L483.41 338.43 L485.18 338.40 L486.95 338.37 L488.72 338.34 L490.49 338.31 L492.26 338.27 L494.04 338.23 L495.81 338.19 L497.58 338.14 L499.35 338.10 L501.12 338.05 L502.89 337.99 L504.66 337.94 L506.43 337.87 L508.21 337.81 L509.98 337.74 L511.75 337.67 L513.52 337.59 L515.29 337.51 L517.06 337.43 L518.83 337.34 L520.61 337.25 L522.38 337.16 L524.15 337.06 L525.92 336.95 L527.69 336.85 L529.46 336.74 L531.23 336.62 L533.00 336.51 L534.78 336.39 L536.55 336.27 L538.32 336.15 L540.09 336.02 L541.86 335.90 L543.63 335.77 L545.40 335.65 L547.17 335.52 L548.95 335.40 L550.72 335.27 L552.49 335.15 L554.26 335.03 L556.03 334.91 L557.80 334.80 L559.57 334.68 L561.35 334.57 L563.12 334.46 L564.89 334.36 L566.66 334.26 L568.43 334.16 L570.20 334.07 L571.97 333.98 L573.74 333.90 L575.52 333.82 L577.29 333.74 L579.06 333.67 L580.83 333.60 L582.60 333.53 L584.37 333.47 L586.14 333.41 L587.91 333.36 L589.69 333.31 L591.46 333.26 L593.23 333.22 L595.00 333.17 L596.77 333.13 L598.54 333.10 L600.31 333.06 L602.09 333.03 L603.86 333.00 L605.63 332.97 L607.40 332.95 L609.17 332.92 L610.94 332.90 L612.71 332.88 L614.48 332.86 L616.26 332.84 L618.03 332.83 L619.80 332.81 L621.57 332.80 L623.34 332.78 L625.11 332.77 L626.88 332.76 L628.66 332.75 L630.43 332.74 L632.20 332.73 L633.97 332.72 L635.74 332.72 L637.51 332.71 L639.28 332.70 L641.05 332.70 L642.83 332.69 L644.60 332.69 L646.37 332.68 L648.14 332.68 L649.91 332.67 L651.68 332.67 L653.45 332.67 L655.22 332.66 L657.00 332.66 L658.77 332.66 L660.54 332.66 L662.31 332.65" fill="none" stroke="#5b9bd5" stroke-width="1.45" stroke-linejoin="round" stroke-linecap="round" />
<path d="M378.90 338.77 L380.67 338.77 L382.44 338.77 L384.21 338.77 L385.99 338.77 L387.76 338.77 L389.53 338.77 L391.30 338.77 L393.07 338.77 L394.84 338.76 L396.61 338.76 L398.38 338.76 L400.16 338.76 L401.93 338.76 L403.70 338.76 L405.47 338.76 L407.24 338.76 L409.01 338.76 L410.78 338.76 L412.55 338.76 L414.33 338.76 L416.10 338.76 L417.87 338.76 L419.64 338.76 L421.41 338.76 L423.18 338.76 L424.95 338.76 L426.73 338.76 L428.50 338.76 L430.27 338.76 L432.04 338.75 L433.81 338.75 L435.58 338.75 L437.35 338.75 L439.12 338.75 L440.90 338.75 L442.67 338.75 L444.44 338.74 L446.21 338.74 L447.98 338.74 L449.75 338.74 L451.52 338.74 L453.30 338.73 L455.07 338.73 L456.84 338.73 L458.61 338.72 L460.38 338.72 L462.15 338.72 L463.92 338.71 L465.69 338.71 L467.47 338.70 L469.24 338.70 L471.01 338.69 L472.78 338.69 L474.55 338.68 L476.32 338.67 L478.09 338.67 L479.86 338.66 L481.64 338.65 L483.41 338.64 L485.18 338.63 L486.95 338.62 L488.72 338.60 L490.49 338.59 L492.26 338.58 L494.04 338.56 L495.81 338.55 L497.58 338.53 L499.35 338.51 L501.12 338.49 L502.89 338.47 L504.66 338.45 L506.43 338.43 L508.21 338.40 L509.98 338.38 L511.75 338.35 L513.52 338.32 L515.29 338.29 L517.06 338.26 L518.83 338.23 L520.61 338.19 L522.38 338.16 L524.15 338.12 L525.92 338.08 L527.69 338.04 L529.46 338.00 L531.23 337.96 L533.00 337.91 L534.78 337.87 L536.55 337.82 L538.32 337.77 L540.09 337.73 L541.86 337.68 L543.63 337.63 L545.40 337.59 L547.17 337.54 L548.95 337.49 L550.72 337.44 L552.49 337.40 L554.26 337.35 L556.03 337.31 L557.80 337.26 L559.57 337.22 L561.35 337.18 L563.12 337.14 L564.89 337.10 L566.66 337.06 L568.43 337.02 L570.20 336.99 L571.97 336.95 L573.74 336.92 L575.52 336.89 L577.29 336.86 L579.06 336.83 L580.83 336.81 L582.60 336.78 L584.37 336.76 L586.14 336.74 L587.91 336.72 L589.69 336.70 L591.46 336.68 L593.23 336.66 L595.00 336.65 L596.77 336.63 L598.54 336.62 L600.31 336.61 L602.09 336.59 L603.86 336.58 L605.63 336.57 L607.40 336.56 L609.17 336.55 L610.94 336.54 L612.71 336.54 L614.48 336.53 L616.26 336.52 L618.03 336.52 L619.80 336.51 L621.57 336.51 L623.34 336.50 L625.11 336.50 L626.88 336.49 L628.66 336.49 L630.43 336.48 L632.20 336.48 L633.97 336.48 L635.74 336.47 L637.51 336.47 L639.28 336.47 L641.05 336.47 L642.83 336.47 L644.60 336.46 L646.37 336.46 L648.14 336.46 L649.91 336.46 L651.68 336.46 L653.45 336.46 L655.22 336.45 L657.00 336.45 L658.77 336.45 L660.54 336.45 L662.31 336.45" fill="none" stroke="#70ad47" stroke-width="1.45" stroke-linejoin="round" stroke-linecap="round" />
<rect x="591.93" y="258.05" width="18.55" height="4.7" fill="#fff" transform="rotate(-12 601.2 260.4)"/>
<rect x="601.53" y="298.35" width="18.55" height="4.7" fill="#fff"/>
<rect x="601.53" y="309.55" width="18.55" height="4.7" fill="#fff"/>
<rect x="601.53" y="318.45" width="18.55" height="4.7" fill="#fff"/>
<rect x="601.53" y="323.75" width="18.55" height="4.7" fill="#fff"/>
<rect x="601.53" y="328.45" width="18.55" height="4.7" fill="#fff"/>
<rect x="620.83" y="330.55" width="18.55" height="4.7" fill="#fff"/>
<rect x="601.53" y="334.55" width="18.55" height="4.7" fill="#fff"/>
<text x="601.2" y="262.42" font-size="5.6" text-anchor="middle" fill="#1e1e1e" stroke="#1e1e1e" stroke-width="0.15" transform="rotate(-12 601.2 260.4)">100 Pa</text>
<text x="610.8" y="302.72" font-size="5.6" text-anchor="middle" fill="#1e1e1e" stroke="#1e1e1e" stroke-width="0.15">200 Pa</text>
<text x="610.8" y="313.92" font-size="5.6" text-anchor="middle" fill="#1e1e1e" stroke="#1e1e1e" stroke-width="0.15">300 Pa</text>
<text x="610.8" y="322.82" font-size="5.6" text-anchor="middle" fill="#1e1e1e" stroke="#1e1e1e" stroke-width="0.15">400 Pa</text>
<text x="610.8" y="328.12" font-size="5.6" text-anchor="middle" fill="#1e1e1e" stroke="#1e1e1e" stroke-width="0.15">500 Pa</text>
<text x="610.8" y="332.82" font-size="5.6" text-anchor="middle" fill="#1e1e1e" stroke="#1e1e1e" stroke-width="0.15">600 Pa</text>
<text x="630.1" y="334.92" font-size="5.6" text-anchor="middle" fill="#1e1e1e" stroke="#1e1e1e" stroke-width="0.15">700 Pa</text>
<text x="610.8" y="338.92" font-size="5.6" text-anchor="middle" fill="#1e1e1e" stroke="#1e1e1e" stroke-width="0.15">800 Pa</text>
<rect x="420.5" y="335.3" width="43.6" height="5.2" rx="1.2" fill="url(#boxg)" stroke="#2a2a2a" stroke-width="0.9"/>
<path d="M426.9 347.6 V343.9" stroke="#111" stroke-width="0.9"/>
<path d="M425.3 344.4 L426.9 341.2 L428.5 344.4Z" fill="#111"/>
<path d="M420.8 334.6 C414 334.4 411.8 333.6 411.7 330.5" fill="none" stroke="#444" stroke-width="0.7"/>
<path d="M410.3 331.6 L411.7 328.9 L413.1 331.6" fill="none" stroke="#444" stroke-width="0.7"/>
<clipPath id="clip4"><rect x="400.3" y="275.4" width="77.1" height="51.2"/></clipPath>
<rect x="400.3" y="275.4" width="77.1" height="51.2" fill="#fff"/>
<line x1="423.51" y1="275.4" x2="423.51" y2="326.6" stroke="#e6e6e6" stroke-width="0.7"/>
<line x1="437.09" y1="275.4" x2="437.09" y2="326.6" stroke="#e6e6e6" stroke-width="0.7"/>
<line x1="446.72" y1="275.4" x2="446.72" y2="326.6" stroke="#e6e6e6" stroke-width="0.7"/>
<line x1="454.19" y1="275.4" x2="454.19" y2="326.6" stroke="#e6e6e6" stroke-width="0.7"/>
<line x1="460.3" y1="275.4" x2="460.3" y2="326.6" stroke="#e6e6e6" stroke-width="0.7"/>
<line x1="465.46" y1="275.4" x2="465.46" y2="326.6" stroke="#e6e6e6" stroke-width="0.7"/>
<line x1="469.93" y1="275.4" x2="469.93" y2="326.6" stroke="#e6e6e6" stroke-width="0.7"/>
<line x1="473.87" y1="275.4" x2="473.87" y2="326.6" stroke="#e6e6e6" stroke-width="0.7"/>
<line x1="400.3" y1="318.07" x2="477.4" y2="318.07" stroke="#e6e6e6" stroke-width="0.7"/>
<line x1="400.3" y1="309.53" x2="477.4" y2="309.53" stroke="#e6e6e6" stroke-width="0.7"/>
<line x1="400.3" y1="301" x2="477.4" y2="301" stroke="#e6e6e6" stroke-width="0.7"/>
<line x1="400.3" y1="292.47" x2="477.4" y2="292.47" stroke="#e6e6e6" stroke-width="0.7"/>
<line x1="400.3" y1="283.93" x2="477.4" y2="283.93" stroke="#e6e6e6" stroke-width="0.7"/>
<path d="M400.3 318.07h1.5 M400.3 309.53h1.5 M400.3 301h1.5 M400.3 292.47h1.5 M400.3 283.93h1.5 M423.51 326.6v-1.5 M437.09 326.6v-1.5 M446.72 326.6v-1.5 M454.19 326.6v-1.5 M460.3 326.6v-1.5 M465.46 326.6v-1.5 M469.93 326.6v-1.5 M473.87 326.6v-1.5" stroke="#444" stroke-width="0.6" fill="none"/>
<text x="398.3" y="277.52" font-size="5.9" text-anchor="end" fill="#1a1a1a" stroke="#1a1a1a" stroke-width="0.12">1.2</text>
<text x="398.3" y="286.06" font-size="5.9" text-anchor="end" fill="#1a1a1a" stroke="#1a1a1a" stroke-width="0.12">1.0</text>
<text x="398.3" y="294.59" font-size="5.9" text-anchor="end" fill="#1a1a1a" stroke="#1a1a1a" stroke-width="0.12">0.8</text>
<text x="398.3" y="303.12" font-size="5.9" text-anchor="end" fill="#1a1a1a" stroke="#1a1a1a" stroke-width="0.12">0.6</text>
<text x="398.3" y="311.66" font-size="5.9" text-anchor="end" fill="#1a1a1a" stroke="#1a1a1a" stroke-width="0.12">0.4</text>
<text x="398.3" y="320.19" font-size="5.9" text-anchor="end" fill="#1a1a1a" stroke="#1a1a1a" stroke-width="0.12">0.2</text>
<text x="398.3" y="328.72" font-size="5.9" text-anchor="end" fill="#1a1a1a" stroke="#1a1a1a" stroke-width="0.12">0.0</text>
<text x="400.3" y="333.42" font-size="5.9" text-anchor="middle" fill="#1a1a1a" stroke="#1a1a1a" stroke-width="0.12">0.1</text>
<text x="477.4" y="333.42" font-size="5.9" text-anchor="middle" fill="#1a1a1a" stroke="#1a1a1a" stroke-width="0.12">1</text>
<g clip-path="url(#clip4)">
<path d="M400.30 302.83 L401.59 302.62 L402.87 302.40 L404.16 302.18 L405.44 301.95 L406.73 301.72 L408.01 301.48 L409.30 301.25 L410.58 301.00 L411.87 300.76 L413.15 300.51 L414.44 300.25 L415.72 299.99 L417.00 299.73 L418.29 299.47 L419.57 299.20 L420.86 298.93 L422.14 298.65 L423.43 298.38 L424.71 298.09 L426.00 297.81 L427.28 297.52 L428.57 297.23 L429.86 296.94 L431.14 296.64 L432.43 296.35 L433.71 296.04 L435.00 295.74 L436.28 295.43 L437.56 295.12 L438.85 294.81 L440.13 294.50 L441.42 294.18 L442.70 293.85 L443.99 293.52 L445.27 293.19 L446.56 292.85 L447.84 292.51 L449.13 292.16 L450.41 291.81 L451.70 291.45 L452.99 291.09 L454.27 290.73 L455.56 290.36 L456.84 289.98 L458.12 289.61 L459.41 289.22 L460.69 288.84 L461.98 288.45 L463.26 288.06 L464.55 287.66 L465.83 287.26 L467.12 286.86 L468.40 286.45 L469.69 286.04 L470.97 285.63 L472.26 285.21 L473.54 284.79 L474.83 284.36 L476.12 283.94 L477.40 283.51" fill="none" stroke="#a2a2a2" stroke-width="1.45" stroke-linejoin="round" stroke-linecap="round" />
</g>
<g clip-path="url(#clip4)">
<path d="M400.30 305.52 L401.59 305.34 L402.87 305.15 L404.16 304.96 L405.44 304.77 L406.73 304.58 L408.01 304.39 L409.30 304.20 L410.58 304.00 L411.87 303.80 L413.15 303.60 L414.44 303.40 L415.72 303.20 L417.00 302.99 L418.29 302.79 L419.57 302.58 L420.86 302.37 L422.14 302.16 L423.43 301.95 L424.71 301.73 L426.00 301.52 L427.28 301.30 L428.57 301.09 L429.86 300.87 L431.14 300.65 L432.43 300.42 L433.71 300.20 L435.00 299.98 L436.28 299.75 L437.56 299.52 L438.85 299.29 L440.13 299.06 L441.42 298.83 L442.70 298.60 L443.99 298.36 L445.27 298.12 L446.56 297.88 L447.84 297.64 L449.13 297.40 L450.41 297.15 L451.70 296.91 L452.99 296.66 L454.27 296.41 L455.56 296.15 L456.84 295.90 L458.12 295.64 L459.41 295.39 L460.69 295.13 L461.98 294.87 L463.26 294.60 L464.55 294.34 L465.83 294.07 L467.12 293.81 L468.40 293.54 L469.69 293.27 L470.97 293.00 L472.26 292.72 L473.54 292.45 L474.83 292.17 L476.12 291.89 L477.40 291.61" fill="none" stroke="#4a72c0" stroke-width="1.45" stroke-linejoin="round" stroke-linecap="round" />
</g>
<g clip-path="url(#clip4)">
<path d="M400.30 308.68 L401.59 308.51 L402.87 308.34 L404.16 308.17 L405.44 308.00 L406.73 307.83 L408.01 307.66 L409.30 307.49 L410.58 307.31 L411.87 307.14 L413.15 306.97 L414.44 306.80 L415.72 306.63 L417.00 306.46 L418.29 306.29 L419.57 306.12 L420.86 305.95 L422.14 305.78 L423.43 305.61 L424.71 305.44 L426.00 305.27 L427.28 305.10 L428.57 304.93 L429.86 304.75 L431.14 304.58 L432.43 304.41 L433.71 304.24 L435.00 304.07 L436.28 303.90 L437.56 303.73 L438.85 303.56 L440.13 303.39 L441.42 303.22 L442.70 303.05 L443.99 302.88 L445.27 302.71 L446.56 302.54 L447.84 302.37 L449.13 302.19 L450.41 302.02 L451.70 301.85 L452.99 301.68 L454.27 301.51 L455.56 301.34 L456.84 301.17 L458.12 301.00 L459.41 300.83 L460.69 300.66 L461.98 300.49 L463.26 300.32 L464.55 300.15 L465.83 299.98 L467.12 299.81 L468.40 299.63 L469.69 299.46 L470.97 299.29 L472.26 299.12 L473.54 298.95 L474.83 298.78 L476.12 298.61 L477.40 298.44" fill="none" stroke="#ed7d31" stroke-width="1.45" stroke-linejoin="round" stroke-linecap="round" />
</g>
<path d="M411.6 296.33 L413.5 298.23 L411.6 300.13 L409.7 298.23Z" fill="#e6e6e6" stroke="#222" stroke-width="0.8"/>
<path d="M411.6 301.4 L413.5 303.3 L411.6 305.2 L409.7 303.3Z" fill="#4a72c0" stroke="#222" stroke-width="0.8"/>
<path d="M411.6 304.9 L413.5 306.8 L411.6 308.7 L409.7 306.8Z" fill="#ed7d31" stroke="#222" stroke-width="0.8"/>
<rect x="444.96" y="289.02" width="17.28" height="4.37" fill="#fff" transform="rotate(-12 453.6 291.2)"/>
<rect x="447.16" y="295.22" width="17.28" height="4.37" fill="#fff" transform="rotate(-8 455.8 297.4)"/>
<rect x="447.86" y="299.92" width="17.28" height="4.37" fill="#fff" transform="rotate(-7 456.5 302.1)"/>
<text x="453.6" y="293.07" font-size="5.2" text-anchor="middle" fill="#1e1e1e" stroke="#1e1e1e" stroke-width="0.08" transform="rotate(-12 453.6 291.2)">245 Pa</text>
<text x="455.8" y="299.27" font-size="5.2" text-anchor="middle" fill="#1e1e1e" stroke="#1e1e1e" stroke-width="0.08" transform="rotate(-8 455.8 297.4)">389 Pa</text>
<text x="456.5" y="303.97" font-size="5.2" text-anchor="middle" fill="#1e1e1e" stroke="#1e1e1e" stroke-width="0.08" transform="rotate(-7 456.5 302.1)">561 Pa</text>
<rect x="400.3" y="275.4" width="77.1" height="51.2" fill="none" stroke="#2b2b2b" stroke-width="1.3"/>
<defs><linearGradient id="slD" x1="0" x2="1"><stop offset="0" stop-color="#c2c2c2"/><stop offset="0.08" stop-color="#cacaca"/><stop offset="0.12" stop-color="#f4f4f4"/><stop offset="0.2" stop-color="#e2e2e2"/><stop offset="0.24" stop-color="#c8c8c8"/><stop offset="1" stop-color="#c6c6c6"/></linearGradient>
<linearGradient id="slDw" x1="0" x2="0" y1="0" y2="1"><stop offset="0" stop-color="#cdf1fa"/><stop offset="0.55" stop-color="#a6e2f2"/><stop offset="1" stop-color="#6cc8e6"/></linearGradient></defs>
<path d="M394.6 219 V243 A21.6 10.5 0 0 0 437.8 243.5 V225 C437 223.5 435.5 222.5 433.8 222.2 L395.7 213.9 C395 215 394.6 217 394.6 219Z" fill="url(#slD)" stroke="#333" stroke-width="0.7"/>
<path d="M395.7 213.9 L433.8 222.2 L426 223.5 C421 228 413 230.4 405 229.8 C398 229 394.6 225 394.6 220 C394.6 217 395 215 395.7 213.9Z" fill="#f3f3f3" stroke="#333" stroke-width="0.55"/>
<path d="M395.7 213.6 C400 210.5 406 209 411.3 209 C420 209.2 428 213 434.5 220.8 L433.8 222.2Z" fill="url(#slDw)" stroke="#333" stroke-width="0.7"/>
<path d="M396.5 213.8 L433.5 222 L433 220 C424 217.2 409 213.4 398 212.7Z" fill="#4cb9de"/>
<path d="M407 211.7 L407.5 216.2 M411 211 L412 213.6 M414 211.4 L415 214.2 M417 211.9 L418 214.8 M420 212.6 L421 215.5 M423 213.4 L424 216.2 M426 214.4 L427 217" stroke="#3d6f80" stroke-width="0.4"/>
<path d="M395.7 213.9 L433.8 222.2" stroke="#333" stroke-width="0.6"/>
<text x="433.5" y="209.6" font-size="11.8" fill="#2a2a2a">(d)</text>
<line x1="98.7" y1="389.8" x2="98.7" y2="551.5" stroke="#ebebeb" stroke-width="0.8"/>
<line x1="136.14" y1="389.8" x2="136.14" y2="551.5" stroke="#ebebeb" stroke-width="0.8"/>
<line x1="162.7" y1="389.8" x2="162.7" y2="551.5" stroke="#ebebeb" stroke-width="0.8"/>
<line x1="183.3" y1="389.8" x2="183.3" y2="551.5" stroke="#ebebeb" stroke-width="0.8"/>
<line x1="200.13" y1="389.8" x2="200.13" y2="551.5" stroke="#ebebeb" stroke-width="0.8"/>
<line x1="214.37" y1="389.8" x2="214.37" y2="551.5" stroke="#ebebeb" stroke-width="0.8"/>
<line x1="226.7" y1="389.8" x2="226.7" y2="551.5" stroke="#ebebeb" stroke-width="0.8"/>
<line x1="237.57" y1="389.8" x2="237.57" y2="551.5" stroke="#ebebeb" stroke-width="0.8"/>
<line x1="247.3" y1="389.8" x2="247.3" y2="551.5" stroke="#ebebeb" stroke-width="0.8"/>
<line x1="311.3" y1="389.8" x2="311.3" y2="551.5" stroke="#ebebeb" stroke-width="0.8"/>
<line x1="348.74" y1="389.8" x2="348.74" y2="551.5" stroke="#ebebeb" stroke-width="0.8"/>
<line x1="375.3" y1="389.8" x2="375.3" y2="551.5" stroke="#ebebeb" stroke-width="0.8"/>
<line x1="395.9" y1="389.8" x2="395.9" y2="551.5" stroke="#ebebeb" stroke-width="0.8"/>
<line x1="412.73" y1="389.8" x2="412.73" y2="551.5" stroke="#ebebeb" stroke-width="0.8"/>
<line x1="426.97" y1="389.8" x2="426.97" y2="551.5" stroke="#ebebeb" stroke-width="0.8"/>
<line x1="439.3" y1="389.8" x2="439.3" y2="551.5" stroke="#ebebeb" stroke-width="0.8"/>
<line x1="450.17" y1="389.8" x2="450.17" y2="551.5" stroke="#ebebeb" stroke-width="0.8"/>
<line x1="459.9" y1="389.8" x2="459.9" y2="551.5" stroke="#ebebeb" stroke-width="0.8"/>
<line x1="523.9" y1="389.8" x2="523.9" y2="551.5" stroke="#ebebeb" stroke-width="0.8"/>
<line x1="561.34" y1="389.8" x2="561.34" y2="551.5" stroke="#ebebeb" stroke-width="0.8"/>
<line x1="587.9" y1="389.8" x2="587.9" y2="551.5" stroke="#ebebeb" stroke-width="0.8"/>
<line x1="608.5" y1="389.8" x2="608.5" y2="551.5" stroke="#ebebeb" stroke-width="0.8"/>
<line x1="625.33" y1="389.8" x2="625.33" y2="551.5" stroke="#ebebeb" stroke-width="0.8"/>
<line x1="639.57" y1="389.8" x2="639.57" y2="551.5" stroke="#ebebeb" stroke-width="0.8"/>
<line x1="651.9" y1="389.8" x2="651.9" y2="551.5" stroke="#ebebeb" stroke-width="0.8"/>
<line x1="662.77" y1="389.8" x2="662.77" y2="551.5" stroke="#ebebeb" stroke-width="0.8"/>
<line x1="672.5" y1="389.8" x2="672.5" y2="551.5" stroke="#ebebeb" stroke-width="0.8"/>
<line x1="34.7" y1="524.55" x2="300" y2="524.55" stroke="#ebebeb" stroke-width="0.8"/>
<line x1="34.7" y1="497.6" x2="672.5" y2="497.6" stroke="#ebebeb" stroke-width="0.8"/>
<line x1="34.7" y1="470.65" x2="672.5" y2="470.65" stroke="#ebebeb" stroke-width="0.8"/>
<line x1="34.7" y1="443.7" x2="672.5" y2="443.7" stroke="#ebebeb" stroke-width="0.8"/>
<line x1="34.7" y1="416.75" x2="672.5" y2="416.75" stroke="#ebebeb" stroke-width="0.8"/>
<line x1="34.7" y1="389.8" x2="672.5" y2="389.8" stroke="#ebebeb" stroke-width="0.8"/>
<path d="M34.7 389.8 V551.5 H672.5" fill="none" stroke="#444" stroke-width="1.2"/>
<path d="M34.7 524.55h3 M34.7 497.6h3 M34.7 470.65h3 M34.7 443.7h3 M34.7 416.75h3 M34.7 389.8h3 M98.7 551.5v-2.5 M136.14 551.5v-2.5 M162.7 551.5v-2.5 M183.3 551.5v-2.5 M200.13 551.5v-2.5 M214.37 551.5v-2.5 M226.7 551.5v-2.5 M237.57 551.5v-2.5 M247.3 551.5v-2.5 M311.3 551.5v-2.5 M348.74 551.5v-2.5 M375.3 551.5v-2.5 M395.9 551.5v-2.5 M412.73 551.5v-2.5 M426.97 551.5v-2.5 M439.3 551.5v-2.5 M450.17 551.5v-2.5 M459.9 551.5v-2.5 M523.9 551.5v-2.5 M561.34 551.5v-2.5 M587.9 551.5v-2.5 M608.5 551.5v-2.5 M625.33 551.5v-2.5 M639.57 551.5v-2.5 M651.9 551.5v-2.5 M662.77 551.5v-2.5 M672.5 551.5v-2.5" fill="none" stroke="#444" stroke-width="0.9"/>
<text x="24.8" y="554.8" font-size="9.2" text-anchor="end" fill="#222222" stroke="#222222" stroke-width="0.15">0</text>
<text x="24.8" y="527.85" font-size="9.2" text-anchor="end" fill="#222222" stroke="#222222" stroke-width="0.15">1</text>
<text x="24.8" y="500.9" font-size="9.2" text-anchor="end" fill="#222222" stroke="#222222" stroke-width="0.15">2</text>
<text x="24.8" y="473.95" font-size="9.2" text-anchor="end" fill="#222222" stroke="#222222" stroke-width="0.15">3</text>
<text x="24.8" y="447" font-size="9.2" text-anchor="end" fill="#222222" stroke="#222222" stroke-width="0.15">4</text>
<text x="24.8" y="420.05" font-size="9.2" text-anchor="end" fill="#222222" stroke="#222222" stroke-width="0.15">5</text>
<text x="24.8" y="393.1" font-size="9.2" text-anchor="end" fill="#222222" stroke="#222222" stroke-width="0.15">6</text>
<text x="26.4" y="566.9" font-size="8.6" fill="#222222" stroke="#222222" stroke-width="0.12">10</text>
<text x="36.1" y="560.9" font-size="6.6" fill="#222222">-1</text>
<text x="239" y="566.9" font-size="8.6" fill="#222222" stroke="#222222" stroke-width="0.12">10</text>
<text x="248.7" y="560.9" font-size="6.6" fill="#222222">0</text>
<text x="451.6" y="566.9" font-size="8.6" fill="#222222" stroke="#222222" stroke-width="0.12">10</text>
<text x="461.3" y="560.9" font-size="6.6" fill="#222222">1</text>
<text x="664.2" y="566.9" font-size="8.6" fill="#222222" stroke="#222222" stroke-width="0.12">10</text>
<text x="673.9" y="560.9" font-size="6.6" fill="#222222">2</text>
<text transform="translate(12.1,465.5) rotate(-90)" font-size="9.0" text-anchor="middle" fill="#222222">Evaporation flux (g/m<tspan font-size="5.7" dy="-3.4">2</tspan><tspan dy="3.4">s)</tspan></text>
<text x="333.7" y="578.3" font-size="9.0" text-anchor="middle" fill="#222222" stroke="#222222" stroke-width="0.25">Thermal conductivity (W/ (m K))</text>
<text x="40.3" y="403.9" font-size="11.8" fill="#2a2a2a">(e)</text>
<path d="M34.70 536.49 L37.36 536.39 L40.02 536.28 L42.68 536.18 L45.34 536.07 L48.00 535.97 L50.66 535.86 L53.32 535.75 L55.98 535.64 L58.64 535.52 L61.30 535.41 L63.96 535.29 L66.62 535.17 L69.28 535.06 L71.94 534.94 L74.60 534.81 L77.26 534.69 L79.92 534.57 L82.58 534.44 L85.24 534.32 L87.90 534.19 L90.56 534.06 L93.22 533.93 L95.88 533.80 L98.54 533.67 L101.20 533.54 L103.86 533.40 L106.52 533.27 L109.18 533.13 L111.84 532.99 L114.50 532.85 L117.16 532.72 L119.82 532.57 L122.48 532.43 L125.14 532.29 L127.80 532.15 L130.46 532.00 L133.12 531.86 L135.78 531.71 L138.44 531.56 L141.10 531.42" fill="none" stroke="#b3b3b3" stroke-width="2.0" stroke-linejoin="round" stroke-linecap="round" />
<path d="M34.70 538.19 L37.36 538.10 L40.02 538.01 L42.68 537.92 L45.34 537.83 L48.00 537.74 L50.66 537.65 L53.32 537.56 L55.98 537.47 L58.64 537.38 L61.30 537.29 L63.96 537.19 L66.62 537.10 L69.28 537.00 L71.94 536.91 L74.60 536.81 L77.26 536.72 L79.92 536.62 L82.58 536.52 L85.24 536.42 L87.90 536.33 L90.56 536.23 L93.22 536.13 L95.88 536.03 L98.54 535.93 L101.20 535.83 L103.86 535.72 L106.52 535.62 L109.18 535.52 L111.84 535.42 L114.50 535.31 L117.16 535.21 L119.82 535.10 L122.48 535.00 L125.14 534.89 L127.80 534.79 L130.46 534.68 L133.12 534.57 L135.78 534.46 L138.44 534.36 L141.10 534.25" fill="none" stroke="#4a72c0" stroke-width="1.5" stroke-linejoin="round" stroke-linecap="round" />
<path d="M34.70 540.18 L37.36 540.10 L40.02 540.02 L42.68 539.94 L45.34 539.86 L48.00 539.78 L50.66 539.70 L53.32 539.61 L55.98 539.53 L58.64 539.45 L61.30 539.37 L63.96 539.29 L66.62 539.21 L69.28 539.13 L71.94 539.05 L74.60 538.97 L77.26 538.89 L79.92 538.81 L82.58 538.72 L85.24 538.64 L87.90 538.56 L90.56 538.48 L93.22 538.40 L95.88 538.32 L98.54 538.24 L101.20 538.16 L103.86 538.08 L106.52 538.00 L109.18 537.92 L111.84 537.83 L114.50 537.75 L117.16 537.67 L119.82 537.59 L122.48 537.51 L125.14 537.43 L127.80 537.35 L130.46 537.27 L133.12 537.19 L135.78 537.11 L138.44 537.02 L141.10 536.94" fill="none" stroke="#ed7d31" stroke-width="1.5" stroke-linejoin="round" stroke-linecap="round" />
<path d="M64 530.68 L66.9 533.58 L64 536.48 L61.1 533.58Z" fill="#aaaaaa" stroke="#888" stroke-width="0.6"/>
<path d="M64 533.89 L66.9 536.79 L64 539.69 L61.1 536.79Z" fill="#3d6cc0" stroke="#3d6cc0" stroke-width="0.6"/>
<path d="M64 536.1 L66.9 539 L64 541.9 L61.1 539Z" fill="#ed7d31" stroke="#d86a20" stroke-width="0.6"/>
<path d="M142.2 530.8 L146.2 526.4 M142.2 534.5 H146 M142.2 538.7 L146.5 543.2" stroke="#333" stroke-width="0.6"/>
<text transform="translate(146.9,525.7) scale(0.94,1)" font-size="7.5" text-anchor="start" fill="#1e1e1e" stroke="#1e1e1e" stroke-width="0.15">245 Pa</text>
<text transform="translate(146.9,536.5) scale(0.94,1)" font-size="7.5" text-anchor="start" fill="#1e1e1e" stroke="#1e1e1e" stroke-width="0.15">389 Pa</text>
<text transform="translate(146.9,546) scale(0.94,1)" font-size="7.5" text-anchor="start" fill="#1e1e1e" stroke="#1e1e1e" stroke-width="0.15">561 Pa</text>
<defs><linearGradient id="slE" x1="0" x2="1"><stop offset="0" stop-color="#c2c2c2"/><stop offset="0.08" stop-color="#cacaca"/><stop offset="0.12" stop-color="#f4f4f4"/><stop offset="0.2" stop-color="#e2e2e2"/><stop offset="0.24" stop-color="#c8c8c8"/><stop offset="1" stop-color="#c6c6c6"/></linearGradient>
<linearGradient id="slEw" x1="0" x2="0" y1="0" y2="1"><stop offset="0" stop-color="#cdf1fa"/><stop offset="0.55" stop-color="#a6e2f2"/><stop offset="1" stop-color="#6cc8e6"/></linearGradient></defs>
<path d="M48.6 489 V513 A21.6 10.5 0 0 0 91.8 513.5 V495 C91 493.5 89.5 492.5 87.8 492.2 L49.7 483.9 C49 485 48.6 487 48.6 489Z" fill="url(#slE)" stroke="#333" stroke-width="0.7"/>
<path d="M49.7 483.9 L87.8 492.2 L80 493.5 C75 498 67 500.4 59 499.8 C52 499 48.6 495 48.6 490 C48.6 487 49 485 49.7 483.9Z" fill="#f3f3f3" stroke="#333" stroke-width="0.55"/>
<path d="M49.7 483.6 C54 480.5 60 479 65.3 479 C74 479.2 82 483 88.5 490.8 L87.8 492.2Z" fill="url(#slEw)" stroke="#333" stroke-width="0.7"/>
<path d="M50.5 483.8 L87.5 492 L87 490 C78 487.2 63 483.4 52 482.7Z" fill="#4cb9de"/>
<path d="M61 481.7 L61.5 486.2 M65 481 L66 483.6 M68 481.4 L69 484.2 M71 481.9 L72 484.8 M74 482.6 L75 485.5 M77 483.4 L78 486.2 M80 484.4 L81 487" stroke="#3d6f80" stroke-width="0.4"/>
<path d="M49.7 483.9 L87.8 492.2" stroke="#333" stroke-width="0.6"/>
<path d="M247.30 542.61 L249.81 542.58 L252.33 542.56 L254.84 542.54 L257.36 542.51 L259.88 542.49 L262.39 542.46 L264.91 542.44 L267.42 542.41 L269.94 542.38 L272.45 542.35 L274.96 542.32 L277.48 542.29 L279.99 542.26 L282.51 542.23 L285.02 542.20 L287.54 542.16 L290.06 542.13 L292.57 542.09 L295.08 542.06 L297.60 542.02 L300.12 541.98 L302.63 541.94 L305.14 541.90 L307.66 541.86 L310.17 541.82 L312.69 541.77 L315.20 541.73 L317.72 541.68 L320.23 541.63 L322.75 541.58 L325.26 541.53 L327.78 541.48 L330.29 541.43 L332.81 541.37 L335.32 541.32 L337.84 541.26 L340.35 541.20 L342.87 541.14 L345.38 541.08 L347.90 541.01" fill="none" stroke="#b3b3b3" stroke-width="1.6" stroke-linejoin="round" stroke-linecap="round" />
<path d="M247.30 545.78 L249.81 545.77 L252.33 545.76 L254.84 545.75 L257.36 545.74 L259.88 545.73 L262.39 545.71 L264.91 545.70 L267.42 545.69 L269.94 545.67 L272.45 545.66 L274.96 545.65 L277.48 545.63 L279.99 545.62 L282.51 545.60 L285.02 545.59 L287.54 545.57 L290.06 545.56 L292.57 545.54 L295.08 545.52 L297.60 545.50 L300.12 545.49 L302.63 545.47 L305.14 545.45 L307.66 545.43 L310.17 545.41 L312.69 545.39 L315.20 545.37 L317.72 545.34 L320.23 545.32 L322.75 545.30 L325.26 545.27 L327.78 545.25 L330.29 545.22 L332.81 545.20 L335.32 545.17 L337.84 545.14 L340.35 545.12 L342.87 545.09 L345.38 545.06 L347.90 545.03" fill="none" stroke="#ed7d31" stroke-width="1.4" stroke-linejoin="round" stroke-linecap="round" />
<path d="M247.30 547.09 L249.81 547.08 L252.33 547.08 L254.84 547.07 L257.36 547.06 L259.88 547.06 L262.39 547.05 L264.91 547.04 L267.42 547.03 L269.94 547.03 L272.45 547.02 L274.96 547.01 L277.48 547.00 L279.99 546.99 L282.51 546.98 L285.02 546.97 L287.54 546.96 L290.06 546.95 L292.57 546.94 L295.08 546.93 L297.60 546.92 L300.12 546.91 L302.63 546.90 L305.14 546.89 L307.66 546.88 L310.17 546.86 L312.69 546.85 L315.20 546.84 L317.72 546.83 L320.23 546.81 L322.75 546.80 L325.26 546.78 L327.78 546.77 L330.29 546.75 L332.81 546.74 L335.32 546.72 L337.84 546.70 L340.35 546.69 L342.87 546.67 L345.38 546.65 L347.90 546.63" fill="none" stroke="#5b9bd5" stroke-width="1.4" stroke-linejoin="round" stroke-linecap="round" />
<path d="M247.30 548.25 L249.81 548.25 L252.33 548.25 L254.84 548.24 L257.36 548.24 L259.88 548.24 L262.39 548.24 L264.91 548.23 L267.42 548.23 L269.94 548.23 L272.45 548.22 L274.96 548.22 L277.48 548.22 L279.99 548.21 L282.51 548.21 L285.02 548.20 L287.54 548.20 L290.06 548.20 L292.57 548.19 L295.08 548.19 L297.60 548.18 L300.12 548.18 L302.63 548.18 L305.14 548.17 L307.66 548.17 L310.17 548.16 L312.69 548.16 L315.20 548.15 L317.72 548.14 L320.23 548.14 L322.75 548.13 L325.26 548.13 L327.78 548.12 L330.29 548.12 L332.81 548.11 L335.32 548.10 L337.84 548.10 L340.35 548.09 L342.87 548.08 L345.38 548.07 L347.90 548.07" fill="none" stroke="#70ad47" stroke-width="1.4" stroke-linejoin="round" stroke-linecap="round" />
<path d="M278.3 539.4 L280.8 541.9 L278.3 544.4 L275.8 541.9Z" fill="#aaaaaa" stroke="#777" stroke-width="0.6"/>
<path d="M278.3 541.7 L280.8 544.2 L278.3 546.7 L275.8 544.2Z" fill="#ed7d31" stroke="#d86a20" stroke-width="0.6"/>
<path d="M278.3 544.1 L280.8 546.6 L278.3 549.1 L275.8 546.6Z" fill="#70ad47" stroke="#4f8a30" stroke-width="0.6"/>
<path d="M238.8 523.2 L246.5 547.5 M238.8 531 L246.5 548 M238.8 538.8 L246.5 548.5 M238.8 545.5 L246.5 549" stroke="#333" stroke-width="0.5"/>
<text transform="translate(238.5,524.3) scale(0.94,1)" font-size="7.5" text-anchor="end" fill="#1e1e1e" stroke="#1e1e1e" stroke-width="0.15">303 Pa</text>
<text transform="translate(238.5,532.5) scale(0.94,1)" font-size="7.5" text-anchor="end" fill="#1e1e1e" stroke="#1e1e1e" stroke-width="0.15">545 Pa</text>
<text transform="translate(238.5,540.4) scale(0.94,1)" font-size="7.5" text-anchor="end" fill="#1e1e1e" stroke="#1e1e1e" stroke-width="0.15">673 Pa</text>
<text transform="translate(238.5,547.4) scale(0.94,1)" font-size="7.5" text-anchor="end" fill="#1e1e1e" stroke="#1e1e1e" stroke-width="0.15">815 Pa</text>
<defs><linearGradient id="cuE" x1="0" x2="1" y1="0" y2="0">
<stop offset="0" stop-color="#e0916d"/><stop offset="0.06" stop-color="#f3a47f"/><stop offset="0.24" stop-color="#f5ab88"/>
<stop offset="0.22" stop-color="#f6b592"/><stop offset="0.28" stop-color="#fde3d3"/><stop offset="0.33" stop-color="#fffaf5"/><stop offset="0.4" stop-color="#fde8da"/><stop offset="0.48" stop-color="#f2a885"/>
<stop offset="0.8" stop-color="#e69676"/><stop offset="0.94" stop-color="#d48566"/><stop offset="1" stop-color="#bd7253"/></linearGradient></defs>
<path d="M255.5 521.3 V533.8 A15.4 3.2 0 0 0 286.3 533.8 V521.3 A15.4 3.2 0 0 1 255.5 521.3Z" fill="url(#cuE)" stroke="#a86a4c" stroke-width="0.5"/>
<ellipse cx="270.9" cy="521.3" rx="15.4" ry="3.2" fill="#e99a78" stroke="#9a5e42" stroke-width="0.6"/>
<defs><linearGradient id="tubE" x1="0" x2="1" y1="0" y2="0">
<stop offset="0" stop-color="#86cfe5"/><stop offset="0.07" stop-color="#a6def0"/><stop offset="0.11" stop-color="#ffffff"/><stop offset="0.24" stop-color="#ffffff"/>
<stop offset="0.3" stop-color="#92d5e9"/><stop offset="1" stop-color="#86cfe5"/></linearGradient>
<linearGradient id="tubEd" x1="0" x2="1" y1="0" y2="0">
<stop offset="0" stop-color="#3db0d6"/><stop offset="0.07" stop-color="#6cc4e2"/><stop offset="0.11" stop-color="#ffffff"/><stop offset="0.24" stop-color="#ffffff"/>
<stop offset="0.3" stop-color="#3ab2d8"/><stop offset="1" stop-color="#3aafd6"/></linearGradient></defs>
<rect x="262.4" y="473" width="17.2" height="5.4" fill="#f4fbfd"/>
<rect x="262.4" y="478.4" width="17.2" height="39.7" fill="url(#tubE)"/>
<rect x="262.4" y="518.1" width="17.2" height="6" fill="url(#tubEd)"/>
<ellipse cx="271" cy="478.4" rx="8.6" ry="2.4" fill="#c9ecf5" stroke="#8cc" stroke-width="0.3"/>
<path d="M262.9 479.2 A8.1 2.4 0 0 0 279.1 479.2" fill="none" stroke="#e3f6fb" stroke-width="0.8"/>
<path d="M262.4 473 V524.1 M279.6 473 V524.1" stroke="#666" stroke-width="0.5"/>
<ellipse cx="271" cy="473" rx="8.6" ry="2.4" fill="none" stroke="#666" stroke-width="0.5"/>
<path d="M255.5 521.5 A15.4 3.2 0 0 0 286.3 521.5 L286.3 522.8 A15.4 3.2 0 0 1 255.5 522.8Z" fill="#f0a37f"/>
<path d="M303.40 504.78 L306.24 504.08 L309.08 503.36 L311.92 502.61 L314.76 501.85 L317.60 501.06 L320.44 500.24 L323.28 499.39 L326.12 498.52 L328.96 497.61 L331.80 496.67 L334.64 495.70 L337.48 494.69 L340.32 493.65 L343.16 492.56 L346.00 491.44 L348.84 490.27 L351.68 489.05 L354.52 487.76 L357.36 486.41 L360.20 485.00 L363.04 483.53 L365.88 482.01 L368.72 480.42 L371.56 478.78 L374.40 477.09 L377.24 475.35 L380.08 473.55 L382.92 471.71 L385.76 469.81 L388.60 467.87 L391.44 465.89 L394.28 463.86 L397.12 461.79 L399.96 459.67 L402.80 457.52 L405.64 455.33 L408.48 453.10 L411.32 450.84 L414.16 448.55 L417.00 446.22" fill="none" stroke="#b0602d" stroke-width="1.4" stroke-linejoin="round" stroke-linecap="round" />
<path d="M303.40 519.64 L306.24 519.19 L309.08 518.73 L311.92 518.24 L314.76 517.74 L317.60 517.22 L320.44 516.67 L323.28 516.10 L326.12 515.50 L328.96 514.88 L331.80 514.23 L334.64 513.55 L337.48 512.84 L340.32 512.10 L343.16 511.33 L346.00 510.53 L348.84 509.69 L351.68 508.78 L354.52 507.77 L357.36 506.67 L360.20 505.48 L363.04 504.21 L365.88 502.87 L368.72 501.47 L371.56 500.00 L374.40 498.48 L377.24 496.91 L380.08 495.31 L382.92 493.66 L385.76 492.00 L388.60 490.31 L391.44 488.61 L394.28 486.90 L397.12 485.19 L399.96 483.48 L402.80 481.79 L405.64 480.12 L408.48 478.47 L411.32 476.86 L414.16 475.28 L417.00 473.75" fill="none" stroke="#4a72c0" stroke-width="1.4" stroke-linejoin="round" stroke-linecap="round" />
<path d="M303.40 525.57 L306.24 525.15 L309.08 524.71 L311.92 524.24 L314.76 523.75 L317.60 523.23 L320.44 522.69 L323.28 522.13 L326.12 521.55 L328.96 520.95 L331.80 520.32 L334.64 519.68 L337.48 519.01 L340.32 518.33 L343.16 517.62 L346.00 516.90 L348.84 516.16 L351.68 515.39 L354.52 514.56 L357.36 513.69 L360.20 512.77 L363.04 511.82 L365.88 510.83 L368.72 509.80 L371.56 508.74 L374.40 507.65 L377.24 506.54 L380.08 505.40 L382.92 504.25 L385.76 503.08 L388.60 501.89 L391.44 500.70 L394.28 499.49 L397.12 498.29 L399.96 497.08 L402.80 495.87 L405.64 494.66 L408.48 493.47 L411.32 492.28 L414.16 491.11 L417.00 489.95" fill="none" stroke="#ed7d31" stroke-width="1.4" stroke-linejoin="round" stroke-linecap="round" />
<path d="M303.40 533.67 L306.24 533.40 L309.08 533.12 L311.92 532.83 L314.76 532.53 L317.60 532.22 L320.44 531.91 L323.28 531.58 L326.12 531.24 L328.96 530.89 L331.80 530.53 L334.64 530.15 L337.48 529.76 L340.32 529.35 L343.16 528.93 L346.00 528.49 L348.84 528.03 L351.68 527.54 L354.52 527.01 L357.36 526.44 L360.20 525.84 L363.04 525.20 L365.88 524.53 L368.72 523.83 L371.56 523.11 L374.40 522.37 L377.24 521.60 L380.08 520.82 L382.92 520.02 L385.76 519.21 L388.60 518.39 L391.44 517.56 L394.28 516.72 L397.12 515.89 L399.96 515.05 L402.80 514.22 L405.64 513.40 L408.48 512.58 L411.32 511.77 L414.16 510.98 L417.00 510.20" fill="none" stroke="#70ad47" stroke-width="1.4" stroke-linejoin="round" stroke-linecap="round" />
<path d="M348.7 487.92 L351.1 490.32 L348.7 492.72 L346.3 490.32Z" fill="#a04a14" stroke="#7a3510" stroke-width="0.6"/>
<path d="M348.7 499.78 L351.1 502.18 L348.7 504.58 L346.3 502.18Z" fill="#3d6cc0" stroke="#2e5aa8" stroke-width="0.6"/>
<path d="M348.7 506.25 L351.1 508.65 L348.7 511.05 L346.3 508.65Z" fill="#ed7d31" stroke="#d86a20" stroke-width="0.6"/>
<path d="M348.7 513.8 L351.1 516.2 L348.7 518.6 L346.3 516.2Z" fill="#70ad47" stroke="#4f8a30" stroke-width="0.6"/>
<text transform="translate(420.3,443.4) scale(0.94,1)" font-size="7.5" text-anchor="start" fill="#1e1e1e" stroke="#1e1e1e" stroke-width="0.15">216 Pa</text>
<text transform="translate(420.3,475.8) scale(0.94,1)" font-size="7.5" text-anchor="start" fill="#1e1e1e" stroke="#1e1e1e" stroke-width="0.15">386 Pa</text>
<text transform="translate(420.3,492.7) scale(0.94,1)" font-size="7.5" text-anchor="start" fill="#1e1e1e" stroke="#1e1e1e" stroke-width="0.15">530 Pa</text>
<text transform="translate(420.3,512.5) scale(0.94,1)" font-size="7.5" text-anchor="start" fill="#1e1e1e" stroke="#1e1e1e" stroke-width="0.15">718 Pa</text>
<defs><linearGradient id="cuvEc" x1="0" x2="1"><stop offset="0" stop-color="#6a9fcc"/><stop offset="0.37" stop-color="#6a9fcc"/><stop offset="0.4" stop-color="#7db5e0"/><stop offset="1" stop-color="#7db5e0"/></linearGradient></defs>
<defs><linearGradient id="cuE" x1="0" x2="1" y1="0" y2="0">
<stop offset="0" stop-color="#e0916d"/><stop offset="0.06" stop-color="#f3a47f"/><stop offset="0.24" stop-color="#f5ab88"/>
<stop offset="0.22" stop-color="#f6b592"/><stop offset="0.28" stop-color="#fde3d3"/><stop offset="0.33" stop-color="#fffaf5"/><stop offset="0.4" stop-color="#fde8da"/><stop offset="0.48" stop-color="#f2a885"/>
<stop offset="0.8" stop-color="#e69676"/><stop offset="0.94" stop-color="#d48566"/><stop offset="1" stop-color="#bd7253"/></linearGradient></defs>
<path d="M330.7 464.1 V476.5 A15.55 2.9 0 0 0 361.8 476.5 V464.1 A15.55 2.9 0 0 1 330.7 464.1Z" fill="url(#cuE)" stroke="#a86a4c" stroke-width="0.5"/>
<ellipse cx="346.25" cy="464.1" rx="15.55" ry="2.9" fill="#e99a78" stroke="#9a5e42" stroke-width="0.6"/>
<path d="M335.7 404.7 L354.7 404.7 L357.9 407.1 L357.9 465.7 L335.7 465.7Z" fill="#dbe8f7" stroke="#7d8794" stroke-width="0.5"/>
<rect x="336.5" y="406.7" width="2.2" height="59" fill="#e9f2fb"/>
<path d="M338.8 407.7 V465.7 M353.8 405.2 V465.7 M356.8 406.7 V465.7" stroke="#7f8a96" stroke-width="0.45"/>
<path d="M336.2 405.2 L354.5 405.2 L357.3 407.3 L339 407.9Z" fill="#e6e6e6" stroke="#8a8a8a" stroke-width="0.5"/>
<path d="M339 407.9 L356.9 407.5 L350.7 418.2 L344.9 423.3Z" fill="#f4f9fe"/>
<path d="M339 408.3 L344.7 423.1 M340.5 408.1 L345.9 421.9 M352.1 407.1 L348 416.5 M355.3 407.3 L350.5 417.6" stroke="#8f8f8f" stroke-width="0.6"/>
<path d="M342 422.5 Q344.2 422.9 346.5 420.9 Q348.5 422.3 350.8 421.5 V466.2 H342Z" fill="url(#cuvEc)"/>
<path d="M342.5 424.2 Q346.5 425.7 350.3 423.9" stroke="#a9d0ee" stroke-width="0.5" fill="none"/>
<path d="M330.7 464.1 A15.55 2.9 0 0 0 361.8 464.1 L361.8 465.3 A15.55 2.9 0 0 1 330.7 465.3Z" fill="#f0a37f" stroke="#a86a4c" stroke-width="0.4"/>
<path d="M467.20 460.14 L469.53 459.20 L471.85 458.23 L474.18 457.21 L476.51 456.16 L478.84 455.07 L481.16 453.94 L483.49 452.77 L485.82 451.58 L488.15 450.34 L490.47 449.08 L492.80 447.79 L495.13 446.46 L497.46 445.11 L499.78 443.73 L502.11 442.33 L504.44 440.90 L506.77 439.44 L509.09 437.97 L511.42 436.47 L513.75 434.95 L516.08 433.41 L518.40 431.86 L520.73 430.29 L523.06 428.70 L525.39 427.06 L527.71 425.37 L530.04 423.62 L532.37 421.82 L534.70 419.97 L537.02 418.07 L539.35 416.13 L541.68 414.15 L544.01 412.13 L546.33 410.07 L548.66 407.98 L550.99 405.85 L553.32 403.70 L555.64 401.51 L557.97 399.31 L560.30 397.08" fill="none" stroke="#b3b3b3" stroke-width="1.6" stroke-linejoin="round" stroke-linecap="round" />
<path d="M467.20 505.01 L469.53 504.27 L471.85 503.52 L474.18 502.78 L476.51 502.03 L478.84 501.29 L481.16 500.54 L483.49 499.80 L485.82 499.06 L488.15 498.31 L490.47 497.57 L492.80 496.82 L495.13 496.08 L497.46 495.33 L499.78 494.59 L502.11 493.84 L504.44 493.10 L506.77 492.35 L509.09 491.61 L511.42 490.87 L513.75 490.12 L516.08 489.38 L518.40 488.63 L520.73 487.89 L523.06 487.14 L525.39 486.40 L527.71 485.65 L530.04 484.91 L532.37 484.17 L534.70 483.42 L537.02 482.68 L539.35 481.93 L541.68 481.19 L544.01 480.44 L546.33 479.70 L548.66 478.95 L550.99 478.21 L553.32 477.46 L555.64 476.72 L557.97 475.98 L560.30 475.23" fill="none" stroke="#ed7d31" stroke-width="1.4" stroke-linejoin="round" stroke-linecap="round" />
<path d="M467.20 522.66 L469.53 522.22 L471.85 521.77 L474.18 521.33 L476.51 520.88 L478.84 520.44 L481.16 520.00 L483.49 519.55 L485.82 519.11 L488.15 518.66 L490.47 518.22 L492.80 517.77 L495.13 517.33 L497.46 516.88 L499.78 516.44 L502.11 515.99 L504.44 515.55 L506.77 515.10 L509.09 514.66 L511.42 514.21 L513.75 513.77 L516.08 513.33 L518.40 512.88 L520.73 512.44 L523.06 511.99 L525.39 511.55 L527.71 511.10 L530.04 510.66 L532.37 510.21 L534.70 509.77 L537.02 509.32 L539.35 508.88 L541.68 508.43 L544.01 507.99 L546.33 507.54 L548.66 507.10 L550.99 506.66 L553.32 506.21 L555.64 505.77 L557.97 505.32 L560.30 504.88" fill="none" stroke="#ffc000" stroke-width="1.4" stroke-linejoin="round" stroke-linecap="round" />
<path d="M502.3 457.61 L505.1 460.41 L502.3 463.21 L499.5 460.41Z" fill="#c8c8c8" stroke="#999" stroke-width="0.6"/>
<path d="M502.3 498.71 L505.1 501.51 L502.3 504.31 L499.5 501.51Z" fill="#ed7d31" stroke="#d86a20" stroke-width="0.6"/>
<path d="M502.3 511.78 L505.1 514.58 L502.3 517.38 L499.5 514.58Z" fill="#ffc000" stroke="#d0a000" stroke-width="0.6"/>
<text transform="translate(567,397.6) scale(0.94,1)" font-size="7.5" text-anchor="start" fill="#1e1e1e" stroke="#1e1e1e" stroke-width="0.15">300 Pa</text>
<text transform="translate(567,476.7) scale(0.94,1)" font-size="7.5" text-anchor="start" fill="#1e1e1e" stroke="#1e1e1e" stroke-width="0.15">500 Pa</text>
<text transform="translate(567,506.9) scale(0.94,1)" font-size="7.5" text-anchor="start" fill="#1e1e1e" stroke="#1e1e1e" stroke-width="0.15">600 Pa</text>
<defs><linearGradient id="frEb" x1="0" x2="1"><stop offset="0" stop-color="#bdbdbd"/><stop offset="0.13" stop-color="#d0d0d0"/><stop offset="0.16" stop-color="#f3f3f3"/><stop offset="0.2" stop-color="#d2d2d2"/><stop offset="1" stop-color="#c2c2c2"/></linearGradient>
<linearGradient id="frEu" x1="0" x2="1"><stop offset="0" stop-color="#dcdcdc"/><stop offset="0.3" stop-color="#efefef"/><stop offset="0.36" stop-color="#fafafa"/><stop offset="0.45" stop-color="#e8e8e8"/><stop offset="1" stop-color="#e2e2e2"/></linearGradient>
<linearGradient id="frEd" x1="0" x2="0" y1="0" y2="1"><stop offset="0" stop-color="#b0e2f2"/><stop offset="1" stop-color="#7fd0e8"/></linearGradient></defs>
<path d="M561 447.4 V457.1 A30.7 9.6 0 0 0 622.4 457.1 V447.4Z" fill="url(#frEb)" stroke="#2e2e2e" stroke-width="0.75"/>
<path d="M576.6 432.2 L561 447.4 A30.7 10.3 0 0 0 622.4 447.4 L606.8 432.2Z" fill="#d8d8d8" stroke="#2e2e2e" stroke-width="0.75"/>
<path d="M585.7 434.7 L571.7 453.2" stroke="#f2f2f2" stroke-width="1.6"/>
<path d="M576.6 419.9 V432.2 A15.1 4.2 0 0 0 606.8 432.2 V419.9Z" fill="url(#frEu)" stroke="#2e2e2e" stroke-width="0.75"/>
<path d="M576.6 419.9 C577.7 411.2 585.7 409.2 591.7 409.2 C597.7 409.2 605.7 411.2 606.8 419.9Z" fill="url(#frEd)" stroke="#2e2e2e" stroke-width="0.75"/>
<ellipse cx="591.7" cy="419.9" rx="15.1" ry="5" fill="#5cc0df" stroke="#2e2e2e" stroke-width="0.75"/>
<ellipse cx="591.7" cy="423.4" rx="4.5" ry="1.3" fill="#3aa9cf" stroke="#2e2e2e" stroke-width="0.4"/>
</svg>
</body></html>
